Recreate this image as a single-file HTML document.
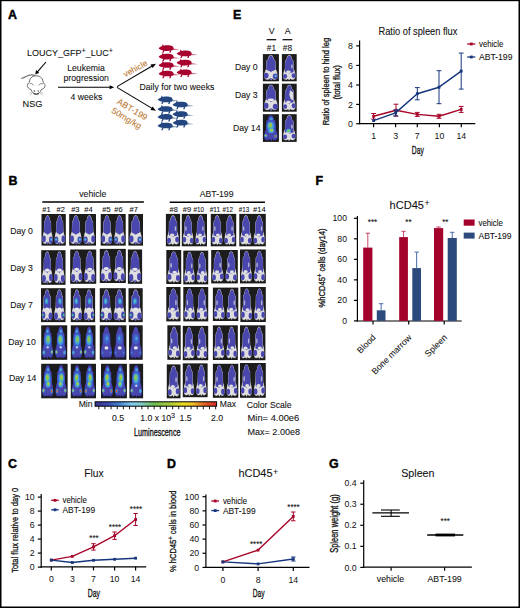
<!DOCTYPE html><html><head><meta charset="utf-8"><style>html,body{margin:0;padding:0;background:#fff;}svg{display:block;font-family:"Liberation Sans",sans-serif;}</style></head><body><svg width="520" height="608" viewBox="0 0 520 608" font-family="Liberation Sans, sans-serif"><rect x="0" y="0" width="520" height="1.2" fill="#000"/><rect x="0" y="0" width="1.5" height="608" fill="#000"/><rect x="518.5" y="0" width="1.5" height="608" fill="#000"/><rect x="0" y="606.5" width="520" height="1.5" fill="#000"/>
<text x="8" y="19.2" font-size="12.4" font-weight="bold" fill="#000" stroke="#000" stroke-width="0.45">A</text>
<text x="8.5" y="185.3" font-size="12.4" font-weight="bold" fill="#000" stroke="#000" stroke-width="0.45">B</text>
<text x="233" y="19.3" font-size="12.4" font-weight="bold" fill="#000" stroke="#000" stroke-width="0.45">E</text>
<text x="315.5" y="185.4" font-size="12.4" font-weight="bold" fill="#000" stroke="#000" stroke-width="0.45">F</text>
<text x="8" y="467.6" font-size="12.4" font-weight="bold" fill="#000" stroke="#000" stroke-width="0.45">C</text>
<text x="167" y="468" font-size="12.4" font-weight="bold" fill="#000" stroke="#000" stroke-width="0.45">D</text>
<text x="329" y="468.3" font-size="12.4" font-weight="bold" fill="#000" stroke="#000" stroke-width="0.45">G</text>
<text x="27.1" y="56.0" font-size="9" fill="#111" stroke="#111" stroke-width="0.08">LOUCY_GFP<tspan font-size="7.2" dy="-3.2">+</tspan><tspan dy="3.2">_LUC</tspan><tspan font-size="7.2" dy="-3.2">+</tspan></text>
<line x1="46" y1="62" x2="37.2" y2="72.2" stroke="#000" stroke-width="1.1" />
<path d="M35.3,74.4 L36.0,69.9 L39.2,72.7 Z" fill="#000"/>
<g fill="none" stroke="#333" stroke-width="0.7"><path d="M21.2,78 C22.5,79 24,77.5 27,76 C30,74.6 33,74.5 35.2,75.5" stroke="#777" stroke-width="1.3"/><path d="M36.2,75.8 C31.5,75.8 29.3,79 29.4,82.5 C27.8,83.2 27,85 27.6,86.8 C28.3,88.6 30,89.2 31,89.4 C32,92.5 34,94 36.2,94 C38.4,94 40.4,92.5 41.4,89.4 C42.5,89.2 44.2,88.6 44.8,86.8 C45.4,85 44.6,83.2 43,82.5 C43.1,79 40.9,75.8 36.2,75.8 Z"/><path d="M29.6,84.2 C30.5,83.1 32.5,83.2 33.6,85.4" stroke="#777" stroke-width="0.9"/><path d="M42.8,84.2 C41.9,83.1 39.9,83.2 38.8,85.4" stroke="#777" stroke-width="0.9"/><path d="M32.2,92.6 L29.2,93.2 M32.4,93.3 L29.8,95.4 M40.2,92.6 L43.2,93.2 M40,93.3 L42.6,95.4" stroke="#999" stroke-width="0.55"/><path d="M33.5,93.6 Q36.2,95.2 39,93.6" stroke="#222" stroke-width="0.9"/></g>
<circle cx="34.3" cy="91" r="0.7" fill="#444"/><circle cx="38.2" cy="91" r="0.7" fill="#444"/>
<text transform="translate(22.6,107.4) scale(1,1.08)" font-size="9.2" text-anchor="start" font-weight="normal" fill="#111"  stroke="#111" stroke-width="0.08">NSG</text>
<text transform="translate(86,71.2) scale(1,1.08)" font-size="8.7" text-anchor="middle" font-weight="normal" fill="#111"  stroke="#111" stroke-width="0.08">Leukemia</text>
<text transform="translate(86.2,81.4) scale(1,1.08)" font-size="8.7" text-anchor="middle" font-weight="normal" fill="#111"  stroke="#111" stroke-width="0.08">progression</text>
<line x1="58" y1="87.3" x2="110.5" y2="87.3" stroke="#000" stroke-width="1.1" />
<path d="M114.2,87.3 L109.6,85.3 L109.6,89.3 Z" fill="#000"/>
<text transform="translate(86.4,99.6) scale(1,1.08)" font-size="8.7" text-anchor="middle" font-weight="normal" fill="#111"  stroke="#111" stroke-width="0.08">4 weeks</text>
<line x1="117" y1="86.6" x2="152.5" y2="65.8" stroke="#000" stroke-width="1.1" />
<line x1="117" y1="87.4" x2="152.5" y2="108.6" stroke="#000" stroke-width="1.1" />
<path d="M156,63.8 L150.5,64.5 L152.6,68.1 Z" fill="#000"/>
<path d="M156,110.8 L150.5,110.1 L152.6,106.5 Z" fill="#000"/>
<text transform="translate(125.2,77.3) rotate(-28.5)" font-size="8.4" fill="#b9772f" stroke="#b9772f" stroke-width="0.08">vehicle</text>
<text transform="translate(116.2,103.2) rotate(31)" font-size="8.7" fill="#b9772f" stroke="#b9772f" stroke-width="0.08">ABT-199</text>
<text transform="translate(110.8,112.2) rotate(31)" font-size="8.7" fill="#b9772f" stroke="#b9772f" stroke-width="0.08">50mg/kg</text>
<text transform="translate(139.5,89.8) scale(1,1.08)" font-size="8.7" text-anchor="start" font-weight="normal" fill="#111"  stroke="#111" stroke-width="0.08">Daily for two weeks</text>
<g transform="translate(167,48.3)" fill="#a8022e"><path d="M-8.4,0.2 C-7.4,-0.9 -6.4,-1.8 -5,-2.2 L-4.3,-4.1 L-3.1,-2.6 C-1,-3.2 3,-3.3 5.2,-2.3 C6.9,-1.4 7.1,0.8 6,1.8 C4,2.8 -1,2.9 -4,2.1 C-5.6,1.7 -7.1,1.1 -8.4,0.2 Z"/><path d="M-3.6,1.8 L-4.8,4.5 L-3.5,4.5 L-2.3,2.2 Z M3,2 L2.2,4.5 L3.5,4.5 L4.5,1.8 Z"/><path d="M5.8,-0.1 L13,1.4 L5.8,1.7 Z" opacity="0.55"/></g>
<g transform="translate(167,56.8)" fill="#a8022e"><path d="M-8.4,0.2 C-7.4,-0.9 -6.4,-1.8 -5,-2.2 L-4.3,-4.1 L-3.1,-2.6 C-1,-3.2 3,-3.3 5.2,-2.3 C6.9,-1.4 7.1,0.8 6,1.8 C4,2.8 -1,2.9 -4,2.1 C-5.6,1.7 -7.1,1.1 -8.4,0.2 Z"/><path d="M-3.6,1.8 L-4.8,4.5 L-3.5,4.5 L-2.3,2.2 Z M3,2 L2.2,4.5 L3.5,4.5 L4.5,1.8 Z"/><path d="M5.8,-0.1 L13,1.4 L5.8,1.7 Z" opacity="0.55"/></g>
<g transform="translate(167,65.2)" fill="#a8022e"><path d="M-8.4,0.2 C-7.4,-0.9 -6.4,-1.8 -5,-2.2 L-4.3,-4.1 L-3.1,-2.6 C-1,-3.2 3,-3.3 5.2,-2.3 C6.9,-1.4 7.1,0.8 6,1.8 C4,2.8 -1,2.9 -4,2.1 C-5.6,1.7 -7.1,1.1 -8.4,0.2 Z"/><path d="M-3.6,1.8 L-4.8,4.5 L-3.5,4.5 L-2.3,2.2 Z M3,2 L2.2,4.5 L3.5,4.5 L4.5,1.8 Z"/><path d="M5.8,-0.1 L13,1.4 L5.8,1.7 Z" opacity="0.55"/></g>
<g transform="translate(167,73.7)" fill="#a8022e"><path d="M-8.4,0.2 C-7.4,-0.9 -6.4,-1.8 -5,-2.2 L-4.3,-4.1 L-3.1,-2.6 C-1,-3.2 3,-3.3 5.2,-2.3 C6.9,-1.4 7.1,0.8 6,1.8 C4,2.8 -1,2.9 -4,2.1 C-5.6,1.7 -7.1,1.1 -8.4,0.2 Z"/><path d="M-3.6,1.8 L-4.8,4.5 L-3.5,4.5 L-2.3,2.2 Z M3,2 L2.2,4.5 L3.5,4.5 L4.5,1.8 Z"/><path d="M5.8,-0.1 L13,1.4 L5.8,1.7 Z" opacity="0.55"/></g>
<g transform="translate(185,53.6)" fill="#a8022e"><path d="M-8.4,0.2 C-7.4,-0.9 -6.4,-1.8 -5,-2.2 L-4.3,-4.1 L-3.1,-2.6 C-1,-3.2 3,-3.3 5.2,-2.3 C6.9,-1.4 7.1,0.8 6,1.8 C4,2.8 -1,2.9 -4,2.1 C-5.6,1.7 -7.1,1.1 -8.4,0.2 Z"/><path d="M-3.6,1.8 L-4.8,4.5 L-3.5,4.5 L-2.3,2.2 Z M3,2 L2.2,4.5 L3.5,4.5 L4.5,1.8 Z"/><path d="M5.8,-0.1 L13,1.4 L5.8,1.7 Z" opacity="0.55"/></g>
<g transform="translate(185,62.8)" fill="#a8022e"><path d="M-8.4,0.2 C-7.4,-0.9 -6.4,-1.8 -5,-2.2 L-4.3,-4.1 L-3.1,-2.6 C-1,-3.2 3,-3.3 5.2,-2.3 C6.9,-1.4 7.1,0.8 6,1.8 C4,2.8 -1,2.9 -4,2.1 C-5.6,1.7 -7.1,1.1 -8.4,0.2 Z"/><path d="M-3.6,1.8 L-4.8,4.5 L-3.5,4.5 L-2.3,2.2 Z M3,2 L2.2,4.5 L3.5,4.5 L4.5,1.8 Z"/><path d="M5.8,-0.1 L13,1.4 L5.8,1.7 Z" opacity="0.55"/></g>
<g transform="translate(185,72.5)" fill="#a8022e"><path d="M-8.4,0.2 C-7.4,-0.9 -6.4,-1.8 -5,-2.2 L-4.3,-4.1 L-3.1,-2.6 C-1,-3.2 3,-3.3 5.2,-2.3 C6.9,-1.4 7.1,0.8 6,1.8 C4,2.8 -1,2.9 -4,2.1 C-5.6,1.7 -7.1,1.1 -8.4,0.2 Z"/><path d="M-3.6,1.8 L-4.8,4.5 L-3.5,4.5 L-2.3,2.2 Z M3,2 L2.2,4.5 L3.5,4.5 L4.5,1.8 Z"/><path d="M5.8,-0.1 L13,1.4 L5.8,1.7 Z" opacity="0.55"/></g>
<g transform="translate(166,99.6)" fill="#234680"><path d="M-8.4,0.2 C-7.4,-0.9 -6.4,-1.8 -5,-2.2 L-4.3,-4.1 L-3.1,-2.6 C-1,-3.2 3,-3.3 5.2,-2.3 C6.9,-1.4 7.1,0.8 6,1.8 C4,2.8 -1,2.9 -4,2.1 C-5.6,1.7 -7.1,1.1 -8.4,0.2 Z"/><path d="M-3.6,1.8 L-4.8,4.5 L-3.5,4.5 L-2.3,2.2 Z M3,2 L2.2,4.5 L3.5,4.5 L4.5,1.8 Z"/><path d="M5.8,-0.1 L13,1.4 L5.8,1.7 Z" opacity="0.55"/></g>
<g transform="translate(166,109.2)" fill="#234680"><path d="M-8.4,0.2 C-7.4,-0.9 -6.4,-1.8 -5,-2.2 L-4.3,-4.1 L-3.1,-2.6 C-1,-3.2 3,-3.3 5.2,-2.3 C6.9,-1.4 7.1,0.8 6,1.8 C4,2.8 -1,2.9 -4,2.1 C-5.6,1.7 -7.1,1.1 -8.4,0.2 Z"/><path d="M-3.6,1.8 L-4.8,4.5 L-3.5,4.5 L-2.3,2.2 Z M3,2 L2.2,4.5 L3.5,4.5 L4.5,1.8 Z"/><path d="M5.8,-0.1 L13,1.4 L5.8,1.7 Z" opacity="0.55"/></g>
<g transform="translate(166,117.0)" fill="#234680"><path d="M-8.4,0.2 C-7.4,-0.9 -6.4,-1.8 -5,-2.2 L-4.3,-4.1 L-3.1,-2.6 C-1,-3.2 3,-3.3 5.2,-2.3 C6.9,-1.4 7.1,0.8 6,1.8 C4,2.8 -1,2.9 -4,2.1 C-5.6,1.7 -7.1,1.1 -8.4,0.2 Z"/><path d="M-3.6,1.8 L-4.8,4.5 L-3.5,4.5 L-2.3,2.2 Z M3,2 L2.2,4.5 L3.5,4.5 L4.5,1.8 Z"/><path d="M5.8,-0.1 L13,1.4 L5.8,1.7 Z" opacity="0.55"/></g>
<g transform="translate(166,125.7)" fill="#234680"><path d="M-8.4,0.2 C-7.4,-0.9 -6.4,-1.8 -5,-2.2 L-4.3,-4.1 L-3.1,-2.6 C-1,-3.2 3,-3.3 5.2,-2.3 C6.9,-1.4 7.1,0.8 6,1.8 C4,2.8 -1,2.9 -4,2.1 C-5.6,1.7 -7.1,1.1 -8.4,0.2 Z"/><path d="M-3.6,1.8 L-4.8,4.5 L-3.5,4.5 L-2.3,2.2 Z M3,2 L2.2,4.5 L3.5,4.5 L4.5,1.8 Z"/><path d="M5.8,-0.1 L13,1.4 L5.8,1.7 Z" opacity="0.55"/></g>
<g transform="translate(181,104.7)" fill="#234680"><path d="M-8.4,0.2 C-7.4,-0.9 -6.4,-1.8 -5,-2.2 L-4.3,-4.1 L-3.1,-2.6 C-1,-3.2 3,-3.3 5.2,-2.3 C6.9,-1.4 7.1,0.8 6,1.8 C4,2.8 -1,2.9 -4,2.1 C-5.6,1.7 -7.1,1.1 -8.4,0.2 Z"/><path d="M-3.6,1.8 L-4.8,4.5 L-3.5,4.5 L-2.3,2.2 Z M3,2 L2.2,4.5 L3.5,4.5 L4.5,1.8 Z"/><path d="M5.8,-0.1 L13,1.4 L5.8,1.7 Z" opacity="0.55"/></g>
<g transform="translate(181,114.3)" fill="#234680"><path d="M-8.4,0.2 C-7.4,-0.9 -6.4,-1.8 -5,-2.2 L-4.3,-4.1 L-3.1,-2.6 C-1,-3.2 3,-3.3 5.2,-2.3 C6.9,-1.4 7.1,0.8 6,1.8 C4,2.8 -1,2.9 -4,2.1 C-5.6,1.7 -7.1,1.1 -8.4,0.2 Z"/><path d="M-3.6,1.8 L-4.8,4.5 L-3.5,4.5 L-2.3,2.2 Z M3,2 L2.2,4.5 L3.5,4.5 L4.5,1.8 Z"/><path d="M5.8,-0.1 L13,1.4 L5.8,1.7 Z" opacity="0.55"/></g>
<g transform="translate(181,122.9)" fill="#234680"><path d="M-8.4,0.2 C-7.4,-0.9 -6.4,-1.8 -5,-2.2 L-4.3,-4.1 L-3.1,-2.6 C-1,-3.2 3,-3.3 5.2,-2.3 C6.9,-1.4 7.1,0.8 6,1.8 C4,2.8 -1,2.9 -4,2.1 C-5.6,1.7 -7.1,1.1 -8.4,0.2 Z"/><path d="M-3.6,1.8 L-4.8,4.5 L-3.5,4.5 L-2.3,2.2 Z M3,2 L2.2,4.5 L3.5,4.5 L4.5,1.8 Z"/><path d="M5.8,-0.1 L13,1.4 L5.8,1.7 Z" opacity="0.55"/></g>
<defs><filter id="bl" x="-5%" y="-5%" width="110%" height="110%"><feGaussianBlur stdDeviation="0.35"/></filter></defs>
<g filter="url(#bl)"><rect x="41.5" y="214" width="24.30" height="31.60" fill="#1a1a1a"/><g transform="translate(41.62,214.50) scale(11.907,30.600)"><path d="M0.5,0.02 C0.62,0.02 0.68,0.1 0.7,0.18 L0.8,0.24 L0.8,0.3 C0.81,0.4 0.81,0.5 0.82,0.56 C0.9,0.64 0.95,0.74 0.93,0.86 C0.91,0.94 0.81,0.97 0.71,0.96 L0.58,0.93 L0.52,0.99 L0.44,0.93 L0.3,0.96 C0.2,0.97 0.09,0.94 0.07,0.86 C0.05,0.74 0.1,0.64 0.18,0.56 C0.19,0.5 0.19,0.4 0.2,0.3 L0.2,0.24 L0.3,0.18 C0.32,0.1 0.38,0.02 0.5,0.02 Z" fill="#8a8a8a"/><path d="M0.5,0.02 C0.62,0.02 0.68,0.1 0.7,0.18 L0.8,0.24 L0.8,0.3 C0.81,0.4 0.81,0.5 0.82,0.56 C0.9,0.64 0.95,0.74 0.93,0.86 C0.91,0.94 0.81,0.97 0.71,0.96 L0.58,0.93 L0.52,0.99 L0.44,0.93 L0.3,0.96 C0.2,0.97 0.09,0.94 0.07,0.86 C0.05,0.74 0.1,0.64 0.18,0.56 C0.19,0.5 0.19,0.4 0.2,0.3 L0.2,0.24 L0.3,0.18 C0.32,0.1 0.38,0.02 0.5,0.02 Z" fill="#dedede" transform="translate(0.04,0.015) scale(0.92,0.97)"/><path d="M0.5,0.04 C0.6,0.04 0.66,0.11 0.68,0.19 L0.78,0.25 L0.78,0.3 C0.79,0.4 0.79,0.5 0.8,0.57 C0.7,0.62 0.6,0.62 0.5,0.66 C0.4,0.62 0.3,0.62 0.2,0.57 C0.21,0.5 0.21,0.4 0.22,0.3 L0.22,0.25 L0.32,0.19 C0.34,0.11 0.4,0.04 0.5,0.04 Z" fill="#4946ae"/><ellipse cx="0.2" cy="0.8" rx="0.15" ry="0.11" fill="#4946ae"/><ellipse cx="0.78" cy="0.83" rx="0.16" ry="0.11" fill="#4946ae"/><ellipse cx="0.5" cy="0.93" rx="0.12" ry="0.04" fill="#4946ae" opacity="0.7"/><ellipse cx="0.8" cy="0.82" rx="0.08" ry="0.04" fill="#4fc0e8"/></g><g transform="translate(65.68,214.50) scale(-11.907,30.600)"><path d="M0.5,0.02 C0.62,0.02 0.68,0.1 0.7,0.18 L0.8,0.24 L0.8,0.3 C0.81,0.4 0.81,0.5 0.82,0.56 C0.9,0.64 0.95,0.74 0.93,0.86 C0.91,0.94 0.81,0.97 0.71,0.96 L0.58,0.93 L0.52,0.99 L0.44,0.93 L0.3,0.96 C0.2,0.97 0.09,0.94 0.07,0.86 C0.05,0.74 0.1,0.64 0.18,0.56 C0.19,0.5 0.19,0.4 0.2,0.3 L0.2,0.24 L0.3,0.18 C0.32,0.1 0.38,0.02 0.5,0.02 Z" fill="#8a8a8a"/><path d="M0.5,0.02 C0.62,0.02 0.68,0.1 0.7,0.18 L0.8,0.24 L0.8,0.3 C0.81,0.4 0.81,0.5 0.82,0.56 C0.9,0.64 0.95,0.74 0.93,0.86 C0.91,0.94 0.81,0.97 0.71,0.96 L0.58,0.93 L0.52,0.99 L0.44,0.93 L0.3,0.96 C0.2,0.97 0.09,0.94 0.07,0.86 C0.05,0.74 0.1,0.64 0.18,0.56 C0.19,0.5 0.19,0.4 0.2,0.3 L0.2,0.24 L0.3,0.18 C0.32,0.1 0.38,0.02 0.5,0.02 Z" fill="#dedede" transform="translate(0.04,0.015) scale(0.92,0.97)"/><path d="M0.5,0.04 C0.6,0.04 0.66,0.11 0.68,0.19 L0.78,0.25 L0.78,0.3 C0.79,0.4 0.79,0.5 0.8,0.57 C0.7,0.62 0.6,0.62 0.5,0.66 C0.4,0.62 0.3,0.62 0.2,0.57 C0.21,0.5 0.21,0.4 0.22,0.3 L0.22,0.25 L0.32,0.19 C0.34,0.11 0.4,0.04 0.5,0.04 Z" fill="#4946ae"/><ellipse cx="0.2" cy="0.8" rx="0.15" ry="0.11" fill="#4946ae"/><ellipse cx="0.78" cy="0.83" rx="0.16" ry="0.11" fill="#4946ae"/><ellipse cx="0.5" cy="0.93" rx="0.12" ry="0.04" fill="#4946ae" opacity="0.7"/><ellipse cx="0.8" cy="0.82" rx="0.08" ry="0.04" fill="#4fc0e8"/></g></g>
<g filter="url(#bl)"><rect x="69.2" y="214" width="26.80" height="31.60" fill="#1a1a1a"/><g transform="translate(69.33,214.50) scale(13.132,30.600)"><path d="M0.5,0.02 C0.62,0.02 0.68,0.1 0.7,0.18 L0.8,0.24 L0.8,0.3 C0.81,0.4 0.81,0.5 0.82,0.56 C0.9,0.64 0.95,0.74 0.93,0.86 C0.91,0.94 0.81,0.97 0.71,0.96 L0.58,0.93 L0.52,0.99 L0.44,0.93 L0.3,0.96 C0.2,0.97 0.09,0.94 0.07,0.86 C0.05,0.74 0.1,0.64 0.18,0.56 C0.19,0.5 0.19,0.4 0.2,0.3 L0.2,0.24 L0.3,0.18 C0.32,0.1 0.38,0.02 0.5,0.02 Z" fill="#8a8a8a"/><path d="M0.5,0.02 C0.62,0.02 0.68,0.1 0.7,0.18 L0.8,0.24 L0.8,0.3 C0.81,0.4 0.81,0.5 0.82,0.56 C0.9,0.64 0.95,0.74 0.93,0.86 C0.91,0.94 0.81,0.97 0.71,0.96 L0.58,0.93 L0.52,0.99 L0.44,0.93 L0.3,0.96 C0.2,0.97 0.09,0.94 0.07,0.86 C0.05,0.74 0.1,0.64 0.18,0.56 C0.19,0.5 0.19,0.4 0.2,0.3 L0.2,0.24 L0.3,0.18 C0.32,0.1 0.38,0.02 0.5,0.02 Z" fill="#dedede" transform="translate(0.04,0.015) scale(0.92,0.97)"/><path d="M0.5,0.04 C0.6,0.04 0.66,0.11 0.68,0.19 L0.78,0.25 L0.78,0.3 C0.79,0.4 0.79,0.5 0.8,0.57 C0.7,0.62 0.6,0.62 0.5,0.66 C0.4,0.62 0.3,0.62 0.2,0.57 C0.21,0.5 0.21,0.4 0.22,0.3 L0.22,0.25 L0.32,0.19 C0.34,0.11 0.4,0.04 0.5,0.04 Z" fill="#4946ae"/><ellipse cx="0.2" cy="0.8" rx="0.15" ry="0.11" fill="#4946ae"/><ellipse cx="0.78" cy="0.83" rx="0.16" ry="0.11" fill="#4946ae"/><ellipse cx="0.5" cy="0.93" rx="0.12" ry="0.04" fill="#4946ae" opacity="0.7"/><ellipse cx="0.8" cy="0.82" rx="0.08" ry="0.04" fill="#4fc0e8"/></g><g transform="translate(95.87,214.50) scale(-13.132,30.600)"><path d="M0.5,0.02 C0.62,0.02 0.68,0.1 0.7,0.18 L0.8,0.24 L0.8,0.3 C0.81,0.4 0.81,0.5 0.82,0.56 C0.9,0.64 0.95,0.74 0.93,0.86 C0.91,0.94 0.81,0.97 0.71,0.96 L0.58,0.93 L0.52,0.99 L0.44,0.93 L0.3,0.96 C0.2,0.97 0.09,0.94 0.07,0.86 C0.05,0.74 0.1,0.64 0.18,0.56 C0.19,0.5 0.19,0.4 0.2,0.3 L0.2,0.24 L0.3,0.18 C0.32,0.1 0.38,0.02 0.5,0.02 Z" fill="#8a8a8a"/><path d="M0.5,0.02 C0.62,0.02 0.68,0.1 0.7,0.18 L0.8,0.24 L0.8,0.3 C0.81,0.4 0.81,0.5 0.82,0.56 C0.9,0.64 0.95,0.74 0.93,0.86 C0.91,0.94 0.81,0.97 0.71,0.96 L0.58,0.93 L0.52,0.99 L0.44,0.93 L0.3,0.96 C0.2,0.97 0.09,0.94 0.07,0.86 C0.05,0.74 0.1,0.64 0.18,0.56 C0.19,0.5 0.19,0.4 0.2,0.3 L0.2,0.24 L0.3,0.18 C0.32,0.1 0.38,0.02 0.5,0.02 Z" fill="#dedede" transform="translate(0.04,0.015) scale(0.92,0.97)"/><path d="M0.5,0.04 C0.6,0.04 0.66,0.11 0.68,0.19 L0.78,0.25 L0.78,0.3 C0.79,0.4 0.79,0.5 0.8,0.57 C0.7,0.62 0.6,0.62 0.5,0.66 C0.4,0.62 0.3,0.62 0.2,0.57 C0.21,0.5 0.21,0.4 0.22,0.3 L0.22,0.25 L0.32,0.19 C0.34,0.11 0.4,0.04 0.5,0.04 Z" fill="#4946ae"/><ellipse cx="0.2" cy="0.8" rx="0.15" ry="0.11" fill="#4946ae"/><ellipse cx="0.78" cy="0.83" rx="0.16" ry="0.11" fill="#4946ae"/><ellipse cx="0.5" cy="0.93" rx="0.12" ry="0.04" fill="#4946ae" opacity="0.7"/><ellipse cx="0.8" cy="0.82" rx="0.08" ry="0.04" fill="#4fc0e8"/></g></g>
<g filter="url(#bl)"><rect x="100.7" y="214" width="25.00" height="31.60" fill="#1a1a1a"/><g transform="translate(100.83,214.50) scale(12.250,30.600)"><path d="M0.5,0.02 C0.62,0.02 0.68,0.1 0.7,0.18 L0.8,0.24 L0.8,0.3 C0.81,0.4 0.81,0.5 0.82,0.56 C0.9,0.64 0.95,0.74 0.93,0.86 C0.91,0.94 0.81,0.97 0.71,0.96 L0.58,0.93 L0.52,0.99 L0.44,0.93 L0.3,0.96 C0.2,0.97 0.09,0.94 0.07,0.86 C0.05,0.74 0.1,0.64 0.18,0.56 C0.19,0.5 0.19,0.4 0.2,0.3 L0.2,0.24 L0.3,0.18 C0.32,0.1 0.38,0.02 0.5,0.02 Z" fill="#8a8a8a"/><path d="M0.5,0.02 C0.62,0.02 0.68,0.1 0.7,0.18 L0.8,0.24 L0.8,0.3 C0.81,0.4 0.81,0.5 0.82,0.56 C0.9,0.64 0.95,0.74 0.93,0.86 C0.91,0.94 0.81,0.97 0.71,0.96 L0.58,0.93 L0.52,0.99 L0.44,0.93 L0.3,0.96 C0.2,0.97 0.09,0.94 0.07,0.86 C0.05,0.74 0.1,0.64 0.18,0.56 C0.19,0.5 0.19,0.4 0.2,0.3 L0.2,0.24 L0.3,0.18 C0.32,0.1 0.38,0.02 0.5,0.02 Z" fill="#dedede" transform="translate(0.04,0.015) scale(0.92,0.97)"/><path d="M0.5,0.04 C0.6,0.04 0.66,0.11 0.68,0.19 L0.78,0.25 L0.78,0.3 C0.79,0.4 0.79,0.5 0.8,0.57 C0.7,0.62 0.6,0.62 0.5,0.66 C0.4,0.62 0.3,0.62 0.2,0.57 C0.21,0.5 0.21,0.4 0.22,0.3 L0.22,0.25 L0.32,0.19 C0.34,0.11 0.4,0.04 0.5,0.04 Z" fill="#4946ae"/><ellipse cx="0.2" cy="0.8" rx="0.15" ry="0.11" fill="#4946ae"/><ellipse cx="0.78" cy="0.83" rx="0.16" ry="0.11" fill="#4946ae"/><ellipse cx="0.5" cy="0.93" rx="0.12" ry="0.04" fill="#4946ae" opacity="0.7"/><ellipse cx="0.8" cy="0.82" rx="0.08" ry="0.04" fill="#4fc0e8"/></g><g transform="translate(125.58,214.50) scale(-12.250,30.600)"><path d="M0.5,0.02 C0.62,0.02 0.68,0.1 0.7,0.18 L0.8,0.24 L0.8,0.3 C0.81,0.4 0.81,0.5 0.82,0.56 C0.9,0.64 0.95,0.74 0.93,0.86 C0.91,0.94 0.81,0.97 0.71,0.96 L0.58,0.93 L0.52,0.99 L0.44,0.93 L0.3,0.96 C0.2,0.97 0.09,0.94 0.07,0.86 C0.05,0.74 0.1,0.64 0.18,0.56 C0.19,0.5 0.19,0.4 0.2,0.3 L0.2,0.24 L0.3,0.18 C0.32,0.1 0.38,0.02 0.5,0.02 Z" fill="#8a8a8a"/><path d="M0.5,0.02 C0.62,0.02 0.68,0.1 0.7,0.18 L0.8,0.24 L0.8,0.3 C0.81,0.4 0.81,0.5 0.82,0.56 C0.9,0.64 0.95,0.74 0.93,0.86 C0.91,0.94 0.81,0.97 0.71,0.96 L0.58,0.93 L0.52,0.99 L0.44,0.93 L0.3,0.96 C0.2,0.97 0.09,0.94 0.07,0.86 C0.05,0.74 0.1,0.64 0.18,0.56 C0.19,0.5 0.19,0.4 0.2,0.3 L0.2,0.24 L0.3,0.18 C0.32,0.1 0.38,0.02 0.5,0.02 Z" fill="#dedede" transform="translate(0.04,0.015) scale(0.92,0.97)"/><path d="M0.5,0.04 C0.6,0.04 0.66,0.11 0.68,0.19 L0.78,0.25 L0.78,0.3 C0.79,0.4 0.79,0.5 0.8,0.57 C0.7,0.62 0.6,0.62 0.5,0.66 C0.4,0.62 0.3,0.62 0.2,0.57 C0.21,0.5 0.21,0.4 0.22,0.3 L0.22,0.25 L0.32,0.19 C0.34,0.11 0.4,0.04 0.5,0.04 Z" fill="#4946ae"/><ellipse cx="0.2" cy="0.8" rx="0.15" ry="0.11" fill="#4946ae"/><ellipse cx="0.78" cy="0.83" rx="0.16" ry="0.11" fill="#4946ae"/><ellipse cx="0.5" cy="0.93" rx="0.12" ry="0.04" fill="#4946ae" opacity="0.7"/><ellipse cx="0.8" cy="0.82" rx="0.08" ry="0.04" fill="#4fc0e8"/></g></g>
<g filter="url(#bl)"><rect x="128.4" y="214" width="14.60" height="31.60" fill="#1a1a1a"/><g transform="translate(128.55,214.50) scale(14.308,30.600)"><path d="M0.5,0.02 C0.62,0.02 0.68,0.1 0.7,0.18 L0.8,0.24 L0.8,0.3 C0.81,0.4 0.81,0.5 0.82,0.56 C0.9,0.64 0.95,0.74 0.93,0.86 C0.91,0.94 0.81,0.97 0.71,0.96 L0.58,0.93 L0.52,0.99 L0.44,0.93 L0.3,0.96 C0.2,0.97 0.09,0.94 0.07,0.86 C0.05,0.74 0.1,0.64 0.18,0.56 C0.19,0.5 0.19,0.4 0.2,0.3 L0.2,0.24 L0.3,0.18 C0.32,0.1 0.38,0.02 0.5,0.02 Z" fill="#8a8a8a"/><path d="M0.5,0.02 C0.62,0.02 0.68,0.1 0.7,0.18 L0.8,0.24 L0.8,0.3 C0.81,0.4 0.81,0.5 0.82,0.56 C0.9,0.64 0.95,0.74 0.93,0.86 C0.91,0.94 0.81,0.97 0.71,0.96 L0.58,0.93 L0.52,0.99 L0.44,0.93 L0.3,0.96 C0.2,0.97 0.09,0.94 0.07,0.86 C0.05,0.74 0.1,0.64 0.18,0.56 C0.19,0.5 0.19,0.4 0.2,0.3 L0.2,0.24 L0.3,0.18 C0.32,0.1 0.38,0.02 0.5,0.02 Z" fill="#dedede" transform="translate(0.04,0.015) scale(0.92,0.97)"/><path d="M0.5,0.04 C0.6,0.04 0.66,0.11 0.68,0.19 L0.78,0.25 L0.78,0.3 C0.79,0.4 0.79,0.5 0.8,0.57 C0.7,0.62 0.6,0.62 0.5,0.66 C0.4,0.62 0.3,0.62 0.2,0.57 C0.21,0.5 0.21,0.4 0.22,0.3 L0.22,0.25 L0.32,0.19 C0.34,0.11 0.4,0.04 0.5,0.04 Z" fill="#4946ae"/><ellipse cx="0.2" cy="0.8" rx="0.15" ry="0.11" fill="#4946ae"/><ellipse cx="0.78" cy="0.83" rx="0.16" ry="0.11" fill="#4946ae"/><ellipse cx="0.5" cy="0.93" rx="0.12" ry="0.04" fill="#4946ae" opacity="0.7"/><ellipse cx="0.8" cy="0.82" rx="0.08" ry="0.04" fill="#4fc0e8"/></g></g>
<g filter="url(#bl)"><rect x="41.2" y="250.2" width="24.30" height="34.60" fill="#1a1a1a"/><g transform="translate(53.23,250.70) scale(-11.907,33.600)"><path d="M0.5,0.02 C0.62,0.02 0.68,0.1 0.7,0.18 L0.8,0.24 L0.8,0.3 C0.81,0.4 0.81,0.5 0.82,0.56 C0.9,0.64 0.95,0.74 0.93,0.86 C0.91,0.94 0.81,0.97 0.71,0.96 L0.58,0.93 L0.52,0.99 L0.44,0.93 L0.3,0.96 C0.2,0.97 0.09,0.94 0.07,0.86 C0.05,0.74 0.1,0.64 0.18,0.56 C0.19,0.5 0.19,0.4 0.2,0.3 L0.2,0.24 L0.3,0.18 C0.32,0.1 0.38,0.02 0.5,0.02 Z" fill="#8a8a8a"/><path d="M0.5,0.02 C0.62,0.02 0.68,0.1 0.7,0.18 L0.8,0.24 L0.8,0.3 C0.81,0.4 0.81,0.5 0.82,0.56 C0.9,0.64 0.95,0.74 0.93,0.86 C0.91,0.94 0.81,0.97 0.71,0.96 L0.58,0.93 L0.52,0.99 L0.44,0.93 L0.3,0.96 C0.2,0.97 0.09,0.94 0.07,0.86 C0.05,0.74 0.1,0.64 0.18,0.56 C0.19,0.5 0.19,0.4 0.2,0.3 L0.2,0.24 L0.3,0.18 C0.32,0.1 0.38,0.02 0.5,0.02 Z" fill="#dedede" transform="translate(0.04,0.015) scale(0.92,0.97)"/><path d="M0.5,0.04 C0.6,0.04 0.66,0.11 0.68,0.19 L0.78,0.25 L0.78,0.3 C0.79,0.4 0.79,0.5 0.8,0.57 C0.7,0.62 0.6,0.62 0.5,0.66 C0.4,0.62 0.3,0.62 0.2,0.57 C0.21,0.5 0.21,0.4 0.22,0.3 L0.22,0.25 L0.32,0.19 C0.34,0.11 0.4,0.04 0.5,0.04 Z" fill="#4946ae"/><ellipse cx="0.2" cy="0.8" rx="0.15" ry="0.11" fill="#4946ae"/><ellipse cx="0.78" cy="0.83" rx="0.16" ry="0.11" fill="#4946ae"/><ellipse cx="0.5" cy="0.93" rx="0.12" ry="0.04" fill="#4946ae" opacity="0.7"/><ellipse cx="0.5" cy="0.58" rx="0.2" ry="0.05" fill="#e8e8e8"/></g><g transform="translate(53.47,250.70) scale(11.907,33.600)"><path d="M0.5,0.02 C0.62,0.02 0.68,0.1 0.7,0.18 L0.8,0.24 L0.8,0.3 C0.81,0.4 0.81,0.5 0.82,0.56 C0.9,0.64 0.95,0.74 0.93,0.86 C0.91,0.94 0.81,0.97 0.71,0.96 L0.58,0.93 L0.52,0.99 L0.44,0.93 L0.3,0.96 C0.2,0.97 0.09,0.94 0.07,0.86 C0.05,0.74 0.1,0.64 0.18,0.56 C0.19,0.5 0.19,0.4 0.2,0.3 L0.2,0.24 L0.3,0.18 C0.32,0.1 0.38,0.02 0.5,0.02 Z" fill="#8a8a8a"/><path d="M0.5,0.02 C0.62,0.02 0.68,0.1 0.7,0.18 L0.8,0.24 L0.8,0.3 C0.81,0.4 0.81,0.5 0.82,0.56 C0.9,0.64 0.95,0.74 0.93,0.86 C0.91,0.94 0.81,0.97 0.71,0.96 L0.58,0.93 L0.52,0.99 L0.44,0.93 L0.3,0.96 C0.2,0.97 0.09,0.94 0.07,0.86 C0.05,0.74 0.1,0.64 0.18,0.56 C0.19,0.5 0.19,0.4 0.2,0.3 L0.2,0.24 L0.3,0.18 C0.32,0.1 0.38,0.02 0.5,0.02 Z" fill="#dedede" transform="translate(0.04,0.015) scale(0.92,0.97)"/><path d="M0.5,0.04 C0.6,0.04 0.66,0.11 0.68,0.19 L0.78,0.25 L0.78,0.3 C0.79,0.4 0.79,0.5 0.8,0.57 C0.7,0.62 0.6,0.62 0.5,0.66 C0.4,0.62 0.3,0.62 0.2,0.57 C0.21,0.5 0.21,0.4 0.22,0.3 L0.22,0.25 L0.32,0.19 C0.34,0.11 0.4,0.04 0.5,0.04 Z" fill="#4946ae"/><ellipse cx="0.2" cy="0.8" rx="0.15" ry="0.11" fill="#4946ae"/><ellipse cx="0.78" cy="0.83" rx="0.16" ry="0.11" fill="#4946ae"/><ellipse cx="0.5" cy="0.93" rx="0.12" ry="0.04" fill="#4946ae" opacity="0.7"/><ellipse cx="0.5" cy="0.58" rx="0.2" ry="0.05" fill="#e8e8e8"/></g></g>
<g filter="url(#bl)"><rect x="70.2" y="249.5" width="26.00" height="34.30" fill="#1a1a1a"/><g transform="translate(83.07,250.00) scale(-12.740,33.300)"><path d="M0.5,0.02 C0.62,0.02 0.68,0.1 0.7,0.18 L0.8,0.24 L0.8,0.3 C0.81,0.4 0.81,0.5 0.82,0.56 C0.9,0.64 0.95,0.74 0.93,0.86 C0.91,0.94 0.81,0.97 0.71,0.96 L0.58,0.93 L0.52,0.99 L0.44,0.93 L0.3,0.96 C0.2,0.97 0.09,0.94 0.07,0.86 C0.05,0.74 0.1,0.64 0.18,0.56 C0.19,0.5 0.19,0.4 0.2,0.3 L0.2,0.24 L0.3,0.18 C0.32,0.1 0.38,0.02 0.5,0.02 Z" fill="#8a8a8a"/><path d="M0.5,0.02 C0.62,0.02 0.68,0.1 0.7,0.18 L0.8,0.24 L0.8,0.3 C0.81,0.4 0.81,0.5 0.82,0.56 C0.9,0.64 0.95,0.74 0.93,0.86 C0.91,0.94 0.81,0.97 0.71,0.96 L0.58,0.93 L0.52,0.99 L0.44,0.93 L0.3,0.96 C0.2,0.97 0.09,0.94 0.07,0.86 C0.05,0.74 0.1,0.64 0.18,0.56 C0.19,0.5 0.19,0.4 0.2,0.3 L0.2,0.24 L0.3,0.18 C0.32,0.1 0.38,0.02 0.5,0.02 Z" fill="#dedede" transform="translate(0.04,0.015) scale(0.92,0.97)"/><path d="M0.5,0.04 C0.6,0.04 0.66,0.11 0.68,0.19 L0.78,0.25 L0.78,0.3 C0.79,0.4 0.79,0.5 0.8,0.57 C0.7,0.62 0.6,0.62 0.5,0.66 C0.4,0.62 0.3,0.62 0.2,0.57 C0.21,0.5 0.21,0.4 0.22,0.3 L0.22,0.25 L0.32,0.19 C0.34,0.11 0.4,0.04 0.5,0.04 Z" fill="#4946ae"/><ellipse cx="0.2" cy="0.8" rx="0.15" ry="0.11" fill="#4946ae"/><ellipse cx="0.78" cy="0.83" rx="0.16" ry="0.11" fill="#4946ae"/><ellipse cx="0.5" cy="0.93" rx="0.12" ry="0.04" fill="#4946ae" opacity="0.7"/><ellipse cx="0.5" cy="0.58" rx="0.2" ry="0.05" fill="#e8e8e8"/></g><g transform="translate(83.33,250.00) scale(12.740,33.300)"><path d="M0.5,0.02 C0.62,0.02 0.68,0.1 0.7,0.18 L0.8,0.24 L0.8,0.3 C0.81,0.4 0.81,0.5 0.82,0.56 C0.9,0.64 0.95,0.74 0.93,0.86 C0.91,0.94 0.81,0.97 0.71,0.96 L0.58,0.93 L0.52,0.99 L0.44,0.93 L0.3,0.96 C0.2,0.97 0.09,0.94 0.07,0.86 C0.05,0.74 0.1,0.64 0.18,0.56 C0.19,0.5 0.19,0.4 0.2,0.3 L0.2,0.24 L0.3,0.18 C0.32,0.1 0.38,0.02 0.5,0.02 Z" fill="#8a8a8a"/><path d="M0.5,0.02 C0.62,0.02 0.68,0.1 0.7,0.18 L0.8,0.24 L0.8,0.3 C0.81,0.4 0.81,0.5 0.82,0.56 C0.9,0.64 0.95,0.74 0.93,0.86 C0.91,0.94 0.81,0.97 0.71,0.96 L0.58,0.93 L0.52,0.99 L0.44,0.93 L0.3,0.96 C0.2,0.97 0.09,0.94 0.07,0.86 C0.05,0.74 0.1,0.64 0.18,0.56 C0.19,0.5 0.19,0.4 0.2,0.3 L0.2,0.24 L0.3,0.18 C0.32,0.1 0.38,0.02 0.5,0.02 Z" fill="#dedede" transform="translate(0.04,0.015) scale(0.92,0.97)"/><path d="M0.5,0.04 C0.6,0.04 0.66,0.11 0.68,0.19 L0.78,0.25 L0.78,0.3 C0.79,0.4 0.79,0.5 0.8,0.57 C0.7,0.62 0.6,0.62 0.5,0.66 C0.4,0.62 0.3,0.62 0.2,0.57 C0.21,0.5 0.21,0.4 0.22,0.3 L0.22,0.25 L0.32,0.19 C0.34,0.11 0.4,0.04 0.5,0.04 Z" fill="#4946ae"/><ellipse cx="0.2" cy="0.8" rx="0.15" ry="0.11" fill="#4946ae"/><ellipse cx="0.78" cy="0.83" rx="0.16" ry="0.11" fill="#4946ae"/><ellipse cx="0.5" cy="0.93" rx="0.12" ry="0.04" fill="#4946ae" opacity="0.7"/><ellipse cx="0.5" cy="0.58" rx="0.2" ry="0.05" fill="#e8e8e8"/></g></g>
<g filter="url(#bl)"><rect x="99.8" y="248.9" width="26.00" height="34.10" fill="#1a1a1a"/><g transform="translate(112.67,249.40) scale(-12.740,33.100)"><path d="M0.5,0.02 C0.62,0.02 0.68,0.1 0.7,0.18 L0.8,0.24 L0.8,0.3 C0.81,0.4 0.81,0.5 0.82,0.56 C0.9,0.64 0.95,0.74 0.93,0.86 C0.91,0.94 0.81,0.97 0.71,0.96 L0.58,0.93 L0.52,0.99 L0.44,0.93 L0.3,0.96 C0.2,0.97 0.09,0.94 0.07,0.86 C0.05,0.74 0.1,0.64 0.18,0.56 C0.19,0.5 0.19,0.4 0.2,0.3 L0.2,0.24 L0.3,0.18 C0.32,0.1 0.38,0.02 0.5,0.02 Z" fill="#8a8a8a"/><path d="M0.5,0.02 C0.62,0.02 0.68,0.1 0.7,0.18 L0.8,0.24 L0.8,0.3 C0.81,0.4 0.81,0.5 0.82,0.56 C0.9,0.64 0.95,0.74 0.93,0.86 C0.91,0.94 0.81,0.97 0.71,0.96 L0.58,0.93 L0.52,0.99 L0.44,0.93 L0.3,0.96 C0.2,0.97 0.09,0.94 0.07,0.86 C0.05,0.74 0.1,0.64 0.18,0.56 C0.19,0.5 0.19,0.4 0.2,0.3 L0.2,0.24 L0.3,0.18 C0.32,0.1 0.38,0.02 0.5,0.02 Z" fill="#dedede" transform="translate(0.04,0.015) scale(0.92,0.97)"/><path d="M0.5,0.04 C0.6,0.04 0.66,0.11 0.68,0.19 L0.78,0.25 L0.78,0.3 C0.79,0.4 0.79,0.5 0.8,0.57 C0.7,0.62 0.6,0.62 0.5,0.66 C0.4,0.62 0.3,0.62 0.2,0.57 C0.21,0.5 0.21,0.4 0.22,0.3 L0.22,0.25 L0.32,0.19 C0.34,0.11 0.4,0.04 0.5,0.04 Z" fill="#4946ae"/><ellipse cx="0.2" cy="0.8" rx="0.15" ry="0.11" fill="#4946ae"/><ellipse cx="0.78" cy="0.83" rx="0.16" ry="0.11" fill="#4946ae"/><ellipse cx="0.5" cy="0.93" rx="0.12" ry="0.04" fill="#4946ae" opacity="0.7"/><ellipse cx="0.5" cy="0.58" rx="0.2" ry="0.05" fill="#e8e8e8"/></g><g transform="translate(112.93,249.40) scale(12.740,33.100)"><path d="M0.5,0.02 C0.62,0.02 0.68,0.1 0.7,0.18 L0.8,0.24 L0.8,0.3 C0.81,0.4 0.81,0.5 0.82,0.56 C0.9,0.64 0.95,0.74 0.93,0.86 C0.91,0.94 0.81,0.97 0.71,0.96 L0.58,0.93 L0.52,0.99 L0.44,0.93 L0.3,0.96 C0.2,0.97 0.09,0.94 0.07,0.86 C0.05,0.74 0.1,0.64 0.18,0.56 C0.19,0.5 0.19,0.4 0.2,0.3 L0.2,0.24 L0.3,0.18 C0.32,0.1 0.38,0.02 0.5,0.02 Z" fill="#8a8a8a"/><path d="M0.5,0.02 C0.62,0.02 0.68,0.1 0.7,0.18 L0.8,0.24 L0.8,0.3 C0.81,0.4 0.81,0.5 0.82,0.56 C0.9,0.64 0.95,0.74 0.93,0.86 C0.91,0.94 0.81,0.97 0.71,0.96 L0.58,0.93 L0.52,0.99 L0.44,0.93 L0.3,0.96 C0.2,0.97 0.09,0.94 0.07,0.86 C0.05,0.74 0.1,0.64 0.18,0.56 C0.19,0.5 0.19,0.4 0.2,0.3 L0.2,0.24 L0.3,0.18 C0.32,0.1 0.38,0.02 0.5,0.02 Z" fill="#dedede" transform="translate(0.04,0.015) scale(0.92,0.97)"/><path d="M0.5,0.04 C0.6,0.04 0.66,0.11 0.68,0.19 L0.78,0.25 L0.78,0.3 C0.79,0.4 0.79,0.5 0.8,0.57 C0.7,0.62 0.6,0.62 0.5,0.66 C0.4,0.62 0.3,0.62 0.2,0.57 C0.21,0.5 0.21,0.4 0.22,0.3 L0.22,0.25 L0.32,0.19 C0.34,0.11 0.4,0.04 0.5,0.04 Z" fill="#4946ae"/><ellipse cx="0.2" cy="0.8" rx="0.15" ry="0.11" fill="#4946ae"/><ellipse cx="0.78" cy="0.83" rx="0.16" ry="0.11" fill="#4946ae"/><ellipse cx="0.5" cy="0.93" rx="0.12" ry="0.04" fill="#4946ae" opacity="0.7"/><ellipse cx="0.5" cy="0.58" rx="0.2" ry="0.05" fill="#e8e8e8"/></g></g>
<g filter="url(#bl)"><rect x="127.9" y="249.5" width="14.20" height="34.30" fill="#1a1a1a"/><g transform="translate(141.96,250.00) scale(-13.916,33.300)"><path d="M0.5,0.02 C0.62,0.02 0.68,0.1 0.7,0.18 L0.8,0.24 L0.8,0.3 C0.81,0.4 0.81,0.5 0.82,0.56 C0.9,0.64 0.95,0.74 0.93,0.86 C0.91,0.94 0.81,0.97 0.71,0.96 L0.58,0.93 L0.52,0.99 L0.44,0.93 L0.3,0.96 C0.2,0.97 0.09,0.94 0.07,0.86 C0.05,0.74 0.1,0.64 0.18,0.56 C0.19,0.5 0.19,0.4 0.2,0.3 L0.2,0.24 L0.3,0.18 C0.32,0.1 0.38,0.02 0.5,0.02 Z" fill="#8a8a8a"/><path d="M0.5,0.02 C0.62,0.02 0.68,0.1 0.7,0.18 L0.8,0.24 L0.8,0.3 C0.81,0.4 0.81,0.5 0.82,0.56 C0.9,0.64 0.95,0.74 0.93,0.86 C0.91,0.94 0.81,0.97 0.71,0.96 L0.58,0.93 L0.52,0.99 L0.44,0.93 L0.3,0.96 C0.2,0.97 0.09,0.94 0.07,0.86 C0.05,0.74 0.1,0.64 0.18,0.56 C0.19,0.5 0.19,0.4 0.2,0.3 L0.2,0.24 L0.3,0.18 C0.32,0.1 0.38,0.02 0.5,0.02 Z" fill="#dedede" transform="translate(0.04,0.015) scale(0.92,0.97)"/><path d="M0.5,0.04 C0.6,0.04 0.66,0.11 0.68,0.19 L0.78,0.25 L0.78,0.3 C0.79,0.4 0.79,0.5 0.8,0.57 C0.7,0.62 0.6,0.62 0.5,0.66 C0.4,0.62 0.3,0.62 0.2,0.57 C0.21,0.5 0.21,0.4 0.22,0.3 L0.22,0.25 L0.32,0.19 C0.34,0.11 0.4,0.04 0.5,0.04 Z" fill="#4946ae"/><ellipse cx="0.2" cy="0.8" rx="0.15" ry="0.11" fill="#4946ae"/><ellipse cx="0.78" cy="0.83" rx="0.16" ry="0.11" fill="#4946ae"/><ellipse cx="0.5" cy="0.93" rx="0.12" ry="0.04" fill="#4946ae" opacity="0.7"/><ellipse cx="0.5" cy="0.58" rx="0.2" ry="0.05" fill="#e8e8e8"/></g></g>
<g filter="url(#bl)"><rect x="41" y="288.2" width="24.50" height="33.90" fill="#1a1a1a"/><g transform="translate(41.12,288.70) scale(12.005,32.900)"><path d="M0.5,0.02 C0.62,0.02 0.68,0.1 0.7,0.18 L0.8,0.24 L0.8,0.3 C0.81,0.4 0.81,0.5 0.82,0.56 C0.9,0.64 0.95,0.74 0.93,0.86 C0.91,0.94 0.81,0.97 0.71,0.96 L0.58,0.93 L0.52,0.99 L0.44,0.93 L0.3,0.96 C0.2,0.97 0.09,0.94 0.07,0.86 C0.05,0.74 0.1,0.64 0.18,0.56 C0.19,0.5 0.19,0.4 0.2,0.3 L0.2,0.24 L0.3,0.18 C0.32,0.1 0.38,0.02 0.5,0.02 Z" fill="#8a8a8a"/><path d="M0.5,0.02 C0.62,0.02 0.68,0.1 0.7,0.18 L0.8,0.24 L0.8,0.3 C0.81,0.4 0.81,0.5 0.82,0.56 C0.9,0.64 0.95,0.74 0.93,0.86 C0.91,0.94 0.81,0.97 0.71,0.96 L0.58,0.93 L0.52,0.99 L0.44,0.93 L0.3,0.96 C0.2,0.97 0.09,0.94 0.07,0.86 C0.05,0.74 0.1,0.64 0.18,0.56 C0.19,0.5 0.19,0.4 0.2,0.3 L0.2,0.24 L0.3,0.18 C0.32,0.1 0.38,0.02 0.5,0.02 Z" fill="#dedede" transform="translate(0.04,0.015) scale(0.92,0.97)"/><path d="M0.5,0.04 C0.6,0.04 0.66,0.11 0.68,0.19 L0.78,0.25 L0.78,0.3 C0.79,0.4 0.79,0.5 0.8,0.57 C0.7,0.62 0.6,0.62 0.5,0.66 C0.4,0.62 0.3,0.62 0.2,0.57 C0.21,0.5 0.21,0.4 0.22,0.3 L0.22,0.25 L0.32,0.19 C0.34,0.11 0.4,0.04 0.5,0.04 Z" fill="#4946ae"/><ellipse cx="0.2" cy="0.8" rx="0.15" ry="0.11" fill="#4946ae"/><ellipse cx="0.78" cy="0.83" rx="0.16" ry="0.11" fill="#4946ae"/><ellipse cx="0.5" cy="0.93" rx="0.12" ry="0.04" fill="#4946ae" opacity="0.7"/><ellipse cx="0.45" cy="0.38" rx="0.15" ry="0.1" fill="#3a8ad8"/><ellipse cx="0.45" cy="0.38" rx="0.07" ry="0.05" fill="#50c8c0"/><ellipse cx="0.5" cy="0.62" rx="0.18" ry="0.05" fill="#e8e8e8"/><ellipse cx="0.15" cy="0.8" rx="0.07" ry="0.04" fill="#40c8a0"/></g><g transform="translate(65.38,288.70) scale(-12.005,32.900)"><path d="M0.5,0.02 C0.62,0.02 0.68,0.1 0.7,0.18 L0.8,0.24 L0.8,0.3 C0.81,0.4 0.81,0.5 0.82,0.56 C0.9,0.64 0.95,0.74 0.93,0.86 C0.91,0.94 0.81,0.97 0.71,0.96 L0.58,0.93 L0.52,0.99 L0.44,0.93 L0.3,0.96 C0.2,0.97 0.09,0.94 0.07,0.86 C0.05,0.74 0.1,0.64 0.18,0.56 C0.19,0.5 0.19,0.4 0.2,0.3 L0.2,0.24 L0.3,0.18 C0.32,0.1 0.38,0.02 0.5,0.02 Z" fill="#8a8a8a"/><path d="M0.5,0.02 C0.62,0.02 0.68,0.1 0.7,0.18 L0.8,0.24 L0.8,0.3 C0.81,0.4 0.81,0.5 0.82,0.56 C0.9,0.64 0.95,0.74 0.93,0.86 C0.91,0.94 0.81,0.97 0.71,0.96 L0.58,0.93 L0.52,0.99 L0.44,0.93 L0.3,0.96 C0.2,0.97 0.09,0.94 0.07,0.86 C0.05,0.74 0.1,0.64 0.18,0.56 C0.19,0.5 0.19,0.4 0.2,0.3 L0.2,0.24 L0.3,0.18 C0.32,0.1 0.38,0.02 0.5,0.02 Z" fill="#dedede" transform="translate(0.04,0.015) scale(0.92,0.97)"/><path d="M0.5,0.04 C0.6,0.04 0.66,0.11 0.68,0.19 L0.78,0.25 L0.78,0.3 C0.79,0.4 0.79,0.5 0.8,0.57 C0.7,0.62 0.6,0.62 0.5,0.66 C0.4,0.62 0.3,0.62 0.2,0.57 C0.21,0.5 0.21,0.4 0.22,0.3 L0.22,0.25 L0.32,0.19 C0.34,0.11 0.4,0.04 0.5,0.04 Z" fill="#4946ae"/><ellipse cx="0.2" cy="0.8" rx="0.15" ry="0.11" fill="#4946ae"/><ellipse cx="0.78" cy="0.83" rx="0.16" ry="0.11" fill="#4946ae"/><ellipse cx="0.5" cy="0.93" rx="0.12" ry="0.04" fill="#4946ae" opacity="0.7"/><ellipse cx="0.45" cy="0.38" rx="0.15" ry="0.1" fill="#3a8ad8"/><ellipse cx="0.45" cy="0.38" rx="0.07" ry="0.05" fill="#50c8c0"/><ellipse cx="0.5" cy="0.62" rx="0.18" ry="0.05" fill="#e8e8e8"/><ellipse cx="0.15" cy="0.8" rx="0.07" ry="0.04" fill="#40c8a0"/></g></g>
<g filter="url(#bl)"><rect x="70.8" y="288.2" width="24.30" height="33.90" fill="#1a1a1a"/><g transform="translate(70.92,288.70) scale(11.907,32.900)"><path d="M0.5,0.02 C0.62,0.02 0.68,0.1 0.7,0.18 L0.8,0.24 L0.8,0.3 C0.81,0.4 0.81,0.5 0.82,0.56 C0.9,0.64 0.95,0.74 0.93,0.86 C0.91,0.94 0.81,0.97 0.71,0.96 L0.58,0.93 L0.52,0.99 L0.44,0.93 L0.3,0.96 C0.2,0.97 0.09,0.94 0.07,0.86 C0.05,0.74 0.1,0.64 0.18,0.56 C0.19,0.5 0.19,0.4 0.2,0.3 L0.2,0.24 L0.3,0.18 C0.32,0.1 0.38,0.02 0.5,0.02 Z" fill="#8a8a8a"/><path d="M0.5,0.02 C0.62,0.02 0.68,0.1 0.7,0.18 L0.8,0.24 L0.8,0.3 C0.81,0.4 0.81,0.5 0.82,0.56 C0.9,0.64 0.95,0.74 0.93,0.86 C0.91,0.94 0.81,0.97 0.71,0.96 L0.58,0.93 L0.52,0.99 L0.44,0.93 L0.3,0.96 C0.2,0.97 0.09,0.94 0.07,0.86 C0.05,0.74 0.1,0.64 0.18,0.56 C0.19,0.5 0.19,0.4 0.2,0.3 L0.2,0.24 L0.3,0.18 C0.32,0.1 0.38,0.02 0.5,0.02 Z" fill="#dedede" transform="translate(0.04,0.015) scale(0.92,0.97)"/><path d="M0.5,0.04 C0.6,0.04 0.66,0.11 0.68,0.19 L0.78,0.25 L0.78,0.3 C0.79,0.4 0.79,0.5 0.8,0.57 C0.7,0.62 0.6,0.62 0.5,0.66 C0.4,0.62 0.3,0.62 0.2,0.57 C0.21,0.5 0.21,0.4 0.22,0.3 L0.22,0.25 L0.32,0.19 C0.34,0.11 0.4,0.04 0.5,0.04 Z" fill="#4946ae"/><ellipse cx="0.2" cy="0.8" rx="0.15" ry="0.11" fill="#4946ae"/><ellipse cx="0.78" cy="0.83" rx="0.16" ry="0.11" fill="#4946ae"/><ellipse cx="0.5" cy="0.93" rx="0.12" ry="0.04" fill="#4946ae" opacity="0.7"/><ellipse cx="0.45" cy="0.38" rx="0.15" ry="0.1" fill="#3a8ad8"/><ellipse cx="0.45" cy="0.38" rx="0.07" ry="0.05" fill="#50c8c0"/><ellipse cx="0.5" cy="0.62" rx="0.18" ry="0.05" fill="#e8e8e8"/><ellipse cx="0.15" cy="0.8" rx="0.07" ry="0.04" fill="#40c8a0"/></g><g transform="translate(94.98,288.70) scale(-11.907,32.900)"><path d="M0.5,0.02 C0.62,0.02 0.68,0.1 0.7,0.18 L0.8,0.24 L0.8,0.3 C0.81,0.4 0.81,0.5 0.82,0.56 C0.9,0.64 0.95,0.74 0.93,0.86 C0.91,0.94 0.81,0.97 0.71,0.96 L0.58,0.93 L0.52,0.99 L0.44,0.93 L0.3,0.96 C0.2,0.97 0.09,0.94 0.07,0.86 C0.05,0.74 0.1,0.64 0.18,0.56 C0.19,0.5 0.19,0.4 0.2,0.3 L0.2,0.24 L0.3,0.18 C0.32,0.1 0.38,0.02 0.5,0.02 Z" fill="#8a8a8a"/><path d="M0.5,0.02 C0.62,0.02 0.68,0.1 0.7,0.18 L0.8,0.24 L0.8,0.3 C0.81,0.4 0.81,0.5 0.82,0.56 C0.9,0.64 0.95,0.74 0.93,0.86 C0.91,0.94 0.81,0.97 0.71,0.96 L0.58,0.93 L0.52,0.99 L0.44,0.93 L0.3,0.96 C0.2,0.97 0.09,0.94 0.07,0.86 C0.05,0.74 0.1,0.64 0.18,0.56 C0.19,0.5 0.19,0.4 0.2,0.3 L0.2,0.24 L0.3,0.18 C0.32,0.1 0.38,0.02 0.5,0.02 Z" fill="#dedede" transform="translate(0.04,0.015) scale(0.92,0.97)"/><path d="M0.5,0.04 C0.6,0.04 0.66,0.11 0.68,0.19 L0.78,0.25 L0.78,0.3 C0.79,0.4 0.79,0.5 0.8,0.57 C0.7,0.62 0.6,0.62 0.5,0.66 C0.4,0.62 0.3,0.62 0.2,0.57 C0.21,0.5 0.21,0.4 0.22,0.3 L0.22,0.25 L0.32,0.19 C0.34,0.11 0.4,0.04 0.5,0.04 Z" fill="#4946ae"/><ellipse cx="0.2" cy="0.8" rx="0.15" ry="0.11" fill="#4946ae"/><ellipse cx="0.78" cy="0.83" rx="0.16" ry="0.11" fill="#4946ae"/><ellipse cx="0.5" cy="0.93" rx="0.12" ry="0.04" fill="#4946ae" opacity="0.7"/><ellipse cx="0.45" cy="0.38" rx="0.15" ry="0.1" fill="#3a8ad8"/><ellipse cx="0.45" cy="0.38" rx="0.07" ry="0.05" fill="#50c8c0"/><ellipse cx="0.5" cy="0.62" rx="0.18" ry="0.05" fill="#e8e8e8"/><ellipse cx="0.15" cy="0.8" rx="0.07" ry="0.04" fill="#40c8a0"/></g></g>
<g filter="url(#bl)"><rect x="99.8" y="288.2" width="26.00" height="33.90" fill="#1a1a1a"/><g transform="translate(99.93,288.70) scale(12.740,32.900)"><path d="M0.5,0.02 C0.62,0.02 0.68,0.1 0.7,0.18 L0.8,0.24 L0.8,0.3 C0.81,0.4 0.81,0.5 0.82,0.56 C0.9,0.64 0.95,0.74 0.93,0.86 C0.91,0.94 0.81,0.97 0.71,0.96 L0.58,0.93 L0.52,0.99 L0.44,0.93 L0.3,0.96 C0.2,0.97 0.09,0.94 0.07,0.86 C0.05,0.74 0.1,0.64 0.18,0.56 C0.19,0.5 0.19,0.4 0.2,0.3 L0.2,0.24 L0.3,0.18 C0.32,0.1 0.38,0.02 0.5,0.02 Z" fill="#8a8a8a"/><path d="M0.5,0.02 C0.62,0.02 0.68,0.1 0.7,0.18 L0.8,0.24 L0.8,0.3 C0.81,0.4 0.81,0.5 0.82,0.56 C0.9,0.64 0.95,0.74 0.93,0.86 C0.91,0.94 0.81,0.97 0.71,0.96 L0.58,0.93 L0.52,0.99 L0.44,0.93 L0.3,0.96 C0.2,0.97 0.09,0.94 0.07,0.86 C0.05,0.74 0.1,0.64 0.18,0.56 C0.19,0.5 0.19,0.4 0.2,0.3 L0.2,0.24 L0.3,0.18 C0.32,0.1 0.38,0.02 0.5,0.02 Z" fill="#dedede" transform="translate(0.04,0.015) scale(0.92,0.97)"/><path d="M0.5,0.04 C0.6,0.04 0.66,0.11 0.68,0.19 L0.78,0.25 L0.78,0.3 C0.79,0.4 0.79,0.5 0.8,0.57 C0.7,0.62 0.6,0.62 0.5,0.66 C0.4,0.62 0.3,0.62 0.2,0.57 C0.21,0.5 0.21,0.4 0.22,0.3 L0.22,0.25 L0.32,0.19 C0.34,0.11 0.4,0.04 0.5,0.04 Z" fill="#4946ae"/><ellipse cx="0.2" cy="0.8" rx="0.15" ry="0.11" fill="#4946ae"/><ellipse cx="0.78" cy="0.83" rx="0.16" ry="0.11" fill="#4946ae"/><ellipse cx="0.5" cy="0.93" rx="0.12" ry="0.04" fill="#4946ae" opacity="0.7"/><ellipse cx="0.45" cy="0.38" rx="0.15" ry="0.1" fill="#3a8ad8"/><ellipse cx="0.45" cy="0.38" rx="0.07" ry="0.05" fill="#50c8c0"/><ellipse cx="0.5" cy="0.62" rx="0.18" ry="0.05" fill="#e8e8e8"/><ellipse cx="0.15" cy="0.8" rx="0.07" ry="0.04" fill="#40c8a0"/></g><g transform="translate(125.67,288.70) scale(-12.740,32.900)"><path d="M0.5,0.02 C0.62,0.02 0.68,0.1 0.7,0.18 L0.8,0.24 L0.8,0.3 C0.81,0.4 0.81,0.5 0.82,0.56 C0.9,0.64 0.95,0.74 0.93,0.86 C0.91,0.94 0.81,0.97 0.71,0.96 L0.58,0.93 L0.52,0.99 L0.44,0.93 L0.3,0.96 C0.2,0.97 0.09,0.94 0.07,0.86 C0.05,0.74 0.1,0.64 0.18,0.56 C0.19,0.5 0.19,0.4 0.2,0.3 L0.2,0.24 L0.3,0.18 C0.32,0.1 0.38,0.02 0.5,0.02 Z" fill="#8a8a8a"/><path d="M0.5,0.02 C0.62,0.02 0.68,0.1 0.7,0.18 L0.8,0.24 L0.8,0.3 C0.81,0.4 0.81,0.5 0.82,0.56 C0.9,0.64 0.95,0.74 0.93,0.86 C0.91,0.94 0.81,0.97 0.71,0.96 L0.58,0.93 L0.52,0.99 L0.44,0.93 L0.3,0.96 C0.2,0.97 0.09,0.94 0.07,0.86 C0.05,0.74 0.1,0.64 0.18,0.56 C0.19,0.5 0.19,0.4 0.2,0.3 L0.2,0.24 L0.3,0.18 C0.32,0.1 0.38,0.02 0.5,0.02 Z" fill="#dedede" transform="translate(0.04,0.015) scale(0.92,0.97)"/><path d="M0.5,0.04 C0.6,0.04 0.66,0.11 0.68,0.19 L0.78,0.25 L0.78,0.3 C0.79,0.4 0.79,0.5 0.8,0.57 C0.7,0.62 0.6,0.62 0.5,0.66 C0.4,0.62 0.3,0.62 0.2,0.57 C0.21,0.5 0.21,0.4 0.22,0.3 L0.22,0.25 L0.32,0.19 C0.34,0.11 0.4,0.04 0.5,0.04 Z" fill="#4946ae"/><ellipse cx="0.2" cy="0.8" rx="0.15" ry="0.11" fill="#4946ae"/><ellipse cx="0.78" cy="0.83" rx="0.16" ry="0.11" fill="#4946ae"/><ellipse cx="0.5" cy="0.93" rx="0.12" ry="0.04" fill="#4946ae" opacity="0.7"/><ellipse cx="0.45" cy="0.38" rx="0.15" ry="0.1" fill="#3a8ad8"/><ellipse cx="0.45" cy="0.38" rx="0.07" ry="0.05" fill="#50c8c0"/><ellipse cx="0.5" cy="0.62" rx="0.18" ry="0.05" fill="#e8e8e8"/><ellipse cx="0.15" cy="0.8" rx="0.07" ry="0.04" fill="#40c8a0"/></g></g>
<g filter="url(#bl)"><rect x="128.5" y="288.2" width="14.20" height="33.90" fill="#1a1a1a"/><g transform="translate(128.64,288.70) scale(13.916,32.900)"><path d="M0.5,0.02 C0.62,0.02 0.68,0.1 0.7,0.18 L0.8,0.24 L0.8,0.3 C0.81,0.4 0.81,0.5 0.82,0.56 C0.9,0.64 0.95,0.74 0.93,0.86 C0.91,0.94 0.81,0.97 0.71,0.96 L0.58,0.93 L0.52,0.99 L0.44,0.93 L0.3,0.96 C0.2,0.97 0.09,0.94 0.07,0.86 C0.05,0.74 0.1,0.64 0.18,0.56 C0.19,0.5 0.19,0.4 0.2,0.3 L0.2,0.24 L0.3,0.18 C0.32,0.1 0.38,0.02 0.5,0.02 Z" fill="#8a8a8a"/><path d="M0.5,0.02 C0.62,0.02 0.68,0.1 0.7,0.18 L0.8,0.24 L0.8,0.3 C0.81,0.4 0.81,0.5 0.82,0.56 C0.9,0.64 0.95,0.74 0.93,0.86 C0.91,0.94 0.81,0.97 0.71,0.96 L0.58,0.93 L0.52,0.99 L0.44,0.93 L0.3,0.96 C0.2,0.97 0.09,0.94 0.07,0.86 C0.05,0.74 0.1,0.64 0.18,0.56 C0.19,0.5 0.19,0.4 0.2,0.3 L0.2,0.24 L0.3,0.18 C0.32,0.1 0.38,0.02 0.5,0.02 Z" fill="#dedede" transform="translate(0.04,0.015) scale(0.92,0.97)"/><path d="M0.5,0.04 C0.6,0.04 0.66,0.11 0.68,0.19 L0.78,0.25 L0.78,0.3 C0.79,0.4 0.79,0.5 0.8,0.57 C0.7,0.62 0.6,0.62 0.5,0.66 C0.4,0.62 0.3,0.62 0.2,0.57 C0.21,0.5 0.21,0.4 0.22,0.3 L0.22,0.25 L0.32,0.19 C0.34,0.11 0.4,0.04 0.5,0.04 Z" fill="#4946ae"/><ellipse cx="0.2" cy="0.8" rx="0.15" ry="0.11" fill="#4946ae"/><ellipse cx="0.78" cy="0.83" rx="0.16" ry="0.11" fill="#4946ae"/><ellipse cx="0.5" cy="0.93" rx="0.12" ry="0.04" fill="#4946ae" opacity="0.7"/><ellipse cx="0.45" cy="0.38" rx="0.15" ry="0.1" fill="#3a8ad8"/><ellipse cx="0.45" cy="0.38" rx="0.07" ry="0.05" fill="#50c8c0"/><ellipse cx="0.5" cy="0.62" rx="0.18" ry="0.05" fill="#e8e8e8"/><ellipse cx="0.15" cy="0.8" rx="0.07" ry="0.04" fill="#40c8a0"/></g></g>
<g filter="url(#bl)"><rect x="41.2" y="325.3" width="26.00" height="34.50" fill="#1a1a1a"/><g transform="translate(54.07,325.80) scale(-12.740,33.500)"><path d="M0.5,0.02 C0.62,0.02 0.68,0.1 0.7,0.18 L0.8,0.24 L0.8,0.3 C0.81,0.4 0.81,0.5 0.82,0.56 C0.9,0.64 0.95,0.74 0.93,0.86 C0.91,0.94 0.81,0.97 0.71,0.96 L0.58,0.93 L0.52,0.99 L0.44,0.93 L0.3,0.96 C0.2,0.97 0.09,0.94 0.07,0.86 C0.05,0.74 0.1,0.64 0.18,0.56 C0.19,0.5 0.19,0.4 0.2,0.3 L0.2,0.24 L0.3,0.18 C0.32,0.1 0.38,0.02 0.5,0.02 Z" fill="#3436a0"/><path d="M0.5,0.02 C0.62,0.02 0.68,0.1 0.7,0.18 L0.8,0.24 L0.8,0.3 C0.81,0.4 0.81,0.5 0.82,0.56 C0.9,0.64 0.95,0.74 0.93,0.86 C0.91,0.94 0.81,0.97 0.71,0.96 L0.58,0.93 L0.52,0.99 L0.44,0.93 L0.3,0.96 C0.2,0.97 0.09,0.94 0.07,0.86 C0.05,0.74 0.1,0.64 0.18,0.56 C0.19,0.5 0.19,0.4 0.2,0.3 L0.2,0.24 L0.3,0.18 C0.32,0.1 0.38,0.02 0.5,0.02 Z" fill="#4946ae" transform="translate(0.05,0.02) scale(0.9,0.95)"/><ellipse cx="0.5" cy="0.45" rx="0.3" ry="0.24" fill="#3e5ccc"/><ellipse cx="0.48" cy="0.42" rx="0.2" ry="0.15" fill="#44a6dc"/><ellipse cx="0.46" cy="0.4" rx="0.12" ry="0.09" fill="#86c858"/><ellipse cx="0.52" cy="0.16" rx="0.12" ry="0.06" fill="#3f7ed6"/><ellipse cx="0.52" cy="0.16" rx="0.06" ry="0.03" fill="#4cb8d8"/><ellipse cx="0.5" cy="0.64" rx="0.09" ry="0.035" fill="#d8d8f0" opacity="0.85"/><ellipse cx="0.17" cy="0.78" rx="0.1" ry="0.06" fill="#44a6d0"/><ellipse cx="0.17" cy="0.78" rx="0.05" ry="0.03" fill="#d8b040"/><ellipse cx="0.8" cy="0.8" rx="0.1" ry="0.06" fill="#44a6d0"/></g><g transform="translate(54.33,325.80) scale(12.740,33.500)"><path d="M0.5,0.02 C0.62,0.02 0.68,0.1 0.7,0.18 L0.8,0.24 L0.8,0.3 C0.81,0.4 0.81,0.5 0.82,0.56 C0.9,0.64 0.95,0.74 0.93,0.86 C0.91,0.94 0.81,0.97 0.71,0.96 L0.58,0.93 L0.52,0.99 L0.44,0.93 L0.3,0.96 C0.2,0.97 0.09,0.94 0.07,0.86 C0.05,0.74 0.1,0.64 0.18,0.56 C0.19,0.5 0.19,0.4 0.2,0.3 L0.2,0.24 L0.3,0.18 C0.32,0.1 0.38,0.02 0.5,0.02 Z" fill="#3436a0"/><path d="M0.5,0.02 C0.62,0.02 0.68,0.1 0.7,0.18 L0.8,0.24 L0.8,0.3 C0.81,0.4 0.81,0.5 0.82,0.56 C0.9,0.64 0.95,0.74 0.93,0.86 C0.91,0.94 0.81,0.97 0.71,0.96 L0.58,0.93 L0.52,0.99 L0.44,0.93 L0.3,0.96 C0.2,0.97 0.09,0.94 0.07,0.86 C0.05,0.74 0.1,0.64 0.18,0.56 C0.19,0.5 0.19,0.4 0.2,0.3 L0.2,0.24 L0.3,0.18 C0.32,0.1 0.38,0.02 0.5,0.02 Z" fill="#4946ae" transform="translate(0.05,0.02) scale(0.9,0.95)"/><ellipse cx="0.5" cy="0.45" rx="0.3" ry="0.24" fill="#3e5ccc"/><ellipse cx="0.48" cy="0.42" rx="0.2" ry="0.15" fill="#44a6dc"/><ellipse cx="0.46" cy="0.4" rx="0.12" ry="0.09" fill="#86c858"/><ellipse cx="0.52" cy="0.16" rx="0.12" ry="0.06" fill="#3f7ed6"/><ellipse cx="0.52" cy="0.16" rx="0.06" ry="0.03" fill="#4cb8d8"/><ellipse cx="0.5" cy="0.64" rx="0.09" ry="0.035" fill="#d8d8f0" opacity="0.85"/><ellipse cx="0.17" cy="0.78" rx="0.1" ry="0.06" fill="#44a6d0"/><ellipse cx="0.17" cy="0.78" rx="0.05" ry="0.03" fill="#d8b040"/><ellipse cx="0.8" cy="0.8" rx="0.1" ry="0.06" fill="#44a6d0"/></g></g>
<g filter="url(#bl)"><rect x="70.8" y="325.3" width="24.70" height="34.50" fill="#1a1a1a"/><g transform="translate(83.03,325.80) scale(-12.103,33.500)"><path d="M0.5,0.02 C0.62,0.02 0.68,0.1 0.7,0.18 L0.8,0.24 L0.8,0.3 C0.81,0.4 0.81,0.5 0.82,0.56 C0.9,0.64 0.95,0.74 0.93,0.86 C0.91,0.94 0.81,0.97 0.71,0.96 L0.58,0.93 L0.52,0.99 L0.44,0.93 L0.3,0.96 C0.2,0.97 0.09,0.94 0.07,0.86 C0.05,0.74 0.1,0.64 0.18,0.56 C0.19,0.5 0.19,0.4 0.2,0.3 L0.2,0.24 L0.3,0.18 C0.32,0.1 0.38,0.02 0.5,0.02 Z" fill="#3436a0"/><path d="M0.5,0.02 C0.62,0.02 0.68,0.1 0.7,0.18 L0.8,0.24 L0.8,0.3 C0.81,0.4 0.81,0.5 0.82,0.56 C0.9,0.64 0.95,0.74 0.93,0.86 C0.91,0.94 0.81,0.97 0.71,0.96 L0.58,0.93 L0.52,0.99 L0.44,0.93 L0.3,0.96 C0.2,0.97 0.09,0.94 0.07,0.86 C0.05,0.74 0.1,0.64 0.18,0.56 C0.19,0.5 0.19,0.4 0.2,0.3 L0.2,0.24 L0.3,0.18 C0.32,0.1 0.38,0.02 0.5,0.02 Z" fill="#4946ae" transform="translate(0.05,0.02) scale(0.9,0.95)"/><ellipse cx="0.5" cy="0.45" rx="0.3" ry="0.24" fill="#3e5ccc"/><ellipse cx="0.48" cy="0.42" rx="0.2" ry="0.15" fill="#44a6dc"/><ellipse cx="0.46" cy="0.4" rx="0.12" ry="0.09" fill="#86c858"/><ellipse cx="0.52" cy="0.16" rx="0.12" ry="0.06" fill="#3f7ed6"/><ellipse cx="0.52" cy="0.16" rx="0.06" ry="0.03" fill="#4cb8d8"/><ellipse cx="0.5" cy="0.64" rx="0.09" ry="0.035" fill="#d8d8f0" opacity="0.85"/><ellipse cx="0.17" cy="0.78" rx="0.1" ry="0.06" fill="#44a6d0"/><ellipse cx="0.17" cy="0.78" rx="0.05" ry="0.03" fill="#d8b040"/><ellipse cx="0.8" cy="0.8" rx="0.1" ry="0.06" fill="#44a6d0"/></g><g transform="translate(83.27,325.80) scale(12.103,33.500)"><path d="M0.5,0.02 C0.62,0.02 0.68,0.1 0.7,0.18 L0.8,0.24 L0.8,0.3 C0.81,0.4 0.81,0.5 0.82,0.56 C0.9,0.64 0.95,0.74 0.93,0.86 C0.91,0.94 0.81,0.97 0.71,0.96 L0.58,0.93 L0.52,0.99 L0.44,0.93 L0.3,0.96 C0.2,0.97 0.09,0.94 0.07,0.86 C0.05,0.74 0.1,0.64 0.18,0.56 C0.19,0.5 0.19,0.4 0.2,0.3 L0.2,0.24 L0.3,0.18 C0.32,0.1 0.38,0.02 0.5,0.02 Z" fill="#3436a0"/><path d="M0.5,0.02 C0.62,0.02 0.68,0.1 0.7,0.18 L0.8,0.24 L0.8,0.3 C0.81,0.4 0.81,0.5 0.82,0.56 C0.9,0.64 0.95,0.74 0.93,0.86 C0.91,0.94 0.81,0.97 0.71,0.96 L0.58,0.93 L0.52,0.99 L0.44,0.93 L0.3,0.96 C0.2,0.97 0.09,0.94 0.07,0.86 C0.05,0.74 0.1,0.64 0.18,0.56 C0.19,0.5 0.19,0.4 0.2,0.3 L0.2,0.24 L0.3,0.18 C0.32,0.1 0.38,0.02 0.5,0.02 Z" fill="#4946ae" transform="translate(0.05,0.02) scale(0.9,0.95)"/><ellipse cx="0.5" cy="0.45" rx="0.3" ry="0.24" fill="#3e5ccc"/><ellipse cx="0.48" cy="0.42" rx="0.2" ry="0.15" fill="#44a6dc"/><ellipse cx="0.46" cy="0.4" rx="0.12" ry="0.09" fill="#86c858"/><ellipse cx="0.52" cy="0.16" rx="0.12" ry="0.06" fill="#3f7ed6"/><ellipse cx="0.52" cy="0.16" rx="0.06" ry="0.03" fill="#4cb8d8"/><ellipse cx="0.5" cy="0.64" rx="0.09" ry="0.035" fill="#d8d8f0" opacity="0.85"/><ellipse cx="0.17" cy="0.78" rx="0.1" ry="0.06" fill="#44a6d0"/><ellipse cx="0.17" cy="0.78" rx="0.05" ry="0.03" fill="#d8b040"/><ellipse cx="0.8" cy="0.8" rx="0.1" ry="0.06" fill="#44a6d0"/></g></g>
<g filter="url(#bl)"><rect x="99.8" y="325.3" width="26.60" height="34.50" fill="#1a1a1a"/><g transform="translate(112.97,325.80) scale(-13.034,33.500)"><path d="M0.5,0.02 C0.62,0.02 0.68,0.1 0.7,0.18 L0.8,0.24 L0.8,0.3 C0.81,0.4 0.81,0.5 0.82,0.56 C0.9,0.64 0.95,0.74 0.93,0.86 C0.91,0.94 0.81,0.97 0.71,0.96 L0.58,0.93 L0.52,0.99 L0.44,0.93 L0.3,0.96 C0.2,0.97 0.09,0.94 0.07,0.86 C0.05,0.74 0.1,0.64 0.18,0.56 C0.19,0.5 0.19,0.4 0.2,0.3 L0.2,0.24 L0.3,0.18 C0.32,0.1 0.38,0.02 0.5,0.02 Z" fill="#3436a0"/><path d="M0.5,0.02 C0.62,0.02 0.68,0.1 0.7,0.18 L0.8,0.24 L0.8,0.3 C0.81,0.4 0.81,0.5 0.82,0.56 C0.9,0.64 0.95,0.74 0.93,0.86 C0.91,0.94 0.81,0.97 0.71,0.96 L0.58,0.93 L0.52,0.99 L0.44,0.93 L0.3,0.96 C0.2,0.97 0.09,0.94 0.07,0.86 C0.05,0.74 0.1,0.64 0.18,0.56 C0.19,0.5 0.19,0.4 0.2,0.3 L0.2,0.24 L0.3,0.18 C0.32,0.1 0.38,0.02 0.5,0.02 Z" fill="#4946ae" transform="translate(0.05,0.02) scale(0.9,0.95)"/><ellipse cx="0.5" cy="0.4" rx="0.22" ry="0.16" fill="#4262cc"/><ellipse cx="0.46" cy="0.38" rx="0.08" ry="0.06" fill="#44a6dc"/><ellipse cx="0.5" cy="0.66" rx="0.15" ry="0.05" fill="#e8e8f0"/><ellipse cx="0.18" cy="0.8" rx="0.08" ry="0.05" fill="#4270d0"/><ellipse cx="0.8" cy="0.8" rx="0.08" ry="0.05" fill="#4270d0"/></g><g transform="translate(113.23,325.80) scale(13.034,33.500)"><path d="M0.5,0.02 C0.62,0.02 0.68,0.1 0.7,0.18 L0.8,0.24 L0.8,0.3 C0.81,0.4 0.81,0.5 0.82,0.56 C0.9,0.64 0.95,0.74 0.93,0.86 C0.91,0.94 0.81,0.97 0.71,0.96 L0.58,0.93 L0.52,0.99 L0.44,0.93 L0.3,0.96 C0.2,0.97 0.09,0.94 0.07,0.86 C0.05,0.74 0.1,0.64 0.18,0.56 C0.19,0.5 0.19,0.4 0.2,0.3 L0.2,0.24 L0.3,0.18 C0.32,0.1 0.38,0.02 0.5,0.02 Z" fill="#3436a0"/><path d="M0.5,0.02 C0.62,0.02 0.68,0.1 0.7,0.18 L0.8,0.24 L0.8,0.3 C0.81,0.4 0.81,0.5 0.82,0.56 C0.9,0.64 0.95,0.74 0.93,0.86 C0.91,0.94 0.81,0.97 0.71,0.96 L0.58,0.93 L0.52,0.99 L0.44,0.93 L0.3,0.96 C0.2,0.97 0.09,0.94 0.07,0.86 C0.05,0.74 0.1,0.64 0.18,0.56 C0.19,0.5 0.19,0.4 0.2,0.3 L0.2,0.24 L0.3,0.18 C0.32,0.1 0.38,0.02 0.5,0.02 Z" fill="#4946ae" transform="translate(0.05,0.02) scale(0.9,0.95)"/><ellipse cx="0.5" cy="0.4" rx="0.22" ry="0.16" fill="#4262cc"/><ellipse cx="0.46" cy="0.38" rx="0.08" ry="0.06" fill="#44a6dc"/><ellipse cx="0.5" cy="0.66" rx="0.15" ry="0.05" fill="#e8e8f0"/><ellipse cx="0.18" cy="0.8" rx="0.08" ry="0.05" fill="#4270d0"/><ellipse cx="0.8" cy="0.8" rx="0.08" ry="0.05" fill="#4270d0"/></g></g>
<g filter="url(#bl)"><rect x="129" y="325.3" width="13.70" height="34.50" fill="#1a1a1a"/><g transform="translate(142.56,325.80) scale(-13.426,33.500)"><path d="M0.5,0.02 C0.62,0.02 0.68,0.1 0.7,0.18 L0.8,0.24 L0.8,0.3 C0.81,0.4 0.81,0.5 0.82,0.56 C0.9,0.64 0.95,0.74 0.93,0.86 C0.91,0.94 0.81,0.97 0.71,0.96 L0.58,0.93 L0.52,0.99 L0.44,0.93 L0.3,0.96 C0.2,0.97 0.09,0.94 0.07,0.86 C0.05,0.74 0.1,0.64 0.18,0.56 C0.19,0.5 0.19,0.4 0.2,0.3 L0.2,0.24 L0.3,0.18 C0.32,0.1 0.38,0.02 0.5,0.02 Z" fill="#3436a0"/><path d="M0.5,0.02 C0.62,0.02 0.68,0.1 0.7,0.18 L0.8,0.24 L0.8,0.3 C0.81,0.4 0.81,0.5 0.82,0.56 C0.9,0.64 0.95,0.74 0.93,0.86 C0.91,0.94 0.81,0.97 0.71,0.96 L0.58,0.93 L0.52,0.99 L0.44,0.93 L0.3,0.96 C0.2,0.97 0.09,0.94 0.07,0.86 C0.05,0.74 0.1,0.64 0.18,0.56 C0.19,0.5 0.19,0.4 0.2,0.3 L0.2,0.24 L0.3,0.18 C0.32,0.1 0.38,0.02 0.5,0.02 Z" fill="#4946ae" transform="translate(0.05,0.02) scale(0.9,0.95)"/><ellipse cx="0.5" cy="0.4" rx="0.22" ry="0.16" fill="#4262cc"/><ellipse cx="0.46" cy="0.38" rx="0.08" ry="0.06" fill="#44a6dc"/><ellipse cx="0.5" cy="0.66" rx="0.15" ry="0.05" fill="#e8e8f0"/><ellipse cx="0.18" cy="0.8" rx="0.08" ry="0.05" fill="#4270d0"/><ellipse cx="0.8" cy="0.8" rx="0.08" ry="0.05" fill="#4270d0"/></g></g>
<g filter="url(#bl)"><rect x="41.2" y="363.8" width="26.40" height="34.50" fill="#1a1a1a"/><g transform="translate(41.33,364.30) scale(12.936,33.500)"><path d="M0.5,0.02 C0.62,0.02 0.68,0.1 0.7,0.18 L0.8,0.24 L0.8,0.3 C0.81,0.4 0.81,0.5 0.82,0.56 C0.9,0.64 0.95,0.74 0.93,0.86 C0.91,0.94 0.81,0.97 0.71,0.96 L0.58,0.93 L0.52,0.99 L0.44,0.93 L0.3,0.96 C0.2,0.97 0.09,0.94 0.07,0.86 C0.05,0.74 0.1,0.64 0.18,0.56 C0.19,0.5 0.19,0.4 0.2,0.3 L0.2,0.24 L0.3,0.18 C0.32,0.1 0.38,0.02 0.5,0.02 Z" fill="#3436a0"/><path d="M0.5,0.02 C0.62,0.02 0.68,0.1 0.7,0.18 L0.8,0.24 L0.8,0.3 C0.81,0.4 0.81,0.5 0.82,0.56 C0.9,0.64 0.95,0.74 0.93,0.86 C0.91,0.94 0.81,0.97 0.71,0.96 L0.58,0.93 L0.52,0.99 L0.44,0.93 L0.3,0.96 C0.2,0.97 0.09,0.94 0.07,0.86 C0.05,0.74 0.1,0.64 0.18,0.56 C0.19,0.5 0.19,0.4 0.2,0.3 L0.2,0.24 L0.3,0.18 C0.32,0.1 0.38,0.02 0.5,0.02 Z" fill="#4946ae" transform="translate(0.05,0.02) scale(0.9,0.95)"/><ellipse cx="0.5" cy="0.45" rx="0.3" ry="0.24" fill="#3e5ccc"/><ellipse cx="0.48" cy="0.42" rx="0.2" ry="0.15" fill="#44a6dc"/><ellipse cx="0.46" cy="0.4" rx="0.12" ry="0.09" fill="#86c858"/><ellipse cx="0.52" cy="0.16" rx="0.12" ry="0.06" fill="#3f7ed6"/><ellipse cx="0.52" cy="0.16" rx="0.06" ry="0.03" fill="#4cb8d8"/><ellipse cx="0.5" cy="0.64" rx="0.09" ry="0.035" fill="#d8d8f0" opacity="0.85"/><ellipse cx="0.17" cy="0.78" rx="0.1" ry="0.06" fill="#44a6d0"/><ellipse cx="0.17" cy="0.78" rx="0.05" ry="0.03" fill="#d8b040"/><ellipse cx="0.8" cy="0.8" rx="0.1" ry="0.06" fill="#44a6d0"/><ellipse cx="0.52" cy="0.6" rx="0.18" ry="0.09" fill="#44a6dc"/><ellipse cx="0.54" cy="0.58" rx="0.1" ry="0.05" fill="#a8d040"/><ellipse cx="0.8" cy="0.8" rx="0.055" ry="0.033" fill="#e04020"/><ellipse cx="0.5" cy="0.36" rx="0.05" ry="0.03" fill="#e8b030"/></g><g transform="translate(67.47,364.30) scale(-12.936,33.500)"><path d="M0.5,0.02 C0.62,0.02 0.68,0.1 0.7,0.18 L0.8,0.24 L0.8,0.3 C0.81,0.4 0.81,0.5 0.82,0.56 C0.9,0.64 0.95,0.74 0.93,0.86 C0.91,0.94 0.81,0.97 0.71,0.96 L0.58,0.93 L0.52,0.99 L0.44,0.93 L0.3,0.96 C0.2,0.97 0.09,0.94 0.07,0.86 C0.05,0.74 0.1,0.64 0.18,0.56 C0.19,0.5 0.19,0.4 0.2,0.3 L0.2,0.24 L0.3,0.18 C0.32,0.1 0.38,0.02 0.5,0.02 Z" fill="#3436a0"/><path d="M0.5,0.02 C0.62,0.02 0.68,0.1 0.7,0.18 L0.8,0.24 L0.8,0.3 C0.81,0.4 0.81,0.5 0.82,0.56 C0.9,0.64 0.95,0.74 0.93,0.86 C0.91,0.94 0.81,0.97 0.71,0.96 L0.58,0.93 L0.52,0.99 L0.44,0.93 L0.3,0.96 C0.2,0.97 0.09,0.94 0.07,0.86 C0.05,0.74 0.1,0.64 0.18,0.56 C0.19,0.5 0.19,0.4 0.2,0.3 L0.2,0.24 L0.3,0.18 C0.32,0.1 0.38,0.02 0.5,0.02 Z" fill="#4946ae" transform="translate(0.05,0.02) scale(0.9,0.95)"/><ellipse cx="0.5" cy="0.45" rx="0.3" ry="0.24" fill="#3e5ccc"/><ellipse cx="0.48" cy="0.42" rx="0.2" ry="0.15" fill="#44a6dc"/><ellipse cx="0.46" cy="0.4" rx="0.12" ry="0.09" fill="#86c858"/><ellipse cx="0.52" cy="0.16" rx="0.12" ry="0.06" fill="#3f7ed6"/><ellipse cx="0.52" cy="0.16" rx="0.06" ry="0.03" fill="#4cb8d8"/><ellipse cx="0.5" cy="0.64" rx="0.09" ry="0.035" fill="#d8d8f0" opacity="0.85"/><ellipse cx="0.17" cy="0.78" rx="0.1" ry="0.06" fill="#44a6d0"/><ellipse cx="0.17" cy="0.78" rx="0.05" ry="0.03" fill="#d8b040"/><ellipse cx="0.8" cy="0.8" rx="0.1" ry="0.06" fill="#44a6d0"/><ellipse cx="0.52" cy="0.6" rx="0.18" ry="0.09" fill="#44a6dc"/><ellipse cx="0.54" cy="0.58" rx="0.1" ry="0.05" fill="#a8d040"/><ellipse cx="0.8" cy="0.8" rx="0.055" ry="0.033" fill="#e04020"/><ellipse cx="0.5" cy="0.36" rx="0.05" ry="0.03" fill="#e8b030"/></g></g>
<g filter="url(#bl)"><rect x="70.8" y="363.8" width="25.20" height="34.50" fill="#1a1a1a"/><g transform="translate(70.93,364.30) scale(12.348,33.500)"><path d="M0.5,0.02 C0.62,0.02 0.68,0.1 0.7,0.18 L0.8,0.24 L0.8,0.3 C0.81,0.4 0.81,0.5 0.82,0.56 C0.9,0.64 0.95,0.74 0.93,0.86 C0.91,0.94 0.81,0.97 0.71,0.96 L0.58,0.93 L0.52,0.99 L0.44,0.93 L0.3,0.96 C0.2,0.97 0.09,0.94 0.07,0.86 C0.05,0.74 0.1,0.64 0.18,0.56 C0.19,0.5 0.19,0.4 0.2,0.3 L0.2,0.24 L0.3,0.18 C0.32,0.1 0.38,0.02 0.5,0.02 Z" fill="#3436a0"/><path d="M0.5,0.02 C0.62,0.02 0.68,0.1 0.7,0.18 L0.8,0.24 L0.8,0.3 C0.81,0.4 0.81,0.5 0.82,0.56 C0.9,0.64 0.95,0.74 0.93,0.86 C0.91,0.94 0.81,0.97 0.71,0.96 L0.58,0.93 L0.52,0.99 L0.44,0.93 L0.3,0.96 C0.2,0.97 0.09,0.94 0.07,0.86 C0.05,0.74 0.1,0.64 0.18,0.56 C0.19,0.5 0.19,0.4 0.2,0.3 L0.2,0.24 L0.3,0.18 C0.32,0.1 0.38,0.02 0.5,0.02 Z" fill="#4946ae" transform="translate(0.05,0.02) scale(0.9,0.95)"/><ellipse cx="0.5" cy="0.45" rx="0.3" ry="0.24" fill="#3e5ccc"/><ellipse cx="0.48" cy="0.42" rx="0.2" ry="0.15" fill="#44a6dc"/><ellipse cx="0.46" cy="0.4" rx="0.12" ry="0.09" fill="#86c858"/><ellipse cx="0.52" cy="0.16" rx="0.12" ry="0.06" fill="#3f7ed6"/><ellipse cx="0.52" cy="0.16" rx="0.06" ry="0.03" fill="#4cb8d8"/><ellipse cx="0.5" cy="0.64" rx="0.09" ry="0.035" fill="#d8d8f0" opacity="0.85"/><ellipse cx="0.17" cy="0.78" rx="0.1" ry="0.06" fill="#44a6d0"/><ellipse cx="0.17" cy="0.78" rx="0.05" ry="0.03" fill="#d8b040"/><ellipse cx="0.8" cy="0.8" rx="0.1" ry="0.06" fill="#44a6d0"/><ellipse cx="0.52" cy="0.6" rx="0.18" ry="0.09" fill="#44a6dc"/><ellipse cx="0.54" cy="0.58" rx="0.1" ry="0.05" fill="#a8d040"/><ellipse cx="0.8" cy="0.8" rx="0.055" ry="0.033" fill="#e04020"/><ellipse cx="0.5" cy="0.36" rx="0.05" ry="0.03" fill="#e8b030"/></g><g transform="translate(95.87,364.30) scale(-12.348,33.500)"><path d="M0.5,0.02 C0.62,0.02 0.68,0.1 0.7,0.18 L0.8,0.24 L0.8,0.3 C0.81,0.4 0.81,0.5 0.82,0.56 C0.9,0.64 0.95,0.74 0.93,0.86 C0.91,0.94 0.81,0.97 0.71,0.96 L0.58,0.93 L0.52,0.99 L0.44,0.93 L0.3,0.96 C0.2,0.97 0.09,0.94 0.07,0.86 C0.05,0.74 0.1,0.64 0.18,0.56 C0.19,0.5 0.19,0.4 0.2,0.3 L0.2,0.24 L0.3,0.18 C0.32,0.1 0.38,0.02 0.5,0.02 Z" fill="#3436a0"/><path d="M0.5,0.02 C0.62,0.02 0.68,0.1 0.7,0.18 L0.8,0.24 L0.8,0.3 C0.81,0.4 0.81,0.5 0.82,0.56 C0.9,0.64 0.95,0.74 0.93,0.86 C0.91,0.94 0.81,0.97 0.71,0.96 L0.58,0.93 L0.52,0.99 L0.44,0.93 L0.3,0.96 C0.2,0.97 0.09,0.94 0.07,0.86 C0.05,0.74 0.1,0.64 0.18,0.56 C0.19,0.5 0.19,0.4 0.2,0.3 L0.2,0.24 L0.3,0.18 C0.32,0.1 0.38,0.02 0.5,0.02 Z" fill="#4946ae" transform="translate(0.05,0.02) scale(0.9,0.95)"/><ellipse cx="0.5" cy="0.45" rx="0.3" ry="0.24" fill="#3e5ccc"/><ellipse cx="0.48" cy="0.42" rx="0.2" ry="0.15" fill="#44a6dc"/><ellipse cx="0.46" cy="0.4" rx="0.12" ry="0.09" fill="#86c858"/><ellipse cx="0.52" cy="0.16" rx="0.12" ry="0.06" fill="#3f7ed6"/><ellipse cx="0.52" cy="0.16" rx="0.06" ry="0.03" fill="#4cb8d8"/><ellipse cx="0.5" cy="0.64" rx="0.09" ry="0.035" fill="#d8d8f0" opacity="0.85"/><ellipse cx="0.17" cy="0.78" rx="0.1" ry="0.06" fill="#44a6d0"/><ellipse cx="0.17" cy="0.78" rx="0.05" ry="0.03" fill="#d8b040"/><ellipse cx="0.8" cy="0.8" rx="0.1" ry="0.06" fill="#44a6d0"/><ellipse cx="0.52" cy="0.6" rx="0.18" ry="0.09" fill="#44a6dc"/><ellipse cx="0.54" cy="0.58" rx="0.1" ry="0.05" fill="#a8d040"/><ellipse cx="0.8" cy="0.8" rx="0.055" ry="0.033" fill="#e04020"/><ellipse cx="0.5" cy="0.36" rx="0.05" ry="0.03" fill="#e8b030"/></g></g>
<g filter="url(#bl)"><rect x="101" y="363.8" width="25.90" height="34.50" fill="#1a1a1a"/><g transform="translate(101.13,364.30) scale(12.691,33.500)"><path d="M0.5,0.02 C0.62,0.02 0.68,0.1 0.7,0.18 L0.8,0.24 L0.8,0.3 C0.81,0.4 0.81,0.5 0.82,0.56 C0.9,0.64 0.95,0.74 0.93,0.86 C0.91,0.94 0.81,0.97 0.71,0.96 L0.58,0.93 L0.52,0.99 L0.44,0.93 L0.3,0.96 C0.2,0.97 0.09,0.94 0.07,0.86 C0.05,0.74 0.1,0.64 0.18,0.56 C0.19,0.5 0.19,0.4 0.2,0.3 L0.2,0.24 L0.3,0.18 C0.32,0.1 0.38,0.02 0.5,0.02 Z" fill="#3436a0"/><path d="M0.5,0.02 C0.62,0.02 0.68,0.1 0.7,0.18 L0.8,0.24 L0.8,0.3 C0.81,0.4 0.81,0.5 0.82,0.56 C0.9,0.64 0.95,0.74 0.93,0.86 C0.91,0.94 0.81,0.97 0.71,0.96 L0.58,0.93 L0.52,0.99 L0.44,0.93 L0.3,0.96 C0.2,0.97 0.09,0.94 0.07,0.86 C0.05,0.74 0.1,0.64 0.18,0.56 C0.19,0.5 0.19,0.4 0.2,0.3 L0.2,0.24 L0.3,0.18 C0.32,0.1 0.38,0.02 0.5,0.02 Z" fill="#4946ae" transform="translate(0.05,0.02) scale(0.9,0.95)"/><ellipse cx="0.5" cy="0.45" rx="0.3" ry="0.24" fill="#3e5ccc"/><ellipse cx="0.48" cy="0.42" rx="0.2" ry="0.15" fill="#44a6dc"/><ellipse cx="0.46" cy="0.4" rx="0.12" ry="0.09" fill="#86c858"/><ellipse cx="0.52" cy="0.16" rx="0.12" ry="0.06" fill="#3f7ed6"/><ellipse cx="0.52" cy="0.16" rx="0.06" ry="0.03" fill="#4cb8d8"/><ellipse cx="0.5" cy="0.64" rx="0.09" ry="0.035" fill="#d8d8f0" opacity="0.85"/><ellipse cx="0.17" cy="0.78" rx="0.1" ry="0.06" fill="#44a6d0"/><ellipse cx="0.17" cy="0.78" rx="0.05" ry="0.03" fill="#d8b040"/><ellipse cx="0.8" cy="0.8" rx="0.1" ry="0.06" fill="#44a6d0"/><ellipse cx="0.52" cy="0.6" rx="0.18" ry="0.09" fill="#44a6dc"/><ellipse cx="0.54" cy="0.58" rx="0.1" ry="0.05" fill="#a8d040"/><ellipse cx="0.8" cy="0.8" rx="0.055" ry="0.033" fill="#e04020"/><ellipse cx="0.5" cy="0.36" rx="0.05" ry="0.03" fill="#e8b030"/></g><g transform="translate(126.77,364.30) scale(-12.691,33.500)"><path d="M0.5,0.02 C0.62,0.02 0.68,0.1 0.7,0.18 L0.8,0.24 L0.8,0.3 C0.81,0.4 0.81,0.5 0.82,0.56 C0.9,0.64 0.95,0.74 0.93,0.86 C0.91,0.94 0.81,0.97 0.71,0.96 L0.58,0.93 L0.52,0.99 L0.44,0.93 L0.3,0.96 C0.2,0.97 0.09,0.94 0.07,0.86 C0.05,0.74 0.1,0.64 0.18,0.56 C0.19,0.5 0.19,0.4 0.2,0.3 L0.2,0.24 L0.3,0.18 C0.32,0.1 0.38,0.02 0.5,0.02 Z" fill="#3436a0"/><path d="M0.5,0.02 C0.62,0.02 0.68,0.1 0.7,0.18 L0.8,0.24 L0.8,0.3 C0.81,0.4 0.81,0.5 0.82,0.56 C0.9,0.64 0.95,0.74 0.93,0.86 C0.91,0.94 0.81,0.97 0.71,0.96 L0.58,0.93 L0.52,0.99 L0.44,0.93 L0.3,0.96 C0.2,0.97 0.09,0.94 0.07,0.86 C0.05,0.74 0.1,0.64 0.18,0.56 C0.19,0.5 0.19,0.4 0.2,0.3 L0.2,0.24 L0.3,0.18 C0.32,0.1 0.38,0.02 0.5,0.02 Z" fill="#4946ae" transform="translate(0.05,0.02) scale(0.9,0.95)"/><ellipse cx="0.5" cy="0.45" rx="0.3" ry="0.24" fill="#3e5ccc"/><ellipse cx="0.48" cy="0.42" rx="0.2" ry="0.15" fill="#44a6dc"/><ellipse cx="0.46" cy="0.4" rx="0.12" ry="0.09" fill="#86c858"/><ellipse cx="0.52" cy="0.16" rx="0.12" ry="0.06" fill="#3f7ed6"/><ellipse cx="0.52" cy="0.16" rx="0.06" ry="0.03" fill="#4cb8d8"/><ellipse cx="0.5" cy="0.64" rx="0.09" ry="0.035" fill="#d8d8f0" opacity="0.85"/><ellipse cx="0.17" cy="0.78" rx="0.1" ry="0.06" fill="#44a6d0"/><ellipse cx="0.17" cy="0.78" rx="0.05" ry="0.03" fill="#d8b040"/><ellipse cx="0.8" cy="0.8" rx="0.1" ry="0.06" fill="#44a6d0"/><ellipse cx="0.52" cy="0.6" rx="0.18" ry="0.09" fill="#44a6dc"/><ellipse cx="0.54" cy="0.58" rx="0.1" ry="0.05" fill="#a8d040"/><ellipse cx="0.8" cy="0.8" rx="0.055" ry="0.033" fill="#e04020"/><ellipse cx="0.5" cy="0.36" rx="0.05" ry="0.03" fill="#e8b030"/></g></g>
<g filter="url(#bl)"><rect x="129.4" y="363.8" width="13.70" height="34.50" fill="#1a1a1a"/><g transform="translate(129.54,364.30) scale(13.426,33.500)"><path d="M0.5,0.02 C0.62,0.02 0.68,0.1 0.7,0.18 L0.8,0.24 L0.8,0.3 C0.81,0.4 0.81,0.5 0.82,0.56 C0.9,0.64 0.95,0.74 0.93,0.86 C0.91,0.94 0.81,0.97 0.71,0.96 L0.58,0.93 L0.52,0.99 L0.44,0.93 L0.3,0.96 C0.2,0.97 0.09,0.94 0.07,0.86 C0.05,0.74 0.1,0.64 0.18,0.56 C0.19,0.5 0.19,0.4 0.2,0.3 L0.2,0.24 L0.3,0.18 C0.32,0.1 0.38,0.02 0.5,0.02 Z" fill="#3436a0"/><path d="M0.5,0.02 C0.62,0.02 0.68,0.1 0.7,0.18 L0.8,0.24 L0.8,0.3 C0.81,0.4 0.81,0.5 0.82,0.56 C0.9,0.64 0.95,0.74 0.93,0.86 C0.91,0.94 0.81,0.97 0.71,0.96 L0.58,0.93 L0.52,0.99 L0.44,0.93 L0.3,0.96 C0.2,0.97 0.09,0.94 0.07,0.86 C0.05,0.74 0.1,0.64 0.18,0.56 C0.19,0.5 0.19,0.4 0.2,0.3 L0.2,0.24 L0.3,0.18 C0.32,0.1 0.38,0.02 0.5,0.02 Z" fill="#4946ae" transform="translate(0.05,0.02) scale(0.9,0.95)"/><ellipse cx="0.5" cy="0.45" rx="0.3" ry="0.24" fill="#3e5ccc"/><ellipse cx="0.48" cy="0.42" rx="0.2" ry="0.15" fill="#44a6dc"/><ellipse cx="0.46" cy="0.4" rx="0.12" ry="0.09" fill="#86c858"/><ellipse cx="0.52" cy="0.16" rx="0.12" ry="0.06" fill="#3f7ed6"/><ellipse cx="0.52" cy="0.16" rx="0.06" ry="0.03" fill="#4cb8d8"/><ellipse cx="0.5" cy="0.64" rx="0.09" ry="0.035" fill="#d8d8f0" opacity="0.85"/><ellipse cx="0.17" cy="0.78" rx="0.1" ry="0.06" fill="#44a6d0"/><ellipse cx="0.17" cy="0.78" rx="0.05" ry="0.03" fill="#d8b040"/><ellipse cx="0.8" cy="0.8" rx="0.1" ry="0.06" fill="#44a6d0"/></g></g>
<g filter="url(#bl)"><rect x="165.9" y="213.9" width="14.20" height="32.40" fill="#1a1a1a"/><g transform="translate(179.96,214.40) scale(-13.916,31.400)"><path d="M0.5,0.02 C0.62,0.02 0.68,0.1 0.7,0.18 L0.8,0.24 L0.8,0.3 C0.81,0.4 0.81,0.5 0.82,0.56 C0.9,0.64 0.95,0.74 0.93,0.86 C0.91,0.94 0.81,0.97 0.71,0.96 L0.58,0.93 L0.52,0.99 L0.44,0.93 L0.3,0.96 C0.2,0.97 0.09,0.94 0.07,0.86 C0.05,0.74 0.1,0.64 0.18,0.56 C0.19,0.5 0.19,0.4 0.2,0.3 L0.2,0.24 L0.3,0.18 C0.32,0.1 0.38,0.02 0.5,0.02 Z" fill="#8a8a8a"/><path d="M0.5,0.02 C0.62,0.02 0.68,0.1 0.7,0.18 L0.8,0.24 L0.8,0.3 C0.81,0.4 0.81,0.5 0.82,0.56 C0.9,0.64 0.95,0.74 0.93,0.86 C0.91,0.94 0.81,0.97 0.71,0.96 L0.58,0.93 L0.52,0.99 L0.44,0.93 L0.3,0.96 C0.2,0.97 0.09,0.94 0.07,0.86 C0.05,0.74 0.1,0.64 0.18,0.56 C0.19,0.5 0.19,0.4 0.2,0.3 L0.2,0.24 L0.3,0.18 C0.32,0.1 0.38,0.02 0.5,0.02 Z" fill="#dedede" transform="translate(0.04,0.015) scale(0.92,0.97)"/><path d="M0.5,0.04 C0.6,0.04 0.66,0.11 0.68,0.19 L0.78,0.25 L0.78,0.3 C0.79,0.4 0.79,0.55 0.8,0.66 C0.7,0.7 0.6,0.68 0.5,0.72 C0.4,0.68 0.3,0.7 0.2,0.66 C0.21,0.55 0.21,0.4 0.22,0.3 L0.22,0.25 L0.32,0.19 C0.34,0.11 0.4,0.04 0.5,0.04 Z" fill="#4946ae"/><ellipse cx="0.32" cy="0.45" rx="0.06" ry="0.08" fill="#dedede" opacity="0.7"/><ellipse cx="0.56" cy="0.66" rx="0.16" ry="0.05" fill="#dedede"/><ellipse cx="0.2" cy="0.8" rx="0.14" ry="0.09" fill="#4946ae"/><ellipse cx="0.79" cy="0.83" rx="0.14" ry="0.09" fill="#4946ae"/></g></g>
<g filter="url(#bl)"><rect x="181.8" y="213.9" width="25.20" height="32.40" fill="#1a1a1a"/><g transform="translate(181.93,214.40) scale(12.348,31.400)"><path d="M0.5,0.02 C0.62,0.02 0.68,0.1 0.7,0.18 L0.8,0.24 L0.8,0.3 C0.81,0.4 0.81,0.5 0.82,0.56 C0.9,0.64 0.95,0.74 0.93,0.86 C0.91,0.94 0.81,0.97 0.71,0.96 L0.58,0.93 L0.52,0.99 L0.44,0.93 L0.3,0.96 C0.2,0.97 0.09,0.94 0.07,0.86 C0.05,0.74 0.1,0.64 0.18,0.56 C0.19,0.5 0.19,0.4 0.2,0.3 L0.2,0.24 L0.3,0.18 C0.32,0.1 0.38,0.02 0.5,0.02 Z" fill="#8a8a8a"/><path d="M0.5,0.02 C0.62,0.02 0.68,0.1 0.7,0.18 L0.8,0.24 L0.8,0.3 C0.81,0.4 0.81,0.5 0.82,0.56 C0.9,0.64 0.95,0.74 0.93,0.86 C0.91,0.94 0.81,0.97 0.71,0.96 L0.58,0.93 L0.52,0.99 L0.44,0.93 L0.3,0.96 C0.2,0.97 0.09,0.94 0.07,0.86 C0.05,0.74 0.1,0.64 0.18,0.56 C0.19,0.5 0.19,0.4 0.2,0.3 L0.2,0.24 L0.3,0.18 C0.32,0.1 0.38,0.02 0.5,0.02 Z" fill="#dedede" transform="translate(0.04,0.015) scale(0.92,0.97)"/><path d="M0.5,0.04 C0.6,0.04 0.66,0.11 0.68,0.19 L0.78,0.25 L0.78,0.3 C0.79,0.4 0.79,0.55 0.8,0.66 C0.7,0.7 0.6,0.68 0.5,0.72 C0.4,0.68 0.3,0.7 0.2,0.66 C0.21,0.55 0.21,0.4 0.22,0.3 L0.22,0.25 L0.32,0.19 C0.34,0.11 0.4,0.04 0.5,0.04 Z" fill="#4946ae"/><ellipse cx="0.32" cy="0.45" rx="0.06" ry="0.08" fill="#dedede" opacity="0.7"/><ellipse cx="0.56" cy="0.66" rx="0.16" ry="0.05" fill="#dedede"/><ellipse cx="0.2" cy="0.8" rx="0.14" ry="0.09" fill="#4946ae"/><ellipse cx="0.79" cy="0.83" rx="0.14" ry="0.09" fill="#4946ae"/></g><g transform="translate(206.87,214.40) scale(-12.348,31.400)"><path d="M0.5,0.02 C0.62,0.02 0.68,0.1 0.7,0.18 L0.8,0.24 L0.8,0.3 C0.81,0.4 0.81,0.5 0.82,0.56 C0.9,0.64 0.95,0.74 0.93,0.86 C0.91,0.94 0.81,0.97 0.71,0.96 L0.58,0.93 L0.52,0.99 L0.44,0.93 L0.3,0.96 C0.2,0.97 0.09,0.94 0.07,0.86 C0.05,0.74 0.1,0.64 0.18,0.56 C0.19,0.5 0.19,0.4 0.2,0.3 L0.2,0.24 L0.3,0.18 C0.32,0.1 0.38,0.02 0.5,0.02 Z" fill="#8a8a8a"/><path d="M0.5,0.02 C0.62,0.02 0.68,0.1 0.7,0.18 L0.8,0.24 L0.8,0.3 C0.81,0.4 0.81,0.5 0.82,0.56 C0.9,0.64 0.95,0.74 0.93,0.86 C0.91,0.94 0.81,0.97 0.71,0.96 L0.58,0.93 L0.52,0.99 L0.44,0.93 L0.3,0.96 C0.2,0.97 0.09,0.94 0.07,0.86 C0.05,0.74 0.1,0.64 0.18,0.56 C0.19,0.5 0.19,0.4 0.2,0.3 L0.2,0.24 L0.3,0.18 C0.32,0.1 0.38,0.02 0.5,0.02 Z" fill="#dedede" transform="translate(0.04,0.015) scale(0.92,0.97)"/><path d="M0.5,0.04 C0.6,0.04 0.66,0.11 0.68,0.19 L0.78,0.25 L0.78,0.3 C0.79,0.4 0.79,0.55 0.8,0.66 C0.7,0.7 0.6,0.68 0.5,0.72 C0.4,0.68 0.3,0.7 0.2,0.66 C0.21,0.55 0.21,0.4 0.22,0.3 L0.22,0.25 L0.32,0.19 C0.34,0.11 0.4,0.04 0.5,0.04 Z" fill="#4946ae"/><ellipse cx="0.32" cy="0.45" rx="0.06" ry="0.08" fill="#dedede" opacity="0.7"/><ellipse cx="0.56" cy="0.66" rx="0.16" ry="0.05" fill="#dedede"/><ellipse cx="0.2" cy="0.8" rx="0.14" ry="0.09" fill="#4946ae"/><ellipse cx="0.79" cy="0.83" rx="0.14" ry="0.09" fill="#4946ae"/></g></g>
<g filter="url(#bl)"><rect x="210.8" y="213.9" width="25.40" height="32.40" fill="#1a1a1a"/><g transform="translate(210.93,214.40) scale(12.446,31.400)"><path d="M0.5,0.02 C0.62,0.02 0.68,0.1 0.7,0.18 L0.8,0.24 L0.8,0.3 C0.81,0.4 0.81,0.5 0.82,0.56 C0.9,0.64 0.95,0.74 0.93,0.86 C0.91,0.94 0.81,0.97 0.71,0.96 L0.58,0.93 L0.52,0.99 L0.44,0.93 L0.3,0.96 C0.2,0.97 0.09,0.94 0.07,0.86 C0.05,0.74 0.1,0.64 0.18,0.56 C0.19,0.5 0.19,0.4 0.2,0.3 L0.2,0.24 L0.3,0.18 C0.32,0.1 0.38,0.02 0.5,0.02 Z" fill="#8a8a8a"/><path d="M0.5,0.02 C0.62,0.02 0.68,0.1 0.7,0.18 L0.8,0.24 L0.8,0.3 C0.81,0.4 0.81,0.5 0.82,0.56 C0.9,0.64 0.95,0.74 0.93,0.86 C0.91,0.94 0.81,0.97 0.71,0.96 L0.58,0.93 L0.52,0.99 L0.44,0.93 L0.3,0.96 C0.2,0.97 0.09,0.94 0.07,0.86 C0.05,0.74 0.1,0.64 0.18,0.56 C0.19,0.5 0.19,0.4 0.2,0.3 L0.2,0.24 L0.3,0.18 C0.32,0.1 0.38,0.02 0.5,0.02 Z" fill="#dedede" transform="translate(0.04,0.015) scale(0.92,0.97)"/><path d="M0.5,0.04 C0.6,0.04 0.66,0.11 0.68,0.19 L0.78,0.25 L0.78,0.3 C0.79,0.4 0.79,0.55 0.8,0.66 C0.7,0.7 0.6,0.68 0.5,0.72 C0.4,0.68 0.3,0.7 0.2,0.66 C0.21,0.55 0.21,0.4 0.22,0.3 L0.22,0.25 L0.32,0.19 C0.34,0.11 0.4,0.04 0.5,0.04 Z" fill="#4946ae"/><ellipse cx="0.32" cy="0.45" rx="0.06" ry="0.08" fill="#dedede" opacity="0.7"/><ellipse cx="0.56" cy="0.66" rx="0.16" ry="0.05" fill="#dedede"/><ellipse cx="0.2" cy="0.8" rx="0.14" ry="0.09" fill="#4946ae"/><ellipse cx="0.79" cy="0.83" rx="0.14" ry="0.09" fill="#4946ae"/></g><g transform="translate(236.07,214.40) scale(-12.446,31.400)"><path d="M0.5,0.02 C0.62,0.02 0.68,0.1 0.7,0.18 L0.8,0.24 L0.8,0.3 C0.81,0.4 0.81,0.5 0.82,0.56 C0.9,0.64 0.95,0.74 0.93,0.86 C0.91,0.94 0.81,0.97 0.71,0.96 L0.58,0.93 L0.52,0.99 L0.44,0.93 L0.3,0.96 C0.2,0.97 0.09,0.94 0.07,0.86 C0.05,0.74 0.1,0.64 0.18,0.56 C0.19,0.5 0.19,0.4 0.2,0.3 L0.2,0.24 L0.3,0.18 C0.32,0.1 0.38,0.02 0.5,0.02 Z" fill="#8a8a8a"/><path d="M0.5,0.02 C0.62,0.02 0.68,0.1 0.7,0.18 L0.8,0.24 L0.8,0.3 C0.81,0.4 0.81,0.5 0.82,0.56 C0.9,0.64 0.95,0.74 0.93,0.86 C0.91,0.94 0.81,0.97 0.71,0.96 L0.58,0.93 L0.52,0.99 L0.44,0.93 L0.3,0.96 C0.2,0.97 0.09,0.94 0.07,0.86 C0.05,0.74 0.1,0.64 0.18,0.56 C0.19,0.5 0.19,0.4 0.2,0.3 L0.2,0.24 L0.3,0.18 C0.32,0.1 0.38,0.02 0.5,0.02 Z" fill="#dedede" transform="translate(0.04,0.015) scale(0.92,0.97)"/><path d="M0.5,0.04 C0.6,0.04 0.66,0.11 0.68,0.19 L0.78,0.25 L0.78,0.3 C0.79,0.4 0.79,0.55 0.8,0.66 C0.7,0.7 0.6,0.68 0.5,0.72 C0.4,0.68 0.3,0.7 0.2,0.66 C0.21,0.55 0.21,0.4 0.22,0.3 L0.22,0.25 L0.32,0.19 C0.34,0.11 0.4,0.04 0.5,0.04 Z" fill="#4946ae"/><ellipse cx="0.32" cy="0.45" rx="0.06" ry="0.08" fill="#dedede" opacity="0.7"/><ellipse cx="0.56" cy="0.66" rx="0.16" ry="0.05" fill="#dedede"/><ellipse cx="0.2" cy="0.8" rx="0.14" ry="0.09" fill="#4946ae"/><ellipse cx="0.79" cy="0.83" rx="0.14" ry="0.09" fill="#4946ae"/></g></g>
<g filter="url(#bl)"><rect x="239.3" y="213.9" width="26.50" height="32.40" fill="#1a1a1a"/><g transform="translate(239.43,214.40) scale(12.985,31.400)"><path d="M0.5,0.02 C0.62,0.02 0.68,0.1 0.7,0.18 L0.8,0.24 L0.8,0.3 C0.81,0.4 0.81,0.5 0.82,0.56 C0.9,0.64 0.95,0.74 0.93,0.86 C0.91,0.94 0.81,0.97 0.71,0.96 L0.58,0.93 L0.52,0.99 L0.44,0.93 L0.3,0.96 C0.2,0.97 0.09,0.94 0.07,0.86 C0.05,0.74 0.1,0.64 0.18,0.56 C0.19,0.5 0.19,0.4 0.2,0.3 L0.2,0.24 L0.3,0.18 C0.32,0.1 0.38,0.02 0.5,0.02 Z" fill="#8a8a8a"/><path d="M0.5,0.02 C0.62,0.02 0.68,0.1 0.7,0.18 L0.8,0.24 L0.8,0.3 C0.81,0.4 0.81,0.5 0.82,0.56 C0.9,0.64 0.95,0.74 0.93,0.86 C0.91,0.94 0.81,0.97 0.71,0.96 L0.58,0.93 L0.52,0.99 L0.44,0.93 L0.3,0.96 C0.2,0.97 0.09,0.94 0.07,0.86 C0.05,0.74 0.1,0.64 0.18,0.56 C0.19,0.5 0.19,0.4 0.2,0.3 L0.2,0.24 L0.3,0.18 C0.32,0.1 0.38,0.02 0.5,0.02 Z" fill="#dedede" transform="translate(0.04,0.015) scale(0.92,0.97)"/><path d="M0.5,0.04 C0.6,0.04 0.66,0.11 0.68,0.19 L0.78,0.25 L0.78,0.3 C0.79,0.4 0.79,0.55 0.8,0.66 C0.7,0.7 0.6,0.68 0.5,0.72 C0.4,0.68 0.3,0.7 0.2,0.66 C0.21,0.55 0.21,0.4 0.22,0.3 L0.22,0.25 L0.32,0.19 C0.34,0.11 0.4,0.04 0.5,0.04 Z" fill="#4946ae"/><ellipse cx="0.32" cy="0.45" rx="0.06" ry="0.08" fill="#dedede" opacity="0.7"/><ellipse cx="0.56" cy="0.66" rx="0.16" ry="0.05" fill="#dedede"/><ellipse cx="0.2" cy="0.8" rx="0.14" ry="0.09" fill="#4946ae"/><ellipse cx="0.79" cy="0.83" rx="0.14" ry="0.09" fill="#4946ae"/></g><g transform="translate(265.67,214.40) scale(-12.985,31.400)"><path d="M0.5,0.02 C0.62,0.02 0.68,0.1 0.7,0.18 L0.8,0.24 L0.8,0.3 C0.81,0.4 0.81,0.5 0.82,0.56 C0.9,0.64 0.95,0.74 0.93,0.86 C0.91,0.94 0.81,0.97 0.71,0.96 L0.58,0.93 L0.52,0.99 L0.44,0.93 L0.3,0.96 C0.2,0.97 0.09,0.94 0.07,0.86 C0.05,0.74 0.1,0.64 0.18,0.56 C0.19,0.5 0.19,0.4 0.2,0.3 L0.2,0.24 L0.3,0.18 C0.32,0.1 0.38,0.02 0.5,0.02 Z" fill="#8a8a8a"/><path d="M0.5,0.02 C0.62,0.02 0.68,0.1 0.7,0.18 L0.8,0.24 L0.8,0.3 C0.81,0.4 0.81,0.5 0.82,0.56 C0.9,0.64 0.95,0.74 0.93,0.86 C0.91,0.94 0.81,0.97 0.71,0.96 L0.58,0.93 L0.52,0.99 L0.44,0.93 L0.3,0.96 C0.2,0.97 0.09,0.94 0.07,0.86 C0.05,0.74 0.1,0.64 0.18,0.56 C0.19,0.5 0.19,0.4 0.2,0.3 L0.2,0.24 L0.3,0.18 C0.32,0.1 0.38,0.02 0.5,0.02 Z" fill="#dedede" transform="translate(0.04,0.015) scale(0.92,0.97)"/><path d="M0.5,0.04 C0.6,0.04 0.66,0.11 0.68,0.19 L0.78,0.25 L0.78,0.3 C0.79,0.4 0.79,0.55 0.8,0.66 C0.7,0.7 0.6,0.68 0.5,0.72 C0.4,0.68 0.3,0.7 0.2,0.66 C0.21,0.55 0.21,0.4 0.22,0.3 L0.22,0.25 L0.32,0.19 C0.34,0.11 0.4,0.04 0.5,0.04 Z" fill="#4946ae"/><ellipse cx="0.32" cy="0.45" rx="0.06" ry="0.08" fill="#dedede" opacity="0.7"/><ellipse cx="0.56" cy="0.66" rx="0.16" ry="0.05" fill="#dedede"/><ellipse cx="0.2" cy="0.8" rx="0.14" ry="0.09" fill="#4946ae"/><ellipse cx="0.79" cy="0.83" rx="0.14" ry="0.09" fill="#4946ae"/></g></g>
<g filter="url(#bl)"><rect x="166.3" y="250" width="14.90" height="34.00" fill="#1a1a1a"/><g transform="translate(166.45,250.50) scale(14.602,33.000)"><path d="M0.5,0.02 C0.62,0.02 0.68,0.1 0.7,0.18 L0.8,0.24 L0.8,0.3 C0.81,0.4 0.81,0.5 0.82,0.56 C0.9,0.64 0.95,0.74 0.93,0.86 C0.91,0.94 0.81,0.97 0.71,0.96 L0.58,0.93 L0.52,0.99 L0.44,0.93 L0.3,0.96 C0.2,0.97 0.09,0.94 0.07,0.86 C0.05,0.74 0.1,0.64 0.18,0.56 C0.19,0.5 0.19,0.4 0.2,0.3 L0.2,0.24 L0.3,0.18 C0.32,0.1 0.38,0.02 0.5,0.02 Z" fill="#8a8a8a"/><path d="M0.5,0.02 C0.62,0.02 0.68,0.1 0.7,0.18 L0.8,0.24 L0.8,0.3 C0.81,0.4 0.81,0.5 0.82,0.56 C0.9,0.64 0.95,0.74 0.93,0.86 C0.91,0.94 0.81,0.97 0.71,0.96 L0.58,0.93 L0.52,0.99 L0.44,0.93 L0.3,0.96 C0.2,0.97 0.09,0.94 0.07,0.86 C0.05,0.74 0.1,0.64 0.18,0.56 C0.19,0.5 0.19,0.4 0.2,0.3 L0.2,0.24 L0.3,0.18 C0.32,0.1 0.38,0.02 0.5,0.02 Z" fill="#dedede" transform="translate(0.04,0.015) scale(0.92,0.97)"/><path d="M0.5,0.04 C0.6,0.04 0.66,0.11 0.68,0.19 L0.78,0.25 L0.78,0.3 C0.79,0.4 0.79,0.55 0.8,0.66 C0.7,0.7 0.6,0.68 0.5,0.72 C0.4,0.68 0.3,0.7 0.2,0.66 C0.21,0.55 0.21,0.4 0.22,0.3 L0.22,0.25 L0.32,0.19 C0.34,0.11 0.4,0.04 0.5,0.04 Z" fill="#4946ae"/><ellipse cx="0.32" cy="0.45" rx="0.06" ry="0.08" fill="#dedede" opacity="0.7"/><ellipse cx="0.56" cy="0.66" rx="0.16" ry="0.05" fill="#dedede"/><ellipse cx="0.2" cy="0.8" rx="0.14" ry="0.09" fill="#4946ae"/><ellipse cx="0.79" cy="0.83" rx="0.14" ry="0.09" fill="#4946ae"/></g></g>
<g filter="url(#bl)"><rect x="183.3" y="250.6" width="24.90" height="33.80" fill="#1a1a1a"/><g transform="translate(195.63,251.10) scale(-12.201,32.800)"><path d="M0.5,0.02 C0.62,0.02 0.68,0.1 0.7,0.18 L0.8,0.24 L0.8,0.3 C0.81,0.4 0.81,0.5 0.82,0.56 C0.9,0.64 0.95,0.74 0.93,0.86 C0.91,0.94 0.81,0.97 0.71,0.96 L0.58,0.93 L0.52,0.99 L0.44,0.93 L0.3,0.96 C0.2,0.97 0.09,0.94 0.07,0.86 C0.05,0.74 0.1,0.64 0.18,0.56 C0.19,0.5 0.19,0.4 0.2,0.3 L0.2,0.24 L0.3,0.18 C0.32,0.1 0.38,0.02 0.5,0.02 Z" fill="#8a8a8a"/><path d="M0.5,0.02 C0.62,0.02 0.68,0.1 0.7,0.18 L0.8,0.24 L0.8,0.3 C0.81,0.4 0.81,0.5 0.82,0.56 C0.9,0.64 0.95,0.74 0.93,0.86 C0.91,0.94 0.81,0.97 0.71,0.96 L0.58,0.93 L0.52,0.99 L0.44,0.93 L0.3,0.96 C0.2,0.97 0.09,0.94 0.07,0.86 C0.05,0.74 0.1,0.64 0.18,0.56 C0.19,0.5 0.19,0.4 0.2,0.3 L0.2,0.24 L0.3,0.18 C0.32,0.1 0.38,0.02 0.5,0.02 Z" fill="#dedede" transform="translate(0.04,0.015) scale(0.92,0.97)"/><path d="M0.5,0.04 C0.6,0.04 0.66,0.11 0.68,0.19 L0.78,0.25 L0.78,0.3 C0.79,0.4 0.79,0.55 0.8,0.66 C0.7,0.7 0.6,0.68 0.5,0.72 C0.4,0.68 0.3,0.7 0.2,0.66 C0.21,0.55 0.21,0.4 0.22,0.3 L0.22,0.25 L0.32,0.19 C0.34,0.11 0.4,0.04 0.5,0.04 Z" fill="#4946ae"/><ellipse cx="0.32" cy="0.45" rx="0.06" ry="0.08" fill="#dedede" opacity="0.7"/><ellipse cx="0.56" cy="0.66" rx="0.16" ry="0.05" fill="#dedede"/><ellipse cx="0.2" cy="0.8" rx="0.14" ry="0.09" fill="#4946ae"/><ellipse cx="0.79" cy="0.83" rx="0.14" ry="0.09" fill="#4946ae"/></g><g transform="translate(195.87,251.10) scale(12.201,32.800)"><path d="M0.5,0.02 C0.62,0.02 0.68,0.1 0.7,0.18 L0.8,0.24 L0.8,0.3 C0.81,0.4 0.81,0.5 0.82,0.56 C0.9,0.64 0.95,0.74 0.93,0.86 C0.91,0.94 0.81,0.97 0.71,0.96 L0.58,0.93 L0.52,0.99 L0.44,0.93 L0.3,0.96 C0.2,0.97 0.09,0.94 0.07,0.86 C0.05,0.74 0.1,0.64 0.18,0.56 C0.19,0.5 0.19,0.4 0.2,0.3 L0.2,0.24 L0.3,0.18 C0.32,0.1 0.38,0.02 0.5,0.02 Z" fill="#8a8a8a"/><path d="M0.5,0.02 C0.62,0.02 0.68,0.1 0.7,0.18 L0.8,0.24 L0.8,0.3 C0.81,0.4 0.81,0.5 0.82,0.56 C0.9,0.64 0.95,0.74 0.93,0.86 C0.91,0.94 0.81,0.97 0.71,0.96 L0.58,0.93 L0.52,0.99 L0.44,0.93 L0.3,0.96 C0.2,0.97 0.09,0.94 0.07,0.86 C0.05,0.74 0.1,0.64 0.18,0.56 C0.19,0.5 0.19,0.4 0.2,0.3 L0.2,0.24 L0.3,0.18 C0.32,0.1 0.38,0.02 0.5,0.02 Z" fill="#dedede" transform="translate(0.04,0.015) scale(0.92,0.97)"/><path d="M0.5,0.04 C0.6,0.04 0.66,0.11 0.68,0.19 L0.78,0.25 L0.78,0.3 C0.79,0.4 0.79,0.55 0.8,0.66 C0.7,0.7 0.6,0.68 0.5,0.72 C0.4,0.68 0.3,0.7 0.2,0.66 C0.21,0.55 0.21,0.4 0.22,0.3 L0.22,0.25 L0.32,0.19 C0.34,0.11 0.4,0.04 0.5,0.04 Z" fill="#4946ae"/><ellipse cx="0.32" cy="0.45" rx="0.06" ry="0.08" fill="#dedede" opacity="0.7"/><ellipse cx="0.56" cy="0.66" rx="0.16" ry="0.05" fill="#dedede"/><ellipse cx="0.2" cy="0.8" rx="0.14" ry="0.09" fill="#4946ae"/><ellipse cx="0.79" cy="0.83" rx="0.14" ry="0.09" fill="#4946ae"/></g></g>
<g filter="url(#bl)"><rect x="211.2" y="250" width="26.60" height="33.40" fill="#1a1a1a"/><g transform="translate(224.37,250.50) scale(-13.034,32.400)"><path d="M0.5,0.02 C0.62,0.02 0.68,0.1 0.7,0.18 L0.8,0.24 L0.8,0.3 C0.81,0.4 0.81,0.5 0.82,0.56 C0.9,0.64 0.95,0.74 0.93,0.86 C0.91,0.94 0.81,0.97 0.71,0.96 L0.58,0.93 L0.52,0.99 L0.44,0.93 L0.3,0.96 C0.2,0.97 0.09,0.94 0.07,0.86 C0.05,0.74 0.1,0.64 0.18,0.56 C0.19,0.5 0.19,0.4 0.2,0.3 L0.2,0.24 L0.3,0.18 C0.32,0.1 0.38,0.02 0.5,0.02 Z" fill="#8a8a8a"/><path d="M0.5,0.02 C0.62,0.02 0.68,0.1 0.7,0.18 L0.8,0.24 L0.8,0.3 C0.81,0.4 0.81,0.5 0.82,0.56 C0.9,0.64 0.95,0.74 0.93,0.86 C0.91,0.94 0.81,0.97 0.71,0.96 L0.58,0.93 L0.52,0.99 L0.44,0.93 L0.3,0.96 C0.2,0.97 0.09,0.94 0.07,0.86 C0.05,0.74 0.1,0.64 0.18,0.56 C0.19,0.5 0.19,0.4 0.2,0.3 L0.2,0.24 L0.3,0.18 C0.32,0.1 0.38,0.02 0.5,0.02 Z" fill="#dedede" transform="translate(0.04,0.015) scale(0.92,0.97)"/><path d="M0.5,0.04 C0.6,0.04 0.66,0.11 0.68,0.19 L0.78,0.25 L0.78,0.3 C0.79,0.4 0.79,0.55 0.8,0.66 C0.7,0.7 0.6,0.68 0.5,0.72 C0.4,0.68 0.3,0.7 0.2,0.66 C0.21,0.55 0.21,0.4 0.22,0.3 L0.22,0.25 L0.32,0.19 C0.34,0.11 0.4,0.04 0.5,0.04 Z" fill="#4946ae"/><ellipse cx="0.32" cy="0.45" rx="0.06" ry="0.08" fill="#dedede" opacity="0.7"/><ellipse cx="0.56" cy="0.66" rx="0.16" ry="0.05" fill="#dedede"/><ellipse cx="0.2" cy="0.8" rx="0.14" ry="0.09" fill="#4946ae"/><ellipse cx="0.79" cy="0.83" rx="0.14" ry="0.09" fill="#4946ae"/></g><g transform="translate(224.63,250.50) scale(13.034,32.400)"><path d="M0.5,0.02 C0.62,0.02 0.68,0.1 0.7,0.18 L0.8,0.24 L0.8,0.3 C0.81,0.4 0.81,0.5 0.82,0.56 C0.9,0.64 0.95,0.74 0.93,0.86 C0.91,0.94 0.81,0.97 0.71,0.96 L0.58,0.93 L0.52,0.99 L0.44,0.93 L0.3,0.96 C0.2,0.97 0.09,0.94 0.07,0.86 C0.05,0.74 0.1,0.64 0.18,0.56 C0.19,0.5 0.19,0.4 0.2,0.3 L0.2,0.24 L0.3,0.18 C0.32,0.1 0.38,0.02 0.5,0.02 Z" fill="#8a8a8a"/><path d="M0.5,0.02 C0.62,0.02 0.68,0.1 0.7,0.18 L0.8,0.24 L0.8,0.3 C0.81,0.4 0.81,0.5 0.82,0.56 C0.9,0.64 0.95,0.74 0.93,0.86 C0.91,0.94 0.81,0.97 0.71,0.96 L0.58,0.93 L0.52,0.99 L0.44,0.93 L0.3,0.96 C0.2,0.97 0.09,0.94 0.07,0.86 C0.05,0.74 0.1,0.64 0.18,0.56 C0.19,0.5 0.19,0.4 0.2,0.3 L0.2,0.24 L0.3,0.18 C0.32,0.1 0.38,0.02 0.5,0.02 Z" fill="#dedede" transform="translate(0.04,0.015) scale(0.92,0.97)"/><path d="M0.5,0.04 C0.6,0.04 0.66,0.11 0.68,0.19 L0.78,0.25 L0.78,0.3 C0.79,0.4 0.79,0.55 0.8,0.66 C0.7,0.7 0.6,0.68 0.5,0.72 C0.4,0.68 0.3,0.7 0.2,0.66 C0.21,0.55 0.21,0.4 0.22,0.3 L0.22,0.25 L0.32,0.19 C0.34,0.11 0.4,0.04 0.5,0.04 Z" fill="#4946ae"/><ellipse cx="0.32" cy="0.45" rx="0.06" ry="0.08" fill="#dedede" opacity="0.7"/><ellipse cx="0.56" cy="0.66" rx="0.16" ry="0.05" fill="#dedede"/><ellipse cx="0.2" cy="0.8" rx="0.14" ry="0.09" fill="#4946ae"/><ellipse cx="0.79" cy="0.83" rx="0.14" ry="0.09" fill="#4946ae"/></g></g>
<g filter="url(#bl)"><rect x="240" y="249.5" width="25.80" height="33.90" fill="#1a1a1a"/><g transform="translate(252.77,250.00) scale(-12.642,32.900)"><path d="M0.5,0.02 C0.62,0.02 0.68,0.1 0.7,0.18 L0.8,0.24 L0.8,0.3 C0.81,0.4 0.81,0.5 0.82,0.56 C0.9,0.64 0.95,0.74 0.93,0.86 C0.91,0.94 0.81,0.97 0.71,0.96 L0.58,0.93 L0.52,0.99 L0.44,0.93 L0.3,0.96 C0.2,0.97 0.09,0.94 0.07,0.86 C0.05,0.74 0.1,0.64 0.18,0.56 C0.19,0.5 0.19,0.4 0.2,0.3 L0.2,0.24 L0.3,0.18 C0.32,0.1 0.38,0.02 0.5,0.02 Z" fill="#8a8a8a"/><path d="M0.5,0.02 C0.62,0.02 0.68,0.1 0.7,0.18 L0.8,0.24 L0.8,0.3 C0.81,0.4 0.81,0.5 0.82,0.56 C0.9,0.64 0.95,0.74 0.93,0.86 C0.91,0.94 0.81,0.97 0.71,0.96 L0.58,0.93 L0.52,0.99 L0.44,0.93 L0.3,0.96 C0.2,0.97 0.09,0.94 0.07,0.86 C0.05,0.74 0.1,0.64 0.18,0.56 C0.19,0.5 0.19,0.4 0.2,0.3 L0.2,0.24 L0.3,0.18 C0.32,0.1 0.38,0.02 0.5,0.02 Z" fill="#dedede" transform="translate(0.04,0.015) scale(0.92,0.97)"/><path d="M0.5,0.04 C0.6,0.04 0.66,0.11 0.68,0.19 L0.78,0.25 L0.78,0.3 C0.79,0.4 0.79,0.55 0.8,0.66 C0.7,0.7 0.6,0.68 0.5,0.72 C0.4,0.68 0.3,0.7 0.2,0.66 C0.21,0.55 0.21,0.4 0.22,0.3 L0.22,0.25 L0.32,0.19 C0.34,0.11 0.4,0.04 0.5,0.04 Z" fill="#4946ae"/><ellipse cx="0.32" cy="0.45" rx="0.06" ry="0.08" fill="#dedede" opacity="0.7"/><ellipse cx="0.56" cy="0.66" rx="0.16" ry="0.05" fill="#dedede"/><ellipse cx="0.2" cy="0.8" rx="0.14" ry="0.09" fill="#4946ae"/><ellipse cx="0.79" cy="0.83" rx="0.14" ry="0.09" fill="#4946ae"/></g><g transform="translate(253.03,250.00) scale(12.642,32.900)"><path d="M0.5,0.02 C0.62,0.02 0.68,0.1 0.7,0.18 L0.8,0.24 L0.8,0.3 C0.81,0.4 0.81,0.5 0.82,0.56 C0.9,0.64 0.95,0.74 0.93,0.86 C0.91,0.94 0.81,0.97 0.71,0.96 L0.58,0.93 L0.52,0.99 L0.44,0.93 L0.3,0.96 C0.2,0.97 0.09,0.94 0.07,0.86 C0.05,0.74 0.1,0.64 0.18,0.56 C0.19,0.5 0.19,0.4 0.2,0.3 L0.2,0.24 L0.3,0.18 C0.32,0.1 0.38,0.02 0.5,0.02 Z" fill="#8a8a8a"/><path d="M0.5,0.02 C0.62,0.02 0.68,0.1 0.7,0.18 L0.8,0.24 L0.8,0.3 C0.81,0.4 0.81,0.5 0.82,0.56 C0.9,0.64 0.95,0.74 0.93,0.86 C0.91,0.94 0.81,0.97 0.71,0.96 L0.58,0.93 L0.52,0.99 L0.44,0.93 L0.3,0.96 C0.2,0.97 0.09,0.94 0.07,0.86 C0.05,0.74 0.1,0.64 0.18,0.56 C0.19,0.5 0.19,0.4 0.2,0.3 L0.2,0.24 L0.3,0.18 C0.32,0.1 0.38,0.02 0.5,0.02 Z" fill="#dedede" transform="translate(0.04,0.015) scale(0.92,0.97)"/><path d="M0.5,0.04 C0.6,0.04 0.66,0.11 0.68,0.19 L0.78,0.25 L0.78,0.3 C0.79,0.4 0.79,0.55 0.8,0.66 C0.7,0.7 0.6,0.68 0.5,0.72 C0.4,0.68 0.3,0.7 0.2,0.66 C0.21,0.55 0.21,0.4 0.22,0.3 L0.22,0.25 L0.32,0.19 C0.34,0.11 0.4,0.04 0.5,0.04 Z" fill="#4946ae"/><ellipse cx="0.32" cy="0.45" rx="0.06" ry="0.08" fill="#dedede" opacity="0.7"/><ellipse cx="0.56" cy="0.66" rx="0.16" ry="0.05" fill="#dedede"/><ellipse cx="0.2" cy="0.8" rx="0.14" ry="0.09" fill="#4946ae"/><ellipse cx="0.79" cy="0.83" rx="0.14" ry="0.09" fill="#4946ae"/></g></g>
<g filter="url(#bl)"><rect x="166.3" y="287" width="14.20" height="34.40" fill="#1a1a1a"/><g transform="translate(180.36,287.50) scale(-13.916,33.400)"><path d="M0.5,0.02 C0.62,0.02 0.68,0.1 0.7,0.18 L0.8,0.24 L0.8,0.3 C0.81,0.4 0.81,0.5 0.82,0.56 C0.9,0.64 0.95,0.74 0.93,0.86 C0.91,0.94 0.81,0.97 0.71,0.96 L0.58,0.93 L0.52,0.99 L0.44,0.93 L0.3,0.96 C0.2,0.97 0.09,0.94 0.07,0.86 C0.05,0.74 0.1,0.64 0.18,0.56 C0.19,0.5 0.19,0.4 0.2,0.3 L0.2,0.24 L0.3,0.18 C0.32,0.1 0.38,0.02 0.5,0.02 Z" fill="#8a8a8a"/><path d="M0.5,0.02 C0.62,0.02 0.68,0.1 0.7,0.18 L0.8,0.24 L0.8,0.3 C0.81,0.4 0.81,0.5 0.82,0.56 C0.9,0.64 0.95,0.74 0.93,0.86 C0.91,0.94 0.81,0.97 0.71,0.96 L0.58,0.93 L0.52,0.99 L0.44,0.93 L0.3,0.96 C0.2,0.97 0.09,0.94 0.07,0.86 C0.05,0.74 0.1,0.64 0.18,0.56 C0.19,0.5 0.19,0.4 0.2,0.3 L0.2,0.24 L0.3,0.18 C0.32,0.1 0.38,0.02 0.5,0.02 Z" fill="#dedede" transform="translate(0.04,0.015) scale(0.92,0.97)"/><path d="M0.5,0.04 C0.6,0.04 0.66,0.11 0.68,0.19 L0.78,0.25 L0.78,0.3 C0.79,0.4 0.79,0.55 0.8,0.66 C0.7,0.7 0.6,0.68 0.5,0.72 C0.4,0.68 0.3,0.7 0.2,0.66 C0.21,0.55 0.21,0.4 0.22,0.3 L0.22,0.25 L0.32,0.19 C0.34,0.11 0.4,0.04 0.5,0.04 Z" fill="#4946ae"/><ellipse cx="0.32" cy="0.45" rx="0.06" ry="0.08" fill="#dedede" opacity="0.7"/><ellipse cx="0.56" cy="0.66" rx="0.16" ry="0.05" fill="#dedede"/><ellipse cx="0.2" cy="0.8" rx="0.14" ry="0.09" fill="#4946ae"/><ellipse cx="0.79" cy="0.83" rx="0.14" ry="0.09" fill="#4946ae"/></g></g>
<g filter="url(#bl)"><rect x="183.3" y="287" width="24.90" height="34.40" fill="#1a1a1a"/><g transform="translate(183.42,287.50) scale(12.201,33.400)"><path d="M0.5,0.02 C0.62,0.02 0.68,0.1 0.7,0.18 L0.8,0.24 L0.8,0.3 C0.81,0.4 0.81,0.5 0.82,0.56 C0.9,0.64 0.95,0.74 0.93,0.86 C0.91,0.94 0.81,0.97 0.71,0.96 L0.58,0.93 L0.52,0.99 L0.44,0.93 L0.3,0.96 C0.2,0.97 0.09,0.94 0.07,0.86 C0.05,0.74 0.1,0.64 0.18,0.56 C0.19,0.5 0.19,0.4 0.2,0.3 L0.2,0.24 L0.3,0.18 C0.32,0.1 0.38,0.02 0.5,0.02 Z" fill="#8a8a8a"/><path d="M0.5,0.02 C0.62,0.02 0.68,0.1 0.7,0.18 L0.8,0.24 L0.8,0.3 C0.81,0.4 0.81,0.5 0.82,0.56 C0.9,0.64 0.95,0.74 0.93,0.86 C0.91,0.94 0.81,0.97 0.71,0.96 L0.58,0.93 L0.52,0.99 L0.44,0.93 L0.3,0.96 C0.2,0.97 0.09,0.94 0.07,0.86 C0.05,0.74 0.1,0.64 0.18,0.56 C0.19,0.5 0.19,0.4 0.2,0.3 L0.2,0.24 L0.3,0.18 C0.32,0.1 0.38,0.02 0.5,0.02 Z" fill="#dedede" transform="translate(0.04,0.015) scale(0.92,0.97)"/><path d="M0.5,0.04 C0.6,0.04 0.66,0.11 0.68,0.19 L0.78,0.25 L0.78,0.3 C0.79,0.4 0.79,0.55 0.8,0.66 C0.7,0.7 0.6,0.68 0.5,0.72 C0.4,0.68 0.3,0.7 0.2,0.66 C0.21,0.55 0.21,0.4 0.22,0.3 L0.22,0.25 L0.32,0.19 C0.34,0.11 0.4,0.04 0.5,0.04 Z" fill="#4946ae"/><ellipse cx="0.32" cy="0.45" rx="0.06" ry="0.08" fill="#dedede" opacity="0.7"/><ellipse cx="0.56" cy="0.66" rx="0.16" ry="0.05" fill="#dedede"/><ellipse cx="0.2" cy="0.8" rx="0.14" ry="0.09" fill="#4946ae"/><ellipse cx="0.79" cy="0.83" rx="0.14" ry="0.09" fill="#4946ae"/></g><g transform="translate(208.08,287.50) scale(-12.201,33.400)"><path d="M0.5,0.02 C0.62,0.02 0.68,0.1 0.7,0.18 L0.8,0.24 L0.8,0.3 C0.81,0.4 0.81,0.5 0.82,0.56 C0.9,0.64 0.95,0.74 0.93,0.86 C0.91,0.94 0.81,0.97 0.71,0.96 L0.58,0.93 L0.52,0.99 L0.44,0.93 L0.3,0.96 C0.2,0.97 0.09,0.94 0.07,0.86 C0.05,0.74 0.1,0.64 0.18,0.56 C0.19,0.5 0.19,0.4 0.2,0.3 L0.2,0.24 L0.3,0.18 C0.32,0.1 0.38,0.02 0.5,0.02 Z" fill="#8a8a8a"/><path d="M0.5,0.02 C0.62,0.02 0.68,0.1 0.7,0.18 L0.8,0.24 L0.8,0.3 C0.81,0.4 0.81,0.5 0.82,0.56 C0.9,0.64 0.95,0.74 0.93,0.86 C0.91,0.94 0.81,0.97 0.71,0.96 L0.58,0.93 L0.52,0.99 L0.44,0.93 L0.3,0.96 C0.2,0.97 0.09,0.94 0.07,0.86 C0.05,0.74 0.1,0.64 0.18,0.56 C0.19,0.5 0.19,0.4 0.2,0.3 L0.2,0.24 L0.3,0.18 C0.32,0.1 0.38,0.02 0.5,0.02 Z" fill="#dedede" transform="translate(0.04,0.015) scale(0.92,0.97)"/><path d="M0.5,0.04 C0.6,0.04 0.66,0.11 0.68,0.19 L0.78,0.25 L0.78,0.3 C0.79,0.4 0.79,0.55 0.8,0.66 C0.7,0.7 0.6,0.68 0.5,0.72 C0.4,0.68 0.3,0.7 0.2,0.66 C0.21,0.55 0.21,0.4 0.22,0.3 L0.22,0.25 L0.32,0.19 C0.34,0.11 0.4,0.04 0.5,0.04 Z" fill="#4946ae"/><ellipse cx="0.32" cy="0.45" rx="0.06" ry="0.08" fill="#dedede" opacity="0.7"/><ellipse cx="0.56" cy="0.66" rx="0.16" ry="0.05" fill="#dedede"/><ellipse cx="0.2" cy="0.8" rx="0.14" ry="0.09" fill="#4946ae"/><ellipse cx="0.79" cy="0.83" rx="0.14" ry="0.09" fill="#4946ae"/></g></g>
<g filter="url(#bl)"><rect x="212.9" y="287.6" width="25.40" height="33.40" fill="#1a1a1a"/><g transform="translate(213.03,288.10) scale(12.446,32.400)"><path d="M0.5,0.02 C0.62,0.02 0.68,0.1 0.7,0.18 L0.8,0.24 L0.8,0.3 C0.81,0.4 0.81,0.5 0.82,0.56 C0.9,0.64 0.95,0.74 0.93,0.86 C0.91,0.94 0.81,0.97 0.71,0.96 L0.58,0.93 L0.52,0.99 L0.44,0.93 L0.3,0.96 C0.2,0.97 0.09,0.94 0.07,0.86 C0.05,0.74 0.1,0.64 0.18,0.56 C0.19,0.5 0.19,0.4 0.2,0.3 L0.2,0.24 L0.3,0.18 C0.32,0.1 0.38,0.02 0.5,0.02 Z" fill="#8a8a8a"/><path d="M0.5,0.02 C0.62,0.02 0.68,0.1 0.7,0.18 L0.8,0.24 L0.8,0.3 C0.81,0.4 0.81,0.5 0.82,0.56 C0.9,0.64 0.95,0.74 0.93,0.86 C0.91,0.94 0.81,0.97 0.71,0.96 L0.58,0.93 L0.52,0.99 L0.44,0.93 L0.3,0.96 C0.2,0.97 0.09,0.94 0.07,0.86 C0.05,0.74 0.1,0.64 0.18,0.56 C0.19,0.5 0.19,0.4 0.2,0.3 L0.2,0.24 L0.3,0.18 C0.32,0.1 0.38,0.02 0.5,0.02 Z" fill="#dedede" transform="translate(0.04,0.015) scale(0.92,0.97)"/><path d="M0.5,0.04 C0.6,0.04 0.66,0.11 0.68,0.19 L0.78,0.25 L0.78,0.3 C0.79,0.4 0.79,0.55 0.8,0.66 C0.7,0.7 0.6,0.68 0.5,0.72 C0.4,0.68 0.3,0.7 0.2,0.66 C0.21,0.55 0.21,0.4 0.22,0.3 L0.22,0.25 L0.32,0.19 C0.34,0.11 0.4,0.04 0.5,0.04 Z" fill="#4946ae"/><ellipse cx="0.32" cy="0.45" rx="0.06" ry="0.08" fill="#dedede" opacity="0.7"/><ellipse cx="0.56" cy="0.66" rx="0.16" ry="0.05" fill="#dedede"/><ellipse cx="0.2" cy="0.8" rx="0.14" ry="0.09" fill="#4946ae"/><ellipse cx="0.79" cy="0.83" rx="0.14" ry="0.09" fill="#4946ae"/></g><g transform="translate(238.17,288.10) scale(-12.446,32.400)"><path d="M0.5,0.02 C0.62,0.02 0.68,0.1 0.7,0.18 L0.8,0.24 L0.8,0.3 C0.81,0.4 0.81,0.5 0.82,0.56 C0.9,0.64 0.95,0.74 0.93,0.86 C0.91,0.94 0.81,0.97 0.71,0.96 L0.58,0.93 L0.52,0.99 L0.44,0.93 L0.3,0.96 C0.2,0.97 0.09,0.94 0.07,0.86 C0.05,0.74 0.1,0.64 0.18,0.56 C0.19,0.5 0.19,0.4 0.2,0.3 L0.2,0.24 L0.3,0.18 C0.32,0.1 0.38,0.02 0.5,0.02 Z" fill="#8a8a8a"/><path d="M0.5,0.02 C0.62,0.02 0.68,0.1 0.7,0.18 L0.8,0.24 L0.8,0.3 C0.81,0.4 0.81,0.5 0.82,0.56 C0.9,0.64 0.95,0.74 0.93,0.86 C0.91,0.94 0.81,0.97 0.71,0.96 L0.58,0.93 L0.52,0.99 L0.44,0.93 L0.3,0.96 C0.2,0.97 0.09,0.94 0.07,0.86 C0.05,0.74 0.1,0.64 0.18,0.56 C0.19,0.5 0.19,0.4 0.2,0.3 L0.2,0.24 L0.3,0.18 C0.32,0.1 0.38,0.02 0.5,0.02 Z" fill="#dedede" transform="translate(0.04,0.015) scale(0.92,0.97)"/><path d="M0.5,0.04 C0.6,0.04 0.66,0.11 0.68,0.19 L0.78,0.25 L0.78,0.3 C0.79,0.4 0.79,0.55 0.8,0.66 C0.7,0.7 0.6,0.68 0.5,0.72 C0.4,0.68 0.3,0.7 0.2,0.66 C0.21,0.55 0.21,0.4 0.22,0.3 L0.22,0.25 L0.32,0.19 C0.34,0.11 0.4,0.04 0.5,0.04 Z" fill="#4946ae"/><ellipse cx="0.32" cy="0.45" rx="0.06" ry="0.08" fill="#dedede" opacity="0.7"/><ellipse cx="0.56" cy="0.66" rx="0.16" ry="0.05" fill="#dedede"/><ellipse cx="0.2" cy="0.8" rx="0.14" ry="0.09" fill="#4946ae"/><ellipse cx="0.79" cy="0.83" rx="0.14" ry="0.09" fill="#4946ae"/></g></g>
<g filter="url(#bl)"><rect x="240.4" y="287" width="25.40" height="35.00" fill="#1a1a1a"/><g transform="translate(240.53,287.50) scale(12.446,34.000)"><path d="M0.5,0.02 C0.62,0.02 0.68,0.1 0.7,0.18 L0.8,0.24 L0.8,0.3 C0.81,0.4 0.81,0.5 0.82,0.56 C0.9,0.64 0.95,0.74 0.93,0.86 C0.91,0.94 0.81,0.97 0.71,0.96 L0.58,0.93 L0.52,0.99 L0.44,0.93 L0.3,0.96 C0.2,0.97 0.09,0.94 0.07,0.86 C0.05,0.74 0.1,0.64 0.18,0.56 C0.19,0.5 0.19,0.4 0.2,0.3 L0.2,0.24 L0.3,0.18 C0.32,0.1 0.38,0.02 0.5,0.02 Z" fill="#8a8a8a"/><path d="M0.5,0.02 C0.62,0.02 0.68,0.1 0.7,0.18 L0.8,0.24 L0.8,0.3 C0.81,0.4 0.81,0.5 0.82,0.56 C0.9,0.64 0.95,0.74 0.93,0.86 C0.91,0.94 0.81,0.97 0.71,0.96 L0.58,0.93 L0.52,0.99 L0.44,0.93 L0.3,0.96 C0.2,0.97 0.09,0.94 0.07,0.86 C0.05,0.74 0.1,0.64 0.18,0.56 C0.19,0.5 0.19,0.4 0.2,0.3 L0.2,0.24 L0.3,0.18 C0.32,0.1 0.38,0.02 0.5,0.02 Z" fill="#dedede" transform="translate(0.04,0.015) scale(0.92,0.97)"/><path d="M0.5,0.04 C0.6,0.04 0.66,0.11 0.68,0.19 L0.78,0.25 L0.78,0.3 C0.79,0.4 0.79,0.55 0.8,0.66 C0.7,0.7 0.6,0.68 0.5,0.72 C0.4,0.68 0.3,0.7 0.2,0.66 C0.21,0.55 0.21,0.4 0.22,0.3 L0.22,0.25 L0.32,0.19 C0.34,0.11 0.4,0.04 0.5,0.04 Z" fill="#4946ae"/><ellipse cx="0.32" cy="0.45" rx="0.06" ry="0.08" fill="#dedede" opacity="0.7"/><ellipse cx="0.56" cy="0.66" rx="0.16" ry="0.05" fill="#dedede"/><ellipse cx="0.2" cy="0.8" rx="0.14" ry="0.09" fill="#4946ae"/><ellipse cx="0.79" cy="0.83" rx="0.14" ry="0.09" fill="#4946ae"/></g><g transform="translate(265.67,287.50) scale(-12.446,34.000)"><path d="M0.5,0.02 C0.62,0.02 0.68,0.1 0.7,0.18 L0.8,0.24 L0.8,0.3 C0.81,0.4 0.81,0.5 0.82,0.56 C0.9,0.64 0.95,0.74 0.93,0.86 C0.91,0.94 0.81,0.97 0.71,0.96 L0.58,0.93 L0.52,0.99 L0.44,0.93 L0.3,0.96 C0.2,0.97 0.09,0.94 0.07,0.86 C0.05,0.74 0.1,0.64 0.18,0.56 C0.19,0.5 0.19,0.4 0.2,0.3 L0.2,0.24 L0.3,0.18 C0.32,0.1 0.38,0.02 0.5,0.02 Z" fill="#8a8a8a"/><path d="M0.5,0.02 C0.62,0.02 0.68,0.1 0.7,0.18 L0.8,0.24 L0.8,0.3 C0.81,0.4 0.81,0.5 0.82,0.56 C0.9,0.64 0.95,0.74 0.93,0.86 C0.91,0.94 0.81,0.97 0.71,0.96 L0.58,0.93 L0.52,0.99 L0.44,0.93 L0.3,0.96 C0.2,0.97 0.09,0.94 0.07,0.86 C0.05,0.74 0.1,0.64 0.18,0.56 C0.19,0.5 0.19,0.4 0.2,0.3 L0.2,0.24 L0.3,0.18 C0.32,0.1 0.38,0.02 0.5,0.02 Z" fill="#dedede" transform="translate(0.04,0.015) scale(0.92,0.97)"/><path d="M0.5,0.04 C0.6,0.04 0.66,0.11 0.68,0.19 L0.78,0.25 L0.78,0.3 C0.79,0.4 0.79,0.55 0.8,0.66 C0.7,0.7 0.6,0.68 0.5,0.72 C0.4,0.68 0.3,0.7 0.2,0.66 C0.21,0.55 0.21,0.4 0.22,0.3 L0.22,0.25 L0.32,0.19 C0.34,0.11 0.4,0.04 0.5,0.04 Z" fill="#4946ae"/><ellipse cx="0.32" cy="0.45" rx="0.06" ry="0.08" fill="#dedede" opacity="0.7"/><ellipse cx="0.56" cy="0.66" rx="0.16" ry="0.05" fill="#dedede"/><ellipse cx="0.2" cy="0.8" rx="0.14" ry="0.09" fill="#4946ae"/><ellipse cx="0.79" cy="0.83" rx="0.14" ry="0.09" fill="#4946ae"/></g></g>
<g filter="url(#bl)"><rect x="167.4" y="325.3" width="13.30" height="34.50" fill="#1a1a1a"/><g transform="translate(167.53,325.80) scale(13.034,33.500)"><path d="M0.5,0.02 C0.62,0.02 0.68,0.1 0.7,0.18 L0.8,0.24 L0.8,0.3 C0.81,0.4 0.81,0.5 0.82,0.56 C0.9,0.64 0.95,0.74 0.93,0.86 C0.91,0.94 0.81,0.97 0.71,0.96 L0.58,0.93 L0.52,0.99 L0.44,0.93 L0.3,0.96 C0.2,0.97 0.09,0.94 0.07,0.86 C0.05,0.74 0.1,0.64 0.18,0.56 C0.19,0.5 0.19,0.4 0.2,0.3 L0.2,0.24 L0.3,0.18 C0.32,0.1 0.38,0.02 0.5,0.02 Z" fill="#8a8a8a"/><path d="M0.5,0.02 C0.62,0.02 0.68,0.1 0.7,0.18 L0.8,0.24 L0.8,0.3 C0.81,0.4 0.81,0.5 0.82,0.56 C0.9,0.64 0.95,0.74 0.93,0.86 C0.91,0.94 0.81,0.97 0.71,0.96 L0.58,0.93 L0.52,0.99 L0.44,0.93 L0.3,0.96 C0.2,0.97 0.09,0.94 0.07,0.86 C0.05,0.74 0.1,0.64 0.18,0.56 C0.19,0.5 0.19,0.4 0.2,0.3 L0.2,0.24 L0.3,0.18 C0.32,0.1 0.38,0.02 0.5,0.02 Z" fill="#dedede" transform="translate(0.04,0.015) scale(0.92,0.97)"/><path d="M0.5,0.04 C0.6,0.04 0.66,0.11 0.68,0.19 L0.78,0.25 L0.78,0.3 C0.79,0.4 0.79,0.55 0.8,0.66 C0.7,0.7 0.6,0.68 0.5,0.72 C0.4,0.68 0.3,0.7 0.2,0.66 C0.21,0.55 0.21,0.4 0.22,0.3 L0.22,0.25 L0.32,0.19 C0.34,0.11 0.4,0.04 0.5,0.04 Z" fill="#4946ae"/><ellipse cx="0.32" cy="0.45" rx="0.06" ry="0.08" fill="#dedede" opacity="0.7"/><ellipse cx="0.56" cy="0.66" rx="0.16" ry="0.05" fill="#dedede"/><ellipse cx="0.2" cy="0.8" rx="0.14" ry="0.09" fill="#4946ae"/><ellipse cx="0.79" cy="0.83" rx="0.14" ry="0.09" fill="#4946ae"/></g></g>
<g filter="url(#bl)"><rect x="182.8" y="325.9" width="25.40" height="34.30" fill="#1a1a1a"/><g transform="translate(195.37,326.40) scale(-12.446,33.300)"><path d="M0.5,0.02 C0.62,0.02 0.68,0.1 0.7,0.18 L0.8,0.24 L0.8,0.3 C0.81,0.4 0.81,0.5 0.82,0.56 C0.9,0.64 0.95,0.74 0.93,0.86 C0.91,0.94 0.81,0.97 0.71,0.96 L0.58,0.93 L0.52,0.99 L0.44,0.93 L0.3,0.96 C0.2,0.97 0.09,0.94 0.07,0.86 C0.05,0.74 0.1,0.64 0.18,0.56 C0.19,0.5 0.19,0.4 0.2,0.3 L0.2,0.24 L0.3,0.18 C0.32,0.1 0.38,0.02 0.5,0.02 Z" fill="#8a8a8a"/><path d="M0.5,0.02 C0.62,0.02 0.68,0.1 0.7,0.18 L0.8,0.24 L0.8,0.3 C0.81,0.4 0.81,0.5 0.82,0.56 C0.9,0.64 0.95,0.74 0.93,0.86 C0.91,0.94 0.81,0.97 0.71,0.96 L0.58,0.93 L0.52,0.99 L0.44,0.93 L0.3,0.96 C0.2,0.97 0.09,0.94 0.07,0.86 C0.05,0.74 0.1,0.64 0.18,0.56 C0.19,0.5 0.19,0.4 0.2,0.3 L0.2,0.24 L0.3,0.18 C0.32,0.1 0.38,0.02 0.5,0.02 Z" fill="#dedede" transform="translate(0.04,0.015) scale(0.92,0.97)"/><path d="M0.5,0.04 C0.6,0.04 0.66,0.11 0.68,0.19 L0.78,0.25 L0.78,0.3 C0.79,0.4 0.79,0.55 0.8,0.66 C0.7,0.7 0.6,0.68 0.5,0.72 C0.4,0.68 0.3,0.7 0.2,0.66 C0.21,0.55 0.21,0.4 0.22,0.3 L0.22,0.25 L0.32,0.19 C0.34,0.11 0.4,0.04 0.5,0.04 Z" fill="#4946ae"/><ellipse cx="0.32" cy="0.45" rx="0.06" ry="0.08" fill="#dedede" opacity="0.7"/><ellipse cx="0.56" cy="0.66" rx="0.16" ry="0.05" fill="#dedede"/><ellipse cx="0.2" cy="0.8" rx="0.14" ry="0.09" fill="#4946ae"/><ellipse cx="0.79" cy="0.83" rx="0.14" ry="0.09" fill="#4946ae"/></g><g transform="translate(195.63,326.40) scale(12.446,33.300)"><path d="M0.5,0.02 C0.62,0.02 0.68,0.1 0.7,0.18 L0.8,0.24 L0.8,0.3 C0.81,0.4 0.81,0.5 0.82,0.56 C0.9,0.64 0.95,0.74 0.93,0.86 C0.91,0.94 0.81,0.97 0.71,0.96 L0.58,0.93 L0.52,0.99 L0.44,0.93 L0.3,0.96 C0.2,0.97 0.09,0.94 0.07,0.86 C0.05,0.74 0.1,0.64 0.18,0.56 C0.19,0.5 0.19,0.4 0.2,0.3 L0.2,0.24 L0.3,0.18 C0.32,0.1 0.38,0.02 0.5,0.02 Z" fill="#8a8a8a"/><path d="M0.5,0.02 C0.62,0.02 0.68,0.1 0.7,0.18 L0.8,0.24 L0.8,0.3 C0.81,0.4 0.81,0.5 0.82,0.56 C0.9,0.64 0.95,0.74 0.93,0.86 C0.91,0.94 0.81,0.97 0.71,0.96 L0.58,0.93 L0.52,0.99 L0.44,0.93 L0.3,0.96 C0.2,0.97 0.09,0.94 0.07,0.86 C0.05,0.74 0.1,0.64 0.18,0.56 C0.19,0.5 0.19,0.4 0.2,0.3 L0.2,0.24 L0.3,0.18 C0.32,0.1 0.38,0.02 0.5,0.02 Z" fill="#dedede" transform="translate(0.04,0.015) scale(0.92,0.97)"/><path d="M0.5,0.04 C0.6,0.04 0.66,0.11 0.68,0.19 L0.78,0.25 L0.78,0.3 C0.79,0.4 0.79,0.55 0.8,0.66 C0.7,0.7 0.6,0.68 0.5,0.72 C0.4,0.68 0.3,0.7 0.2,0.66 C0.21,0.55 0.21,0.4 0.22,0.3 L0.22,0.25 L0.32,0.19 C0.34,0.11 0.4,0.04 0.5,0.04 Z" fill="#4946ae"/><ellipse cx="0.32" cy="0.45" rx="0.06" ry="0.08" fill="#dedede" opacity="0.7"/><ellipse cx="0.56" cy="0.66" rx="0.16" ry="0.05" fill="#dedede"/><ellipse cx="0.2" cy="0.8" rx="0.14" ry="0.09" fill="#4946ae"/><ellipse cx="0.79" cy="0.83" rx="0.14" ry="0.09" fill="#4946ae"/></g></g>
<g filter="url(#bl)"><rect x="212.9" y="325.3" width="24.90" height="34.70" fill="#1a1a1a"/><g transform="translate(225.23,325.80) scale(-12.201,33.700)"><path d="M0.5,0.02 C0.62,0.02 0.68,0.1 0.7,0.18 L0.8,0.24 L0.8,0.3 C0.81,0.4 0.81,0.5 0.82,0.56 C0.9,0.64 0.95,0.74 0.93,0.86 C0.91,0.94 0.81,0.97 0.71,0.96 L0.58,0.93 L0.52,0.99 L0.44,0.93 L0.3,0.96 C0.2,0.97 0.09,0.94 0.07,0.86 C0.05,0.74 0.1,0.64 0.18,0.56 C0.19,0.5 0.19,0.4 0.2,0.3 L0.2,0.24 L0.3,0.18 C0.32,0.1 0.38,0.02 0.5,0.02 Z" fill="#8a8a8a"/><path d="M0.5,0.02 C0.62,0.02 0.68,0.1 0.7,0.18 L0.8,0.24 L0.8,0.3 C0.81,0.4 0.81,0.5 0.82,0.56 C0.9,0.64 0.95,0.74 0.93,0.86 C0.91,0.94 0.81,0.97 0.71,0.96 L0.58,0.93 L0.52,0.99 L0.44,0.93 L0.3,0.96 C0.2,0.97 0.09,0.94 0.07,0.86 C0.05,0.74 0.1,0.64 0.18,0.56 C0.19,0.5 0.19,0.4 0.2,0.3 L0.2,0.24 L0.3,0.18 C0.32,0.1 0.38,0.02 0.5,0.02 Z" fill="#dedede" transform="translate(0.04,0.015) scale(0.92,0.97)"/><path d="M0.5,0.04 C0.6,0.04 0.66,0.11 0.68,0.19 L0.78,0.25 L0.78,0.3 C0.79,0.4 0.79,0.55 0.8,0.66 C0.7,0.7 0.6,0.68 0.5,0.72 C0.4,0.68 0.3,0.7 0.2,0.66 C0.21,0.55 0.21,0.4 0.22,0.3 L0.22,0.25 L0.32,0.19 C0.34,0.11 0.4,0.04 0.5,0.04 Z" fill="#4946ae"/><ellipse cx="0.32" cy="0.45" rx="0.06" ry="0.08" fill="#dedede" opacity="0.7"/><ellipse cx="0.56" cy="0.66" rx="0.16" ry="0.05" fill="#dedede"/><ellipse cx="0.2" cy="0.8" rx="0.14" ry="0.09" fill="#4946ae"/><ellipse cx="0.79" cy="0.83" rx="0.14" ry="0.09" fill="#4946ae"/></g><g transform="translate(225.47,325.80) scale(12.201,33.700)"><path d="M0.5,0.02 C0.62,0.02 0.68,0.1 0.7,0.18 L0.8,0.24 L0.8,0.3 C0.81,0.4 0.81,0.5 0.82,0.56 C0.9,0.64 0.95,0.74 0.93,0.86 C0.91,0.94 0.81,0.97 0.71,0.96 L0.58,0.93 L0.52,0.99 L0.44,0.93 L0.3,0.96 C0.2,0.97 0.09,0.94 0.07,0.86 C0.05,0.74 0.1,0.64 0.18,0.56 C0.19,0.5 0.19,0.4 0.2,0.3 L0.2,0.24 L0.3,0.18 C0.32,0.1 0.38,0.02 0.5,0.02 Z" fill="#8a8a8a"/><path d="M0.5,0.02 C0.62,0.02 0.68,0.1 0.7,0.18 L0.8,0.24 L0.8,0.3 C0.81,0.4 0.81,0.5 0.82,0.56 C0.9,0.64 0.95,0.74 0.93,0.86 C0.91,0.94 0.81,0.97 0.71,0.96 L0.58,0.93 L0.52,0.99 L0.44,0.93 L0.3,0.96 C0.2,0.97 0.09,0.94 0.07,0.86 C0.05,0.74 0.1,0.64 0.18,0.56 C0.19,0.5 0.19,0.4 0.2,0.3 L0.2,0.24 L0.3,0.18 C0.32,0.1 0.38,0.02 0.5,0.02 Z" fill="#dedede" transform="translate(0.04,0.015) scale(0.92,0.97)"/><path d="M0.5,0.04 C0.6,0.04 0.66,0.11 0.68,0.19 L0.78,0.25 L0.78,0.3 C0.79,0.4 0.79,0.55 0.8,0.66 C0.7,0.7 0.6,0.68 0.5,0.72 C0.4,0.68 0.3,0.7 0.2,0.66 C0.21,0.55 0.21,0.4 0.22,0.3 L0.22,0.25 L0.32,0.19 C0.34,0.11 0.4,0.04 0.5,0.04 Z" fill="#4946ae"/><ellipse cx="0.32" cy="0.45" rx="0.06" ry="0.08" fill="#dedede" opacity="0.7"/><ellipse cx="0.56" cy="0.66" rx="0.16" ry="0.05" fill="#dedede"/><ellipse cx="0.2" cy="0.8" rx="0.14" ry="0.09" fill="#4946ae"/><ellipse cx="0.79" cy="0.83" rx="0.14" ry="0.09" fill="#4946ae"/></g></g>
<g filter="url(#bl)"><rect x="240" y="325.3" width="25.40" height="34.90" fill="#1a1a1a"/><g transform="translate(252.57,325.80) scale(-12.446,33.900)"><path d="M0.5,0.02 C0.62,0.02 0.68,0.1 0.7,0.18 L0.8,0.24 L0.8,0.3 C0.81,0.4 0.81,0.5 0.82,0.56 C0.9,0.64 0.95,0.74 0.93,0.86 C0.91,0.94 0.81,0.97 0.71,0.96 L0.58,0.93 L0.52,0.99 L0.44,0.93 L0.3,0.96 C0.2,0.97 0.09,0.94 0.07,0.86 C0.05,0.74 0.1,0.64 0.18,0.56 C0.19,0.5 0.19,0.4 0.2,0.3 L0.2,0.24 L0.3,0.18 C0.32,0.1 0.38,0.02 0.5,0.02 Z" fill="#8a8a8a"/><path d="M0.5,0.02 C0.62,0.02 0.68,0.1 0.7,0.18 L0.8,0.24 L0.8,0.3 C0.81,0.4 0.81,0.5 0.82,0.56 C0.9,0.64 0.95,0.74 0.93,0.86 C0.91,0.94 0.81,0.97 0.71,0.96 L0.58,0.93 L0.52,0.99 L0.44,0.93 L0.3,0.96 C0.2,0.97 0.09,0.94 0.07,0.86 C0.05,0.74 0.1,0.64 0.18,0.56 C0.19,0.5 0.19,0.4 0.2,0.3 L0.2,0.24 L0.3,0.18 C0.32,0.1 0.38,0.02 0.5,0.02 Z" fill="#dedede" transform="translate(0.04,0.015) scale(0.92,0.97)"/><path d="M0.5,0.04 C0.6,0.04 0.66,0.11 0.68,0.19 L0.78,0.25 L0.78,0.3 C0.79,0.4 0.79,0.55 0.8,0.66 C0.7,0.7 0.6,0.68 0.5,0.72 C0.4,0.68 0.3,0.7 0.2,0.66 C0.21,0.55 0.21,0.4 0.22,0.3 L0.22,0.25 L0.32,0.19 C0.34,0.11 0.4,0.04 0.5,0.04 Z" fill="#4946ae"/><ellipse cx="0.32" cy="0.45" rx="0.06" ry="0.08" fill="#dedede" opacity="0.7"/><ellipse cx="0.56" cy="0.66" rx="0.16" ry="0.05" fill="#dedede"/><ellipse cx="0.2" cy="0.8" rx="0.14" ry="0.09" fill="#4946ae"/><ellipse cx="0.79" cy="0.83" rx="0.14" ry="0.09" fill="#4946ae"/></g><g transform="translate(252.83,325.80) scale(12.446,33.900)"><path d="M0.5,0.02 C0.62,0.02 0.68,0.1 0.7,0.18 L0.8,0.24 L0.8,0.3 C0.81,0.4 0.81,0.5 0.82,0.56 C0.9,0.64 0.95,0.74 0.93,0.86 C0.91,0.94 0.81,0.97 0.71,0.96 L0.58,0.93 L0.52,0.99 L0.44,0.93 L0.3,0.96 C0.2,0.97 0.09,0.94 0.07,0.86 C0.05,0.74 0.1,0.64 0.18,0.56 C0.19,0.5 0.19,0.4 0.2,0.3 L0.2,0.24 L0.3,0.18 C0.32,0.1 0.38,0.02 0.5,0.02 Z" fill="#8a8a8a"/><path d="M0.5,0.02 C0.62,0.02 0.68,0.1 0.7,0.18 L0.8,0.24 L0.8,0.3 C0.81,0.4 0.81,0.5 0.82,0.56 C0.9,0.64 0.95,0.74 0.93,0.86 C0.91,0.94 0.81,0.97 0.71,0.96 L0.58,0.93 L0.52,0.99 L0.44,0.93 L0.3,0.96 C0.2,0.97 0.09,0.94 0.07,0.86 C0.05,0.74 0.1,0.64 0.18,0.56 C0.19,0.5 0.19,0.4 0.2,0.3 L0.2,0.24 L0.3,0.18 C0.32,0.1 0.38,0.02 0.5,0.02 Z" fill="#dedede" transform="translate(0.04,0.015) scale(0.92,0.97)"/><path d="M0.5,0.04 C0.6,0.04 0.66,0.11 0.68,0.19 L0.78,0.25 L0.78,0.3 C0.79,0.4 0.79,0.55 0.8,0.66 C0.7,0.7 0.6,0.68 0.5,0.72 C0.4,0.68 0.3,0.7 0.2,0.66 C0.21,0.55 0.21,0.4 0.22,0.3 L0.22,0.25 L0.32,0.19 C0.34,0.11 0.4,0.04 0.5,0.04 Z" fill="#4946ae"/><ellipse cx="0.32" cy="0.45" rx="0.06" ry="0.08" fill="#dedede" opacity="0.7"/><ellipse cx="0.56" cy="0.66" rx="0.16" ry="0.05" fill="#dedede"/><ellipse cx="0.2" cy="0.8" rx="0.14" ry="0.09" fill="#4946ae"/><ellipse cx="0.79" cy="0.83" rx="0.14" ry="0.09" fill="#4946ae"/></g></g>
<g filter="url(#bl)"><rect x="166.8" y="364.4" width="13.70" height="33.90" fill="#1a1a1a"/><g transform="translate(180.36,364.90) scale(-13.426,32.900)"><path d="M0.5,0.02 C0.62,0.02 0.68,0.1 0.7,0.18 L0.8,0.24 L0.8,0.3 C0.81,0.4 0.81,0.5 0.82,0.56 C0.9,0.64 0.95,0.74 0.93,0.86 C0.91,0.94 0.81,0.97 0.71,0.96 L0.58,0.93 L0.52,0.99 L0.44,0.93 L0.3,0.96 C0.2,0.97 0.09,0.94 0.07,0.86 C0.05,0.74 0.1,0.64 0.18,0.56 C0.19,0.5 0.19,0.4 0.2,0.3 L0.2,0.24 L0.3,0.18 C0.32,0.1 0.38,0.02 0.5,0.02 Z" fill="#8a8a8a"/><path d="M0.5,0.02 C0.62,0.02 0.68,0.1 0.7,0.18 L0.8,0.24 L0.8,0.3 C0.81,0.4 0.81,0.5 0.82,0.56 C0.9,0.64 0.95,0.74 0.93,0.86 C0.91,0.94 0.81,0.97 0.71,0.96 L0.58,0.93 L0.52,0.99 L0.44,0.93 L0.3,0.96 C0.2,0.97 0.09,0.94 0.07,0.86 C0.05,0.74 0.1,0.64 0.18,0.56 C0.19,0.5 0.19,0.4 0.2,0.3 L0.2,0.24 L0.3,0.18 C0.32,0.1 0.38,0.02 0.5,0.02 Z" fill="#dedede" transform="translate(0.04,0.015) scale(0.92,0.97)"/><path d="M0.5,0.04 C0.6,0.04 0.66,0.11 0.68,0.19 L0.78,0.25 L0.78,0.3 C0.79,0.4 0.79,0.55 0.8,0.66 C0.7,0.7 0.6,0.68 0.5,0.72 C0.4,0.68 0.3,0.7 0.2,0.66 C0.21,0.55 0.21,0.4 0.22,0.3 L0.22,0.25 L0.32,0.19 C0.34,0.11 0.4,0.04 0.5,0.04 Z" fill="#4946ae"/><ellipse cx="0.32" cy="0.45" rx="0.06" ry="0.08" fill="#dedede" opacity="0.7"/><ellipse cx="0.56" cy="0.66" rx="0.16" ry="0.05" fill="#dedede"/><ellipse cx="0.2" cy="0.8" rx="0.14" ry="0.09" fill="#4946ae"/><ellipse cx="0.79" cy="0.83" rx="0.14" ry="0.09" fill="#4946ae"/></g></g>
<g filter="url(#bl)"><rect x="182.8" y="363.4" width="24.80" height="33.80" fill="#1a1a1a"/><g transform="translate(182.92,363.90) scale(12.152,32.800)"><path d="M0.5,0.02 C0.62,0.02 0.68,0.1 0.7,0.18 L0.8,0.24 L0.8,0.3 C0.81,0.4 0.81,0.5 0.82,0.56 C0.9,0.64 0.95,0.74 0.93,0.86 C0.91,0.94 0.81,0.97 0.71,0.96 L0.58,0.93 L0.52,0.99 L0.44,0.93 L0.3,0.96 C0.2,0.97 0.09,0.94 0.07,0.86 C0.05,0.74 0.1,0.64 0.18,0.56 C0.19,0.5 0.19,0.4 0.2,0.3 L0.2,0.24 L0.3,0.18 C0.32,0.1 0.38,0.02 0.5,0.02 Z" fill="#8a8a8a"/><path d="M0.5,0.02 C0.62,0.02 0.68,0.1 0.7,0.18 L0.8,0.24 L0.8,0.3 C0.81,0.4 0.81,0.5 0.82,0.56 C0.9,0.64 0.95,0.74 0.93,0.86 C0.91,0.94 0.81,0.97 0.71,0.96 L0.58,0.93 L0.52,0.99 L0.44,0.93 L0.3,0.96 C0.2,0.97 0.09,0.94 0.07,0.86 C0.05,0.74 0.1,0.64 0.18,0.56 C0.19,0.5 0.19,0.4 0.2,0.3 L0.2,0.24 L0.3,0.18 C0.32,0.1 0.38,0.02 0.5,0.02 Z" fill="#dedede" transform="translate(0.04,0.015) scale(0.92,0.97)"/><path d="M0.5,0.04 C0.6,0.04 0.66,0.11 0.68,0.19 L0.78,0.25 L0.78,0.3 C0.79,0.4 0.79,0.55 0.8,0.66 C0.7,0.7 0.6,0.68 0.5,0.72 C0.4,0.68 0.3,0.7 0.2,0.66 C0.21,0.55 0.21,0.4 0.22,0.3 L0.22,0.25 L0.32,0.19 C0.34,0.11 0.4,0.04 0.5,0.04 Z" fill="#4946ae"/><ellipse cx="0.32" cy="0.45" rx="0.06" ry="0.08" fill="#dedede" opacity="0.7"/><ellipse cx="0.56" cy="0.66" rx="0.16" ry="0.05" fill="#dedede"/><ellipse cx="0.2" cy="0.8" rx="0.14" ry="0.09" fill="#4946ae"/><ellipse cx="0.79" cy="0.83" rx="0.14" ry="0.09" fill="#4946ae"/></g><g transform="translate(207.48,363.90) scale(-12.152,32.800)"><path d="M0.5,0.02 C0.62,0.02 0.68,0.1 0.7,0.18 L0.8,0.24 L0.8,0.3 C0.81,0.4 0.81,0.5 0.82,0.56 C0.9,0.64 0.95,0.74 0.93,0.86 C0.91,0.94 0.81,0.97 0.71,0.96 L0.58,0.93 L0.52,0.99 L0.44,0.93 L0.3,0.96 C0.2,0.97 0.09,0.94 0.07,0.86 C0.05,0.74 0.1,0.64 0.18,0.56 C0.19,0.5 0.19,0.4 0.2,0.3 L0.2,0.24 L0.3,0.18 C0.32,0.1 0.38,0.02 0.5,0.02 Z" fill="#8a8a8a"/><path d="M0.5,0.02 C0.62,0.02 0.68,0.1 0.7,0.18 L0.8,0.24 L0.8,0.3 C0.81,0.4 0.81,0.5 0.82,0.56 C0.9,0.64 0.95,0.74 0.93,0.86 C0.91,0.94 0.81,0.97 0.71,0.96 L0.58,0.93 L0.52,0.99 L0.44,0.93 L0.3,0.96 C0.2,0.97 0.09,0.94 0.07,0.86 C0.05,0.74 0.1,0.64 0.18,0.56 C0.19,0.5 0.19,0.4 0.2,0.3 L0.2,0.24 L0.3,0.18 C0.32,0.1 0.38,0.02 0.5,0.02 Z" fill="#dedede" transform="translate(0.04,0.015) scale(0.92,0.97)"/><path d="M0.5,0.04 C0.6,0.04 0.66,0.11 0.68,0.19 L0.78,0.25 L0.78,0.3 C0.79,0.4 0.79,0.55 0.8,0.66 C0.7,0.7 0.6,0.68 0.5,0.72 C0.4,0.68 0.3,0.7 0.2,0.66 C0.21,0.55 0.21,0.4 0.22,0.3 L0.22,0.25 L0.32,0.19 C0.34,0.11 0.4,0.04 0.5,0.04 Z" fill="#4946ae"/><ellipse cx="0.32" cy="0.45" rx="0.06" ry="0.08" fill="#dedede" opacity="0.7"/><ellipse cx="0.56" cy="0.66" rx="0.16" ry="0.05" fill="#dedede"/><ellipse cx="0.2" cy="0.8" rx="0.14" ry="0.09" fill="#4946ae"/><ellipse cx="0.79" cy="0.83" rx="0.14" ry="0.09" fill="#4946ae"/></g></g>
<g filter="url(#bl)"><rect x="212.9" y="363.8" width="25.40" height="34.00" fill="#1a1a1a"/><g transform="translate(213.03,364.30) scale(12.446,33.000)"><path d="M0.5,0.02 C0.62,0.02 0.68,0.1 0.7,0.18 L0.8,0.24 L0.8,0.3 C0.81,0.4 0.81,0.5 0.82,0.56 C0.9,0.64 0.95,0.74 0.93,0.86 C0.91,0.94 0.81,0.97 0.71,0.96 L0.58,0.93 L0.52,0.99 L0.44,0.93 L0.3,0.96 C0.2,0.97 0.09,0.94 0.07,0.86 C0.05,0.74 0.1,0.64 0.18,0.56 C0.19,0.5 0.19,0.4 0.2,0.3 L0.2,0.24 L0.3,0.18 C0.32,0.1 0.38,0.02 0.5,0.02 Z" fill="#8a8a8a"/><path d="M0.5,0.02 C0.62,0.02 0.68,0.1 0.7,0.18 L0.8,0.24 L0.8,0.3 C0.81,0.4 0.81,0.5 0.82,0.56 C0.9,0.64 0.95,0.74 0.93,0.86 C0.91,0.94 0.81,0.97 0.71,0.96 L0.58,0.93 L0.52,0.99 L0.44,0.93 L0.3,0.96 C0.2,0.97 0.09,0.94 0.07,0.86 C0.05,0.74 0.1,0.64 0.18,0.56 C0.19,0.5 0.19,0.4 0.2,0.3 L0.2,0.24 L0.3,0.18 C0.32,0.1 0.38,0.02 0.5,0.02 Z" fill="#dedede" transform="translate(0.04,0.015) scale(0.92,0.97)"/><path d="M0.5,0.04 C0.6,0.04 0.66,0.11 0.68,0.19 L0.78,0.25 L0.78,0.3 C0.79,0.4 0.79,0.55 0.8,0.66 C0.7,0.7 0.6,0.68 0.5,0.72 C0.4,0.68 0.3,0.7 0.2,0.66 C0.21,0.55 0.21,0.4 0.22,0.3 L0.22,0.25 L0.32,0.19 C0.34,0.11 0.4,0.04 0.5,0.04 Z" fill="#4946ae"/><ellipse cx="0.32" cy="0.45" rx="0.06" ry="0.08" fill="#dedede" opacity="0.7"/><ellipse cx="0.56" cy="0.66" rx="0.16" ry="0.05" fill="#dedede"/><ellipse cx="0.2" cy="0.8" rx="0.14" ry="0.09" fill="#4946ae"/><ellipse cx="0.79" cy="0.83" rx="0.14" ry="0.09" fill="#4946ae"/></g><g transform="translate(238.17,364.30) scale(-12.446,33.000)"><path d="M0.5,0.02 C0.62,0.02 0.68,0.1 0.7,0.18 L0.8,0.24 L0.8,0.3 C0.81,0.4 0.81,0.5 0.82,0.56 C0.9,0.64 0.95,0.74 0.93,0.86 C0.91,0.94 0.81,0.97 0.71,0.96 L0.58,0.93 L0.52,0.99 L0.44,0.93 L0.3,0.96 C0.2,0.97 0.09,0.94 0.07,0.86 C0.05,0.74 0.1,0.64 0.18,0.56 C0.19,0.5 0.19,0.4 0.2,0.3 L0.2,0.24 L0.3,0.18 C0.32,0.1 0.38,0.02 0.5,0.02 Z" fill="#8a8a8a"/><path d="M0.5,0.02 C0.62,0.02 0.68,0.1 0.7,0.18 L0.8,0.24 L0.8,0.3 C0.81,0.4 0.81,0.5 0.82,0.56 C0.9,0.64 0.95,0.74 0.93,0.86 C0.91,0.94 0.81,0.97 0.71,0.96 L0.58,0.93 L0.52,0.99 L0.44,0.93 L0.3,0.96 C0.2,0.97 0.09,0.94 0.07,0.86 C0.05,0.74 0.1,0.64 0.18,0.56 C0.19,0.5 0.19,0.4 0.2,0.3 L0.2,0.24 L0.3,0.18 C0.32,0.1 0.38,0.02 0.5,0.02 Z" fill="#dedede" transform="translate(0.04,0.015) scale(0.92,0.97)"/><path d="M0.5,0.04 C0.6,0.04 0.66,0.11 0.68,0.19 L0.78,0.25 L0.78,0.3 C0.79,0.4 0.79,0.55 0.8,0.66 C0.7,0.7 0.6,0.68 0.5,0.72 C0.4,0.68 0.3,0.7 0.2,0.66 C0.21,0.55 0.21,0.4 0.22,0.3 L0.22,0.25 L0.32,0.19 C0.34,0.11 0.4,0.04 0.5,0.04 Z" fill="#4946ae"/><ellipse cx="0.32" cy="0.45" rx="0.06" ry="0.08" fill="#dedede" opacity="0.7"/><ellipse cx="0.56" cy="0.66" rx="0.16" ry="0.05" fill="#dedede"/><ellipse cx="0.2" cy="0.8" rx="0.14" ry="0.09" fill="#4946ae"/><ellipse cx="0.79" cy="0.83" rx="0.14" ry="0.09" fill="#4946ae"/></g></g>
<g filter="url(#bl)"><rect x="240" y="363" width="25.80" height="34.80" fill="#1a1a1a"/><g transform="translate(240.13,363.50) scale(12.642,33.800)"><path d="M0.5,0.02 C0.62,0.02 0.68,0.1 0.7,0.18 L0.8,0.24 L0.8,0.3 C0.81,0.4 0.81,0.5 0.82,0.56 C0.9,0.64 0.95,0.74 0.93,0.86 C0.91,0.94 0.81,0.97 0.71,0.96 L0.58,0.93 L0.52,0.99 L0.44,0.93 L0.3,0.96 C0.2,0.97 0.09,0.94 0.07,0.86 C0.05,0.74 0.1,0.64 0.18,0.56 C0.19,0.5 0.19,0.4 0.2,0.3 L0.2,0.24 L0.3,0.18 C0.32,0.1 0.38,0.02 0.5,0.02 Z" fill="#8a8a8a"/><path d="M0.5,0.02 C0.62,0.02 0.68,0.1 0.7,0.18 L0.8,0.24 L0.8,0.3 C0.81,0.4 0.81,0.5 0.82,0.56 C0.9,0.64 0.95,0.74 0.93,0.86 C0.91,0.94 0.81,0.97 0.71,0.96 L0.58,0.93 L0.52,0.99 L0.44,0.93 L0.3,0.96 C0.2,0.97 0.09,0.94 0.07,0.86 C0.05,0.74 0.1,0.64 0.18,0.56 C0.19,0.5 0.19,0.4 0.2,0.3 L0.2,0.24 L0.3,0.18 C0.32,0.1 0.38,0.02 0.5,0.02 Z" fill="#dedede" transform="translate(0.04,0.015) scale(0.92,0.97)"/><path d="M0.5,0.04 C0.6,0.04 0.66,0.11 0.68,0.19 L0.78,0.25 L0.78,0.3 C0.79,0.4 0.79,0.55 0.8,0.66 C0.7,0.7 0.6,0.68 0.5,0.72 C0.4,0.68 0.3,0.7 0.2,0.66 C0.21,0.55 0.21,0.4 0.22,0.3 L0.22,0.25 L0.32,0.19 C0.34,0.11 0.4,0.04 0.5,0.04 Z" fill="#4946ae"/><ellipse cx="0.32" cy="0.45" rx="0.06" ry="0.08" fill="#dedede" opacity="0.7"/><ellipse cx="0.56" cy="0.66" rx="0.16" ry="0.05" fill="#dedede"/><ellipse cx="0.2" cy="0.8" rx="0.14" ry="0.09" fill="#4946ae"/><ellipse cx="0.79" cy="0.83" rx="0.14" ry="0.09" fill="#4946ae"/></g><g transform="translate(265.67,363.50) scale(-12.642,33.800)"><path d="M0.5,0.02 C0.62,0.02 0.68,0.1 0.7,0.18 L0.8,0.24 L0.8,0.3 C0.81,0.4 0.81,0.5 0.82,0.56 C0.9,0.64 0.95,0.74 0.93,0.86 C0.91,0.94 0.81,0.97 0.71,0.96 L0.58,0.93 L0.52,0.99 L0.44,0.93 L0.3,0.96 C0.2,0.97 0.09,0.94 0.07,0.86 C0.05,0.74 0.1,0.64 0.18,0.56 C0.19,0.5 0.19,0.4 0.2,0.3 L0.2,0.24 L0.3,0.18 C0.32,0.1 0.38,0.02 0.5,0.02 Z" fill="#8a8a8a"/><path d="M0.5,0.02 C0.62,0.02 0.68,0.1 0.7,0.18 L0.8,0.24 L0.8,0.3 C0.81,0.4 0.81,0.5 0.82,0.56 C0.9,0.64 0.95,0.74 0.93,0.86 C0.91,0.94 0.81,0.97 0.71,0.96 L0.58,0.93 L0.52,0.99 L0.44,0.93 L0.3,0.96 C0.2,0.97 0.09,0.94 0.07,0.86 C0.05,0.74 0.1,0.64 0.18,0.56 C0.19,0.5 0.19,0.4 0.2,0.3 L0.2,0.24 L0.3,0.18 C0.32,0.1 0.38,0.02 0.5,0.02 Z" fill="#dedede" transform="translate(0.04,0.015) scale(0.92,0.97)"/><path d="M0.5,0.04 C0.6,0.04 0.66,0.11 0.68,0.19 L0.78,0.25 L0.78,0.3 C0.79,0.4 0.79,0.55 0.8,0.66 C0.7,0.7 0.6,0.68 0.5,0.72 C0.4,0.68 0.3,0.7 0.2,0.66 C0.21,0.55 0.21,0.4 0.22,0.3 L0.22,0.25 L0.32,0.19 C0.34,0.11 0.4,0.04 0.5,0.04 Z" fill="#4946ae"/><ellipse cx="0.32" cy="0.45" rx="0.06" ry="0.08" fill="#dedede" opacity="0.7"/><ellipse cx="0.56" cy="0.66" rx="0.16" ry="0.05" fill="#dedede"/><ellipse cx="0.2" cy="0.8" rx="0.14" ry="0.09" fill="#4946ae"/><ellipse cx="0.79" cy="0.83" rx="0.14" ry="0.09" fill="#4946ae"/></g></g>
<text transform="translate(79.2,196.6) scale(1,1.08)" font-size="8.7" text-anchor="start" font-weight="normal" fill="#111"  stroke="#111" stroke-width="0.08">vehicle</text>
<line x1="42.3" y1="202" x2="143.9" y2="202" stroke="#000" stroke-width="1.4" />
<text transform="translate(199.7,196.6) scale(1,1.08)" font-size="8.7" text-anchor="start" font-weight="normal" fill="#111"  stroke="#111" stroke-width="0.08">ABT-199</text>
<line x1="169.7" y1="202.3" x2="265" y2="202.3" stroke="#000" stroke-width="1.4" />
<text transform="translate(42.3,212.2) scale(1,1.08)" font-size="6.8" text-anchor="start" font-weight="normal" fill="#111" textLength="8.3" lengthAdjust="spacingAndGlyphs"  stroke="#111" stroke-width="0.08">#1</text>
<text transform="translate(56.6,212.2) scale(1,1.08)" font-size="6.8" text-anchor="start" font-weight="normal" fill="#111" textLength="8.3" lengthAdjust="spacingAndGlyphs"  stroke="#111" stroke-width="0.08">#2</text>
<text transform="translate(71.2,212.2) scale(1,1.08)" font-size="6.8" text-anchor="start" font-weight="normal" fill="#111" textLength="8.3" lengthAdjust="spacingAndGlyphs"  stroke="#111" stroke-width="0.08">#3</text>
<text transform="translate(84.3,212.2) scale(1,1.08)" font-size="6.8" text-anchor="start" font-weight="normal" fill="#111" textLength="8.3" lengthAdjust="spacingAndGlyphs"  stroke="#111" stroke-width="0.08">#4</text>
<text transform="translate(102.3,212.2) scale(1,1.08)" font-size="6.8" text-anchor="start" font-weight="normal" fill="#111" textLength="8.3" lengthAdjust="spacingAndGlyphs"  stroke="#111" stroke-width="0.08">#5</text>
<text transform="translate(114.3,212.2) scale(1,1.08)" font-size="6.8" text-anchor="start" font-weight="normal" fill="#111" textLength="8.3" lengthAdjust="spacingAndGlyphs"  stroke="#111" stroke-width="0.08">#6</text>
<text transform="translate(129.5,212.2) scale(1,1.08)" font-size="6.8" text-anchor="start" font-weight="normal" fill="#111" textLength="8.3" lengthAdjust="spacingAndGlyphs"  stroke="#111" stroke-width="0.08">#7</text>
<text transform="translate(169.5,212.2) scale(1,1.08)" font-size="6.8" text-anchor="start" font-weight="normal" fill="#111" textLength="8.3" lengthAdjust="spacingAndGlyphs"  stroke="#111" stroke-width="0.08">#8</text>
<text transform="translate(182.8,212.2) scale(1,1.08)" font-size="6.8" text-anchor="start" font-weight="normal" fill="#111" textLength="8.3" lengthAdjust="spacingAndGlyphs"  stroke="#111" stroke-width="0.08">#9</text>
<text transform="translate(193.4,212.2) scale(1,1.08)" font-size="6.8" text-anchor="start" font-weight="normal" fill="#111" textLength="10.5" lengthAdjust="spacingAndGlyphs"  stroke="#111" stroke-width="0.08">#10</text>
<text transform="translate(209.7,212.2) scale(1,1.08)" font-size="6.8" text-anchor="start" font-weight="normal" fill="#111" textLength="10.5" lengthAdjust="spacingAndGlyphs"  stroke="#111" stroke-width="0.08">#11</text>
<text transform="translate(222.4,212.2) scale(1,1.08)" font-size="6.8" text-anchor="start" font-weight="normal" fill="#111" textLength="10.5" lengthAdjust="spacingAndGlyphs"  stroke="#111" stroke-width="0.08">#12</text>
<text transform="translate(238.7,212.2) scale(1,1.08)" font-size="6.8" text-anchor="start" font-weight="normal" fill="#111" textLength="10.5" lengthAdjust="spacingAndGlyphs"  stroke="#111" stroke-width="0.08">#13</text>
<text transform="translate(253.1,212.2) scale(1,1.08)" font-size="6.8" text-anchor="start" font-weight="normal" fill="#111" textLength="12.5" lengthAdjust="spacingAndGlyphs"  stroke="#111" stroke-width="0.08">#14</text>
<text transform="translate(10.2,234) scale(1,1.08)" font-size="8.7" text-anchor="start" font-weight="normal" fill="#111"  stroke="#111" stroke-width="0.08">Day 0</text>
<text transform="translate(10.2,270.7) scale(1,1.08)" font-size="8.7" text-anchor="start" font-weight="normal" fill="#111"  stroke="#111" stroke-width="0.08">Day 3</text>
<text transform="translate(10.2,308) scale(1,1.08)" font-size="8.7" text-anchor="start" font-weight="normal" fill="#111"  stroke="#111" stroke-width="0.08">Day 7</text>
<text transform="translate(8.2,344.7) scale(1,1.08)" font-size="8.7" text-anchor="start" font-weight="normal" fill="#111"  stroke="#111" stroke-width="0.08">Day 10</text>
<text transform="translate(8.9,381.2) scale(1,1.08)" font-size="8.7" text-anchor="start" font-weight="normal" fill="#111"  stroke="#111" stroke-width="0.08">Day 14</text>
<text transform="translate(271.7,34.4) scale(1,1.08)" font-size="8.8" text-anchor="middle" font-weight="normal" fill="#111"  stroke="#111" stroke-width="0.08">V</text>
<text transform="translate(287.6,34.4) scale(1,1.08)" font-size="8.8" text-anchor="middle" font-weight="normal" fill="#111"  stroke="#111" stroke-width="0.08">A</text>
<line x1="266.6" y1="39.7" x2="276.2" y2="39.7" stroke="#000" stroke-width="1.2" />
<line x1="282.6" y1="39.7" x2="292.3" y2="39.7" stroke="#000" stroke-width="1.2" />
<text transform="translate(271.4,50.9) scale(1,1.08)" font-size="8.3" text-anchor="middle" font-weight="normal" fill="#111"  stroke="#111" stroke-width="0.08">#1</text>
<text transform="translate(287.4,50.9) scale(1,1.08)" font-size="8.3" text-anchor="middle" font-weight="normal" fill="#111"  stroke="#111" stroke-width="0.08">#8</text>
<g filter="url(#bl)"><rect x="262.9" y="54.1" width="16.00" height="27.20" fill="#1a1a1a"/><g transform="translate(263.06,54.60) scale(15.680,26.200)"><path d="M0.5,0.02 C0.62,0.02 0.68,0.1 0.7,0.18 L0.8,0.24 L0.8,0.3 C0.81,0.4 0.81,0.5 0.82,0.56 C0.9,0.64 0.95,0.74 0.93,0.86 C0.91,0.94 0.81,0.97 0.71,0.96 L0.58,0.93 L0.52,0.99 L0.44,0.93 L0.3,0.96 C0.2,0.97 0.09,0.94 0.07,0.86 C0.05,0.74 0.1,0.64 0.18,0.56 C0.19,0.5 0.19,0.4 0.2,0.3 L0.2,0.24 L0.3,0.18 C0.32,0.1 0.38,0.02 0.5,0.02 Z" fill="#8a8a8a"/><path d="M0.5,0.02 C0.62,0.02 0.68,0.1 0.7,0.18 L0.8,0.24 L0.8,0.3 C0.81,0.4 0.81,0.5 0.82,0.56 C0.9,0.64 0.95,0.74 0.93,0.86 C0.91,0.94 0.81,0.97 0.71,0.96 L0.58,0.93 L0.52,0.99 L0.44,0.93 L0.3,0.96 C0.2,0.97 0.09,0.94 0.07,0.86 C0.05,0.74 0.1,0.64 0.18,0.56 C0.19,0.5 0.19,0.4 0.2,0.3 L0.2,0.24 L0.3,0.18 C0.32,0.1 0.38,0.02 0.5,0.02 Z" fill="#dedede" transform="translate(0.04,0.015) scale(0.92,0.97)"/><path d="M0.5,0.04 C0.6,0.04 0.66,0.11 0.68,0.19 L0.78,0.25 L0.78,0.3 C0.79,0.4 0.79,0.5 0.8,0.57 C0.7,0.62 0.6,0.62 0.5,0.66 C0.4,0.62 0.3,0.62 0.2,0.57 C0.21,0.5 0.21,0.4 0.22,0.3 L0.22,0.25 L0.32,0.19 C0.34,0.11 0.4,0.04 0.5,0.04 Z" fill="#4946ae"/><ellipse cx="0.2" cy="0.8" rx="0.15" ry="0.11" fill="#4946ae"/><ellipse cx="0.78" cy="0.83" rx="0.16" ry="0.11" fill="#4946ae"/><ellipse cx="0.5" cy="0.93" rx="0.12" ry="0.04" fill="#4946ae" opacity="0.7"/><ellipse cx="0.8" cy="0.82" rx="0.08" ry="0.04" fill="#4fc0e8"/></g></g>
<g filter="url(#bl)"><rect x="281.9" y="54.1" width="14.80" height="27.20" fill="#1a1a1a"/><g transform="translate(296.55,54.60) scale(-14.504,26.200)"><path d="M0.5,0.02 C0.62,0.02 0.68,0.1 0.7,0.18 L0.8,0.24 L0.8,0.3 C0.81,0.4 0.81,0.5 0.82,0.56 C0.9,0.64 0.95,0.74 0.93,0.86 C0.91,0.94 0.81,0.97 0.71,0.96 L0.58,0.93 L0.52,0.99 L0.44,0.93 L0.3,0.96 C0.2,0.97 0.09,0.94 0.07,0.86 C0.05,0.74 0.1,0.64 0.18,0.56 C0.19,0.5 0.19,0.4 0.2,0.3 L0.2,0.24 L0.3,0.18 C0.32,0.1 0.38,0.02 0.5,0.02 Z" fill="#8a8a8a"/><path d="M0.5,0.02 C0.62,0.02 0.68,0.1 0.7,0.18 L0.8,0.24 L0.8,0.3 C0.81,0.4 0.81,0.5 0.82,0.56 C0.9,0.64 0.95,0.74 0.93,0.86 C0.91,0.94 0.81,0.97 0.71,0.96 L0.58,0.93 L0.52,0.99 L0.44,0.93 L0.3,0.96 C0.2,0.97 0.09,0.94 0.07,0.86 C0.05,0.74 0.1,0.64 0.18,0.56 C0.19,0.5 0.19,0.4 0.2,0.3 L0.2,0.24 L0.3,0.18 C0.32,0.1 0.38,0.02 0.5,0.02 Z" fill="#dedede" transform="translate(0.04,0.015) scale(0.92,0.97)"/><path d="M0.5,0.04 C0.6,0.04 0.66,0.11 0.68,0.19 L0.78,0.25 L0.78,0.3 C0.79,0.4 0.79,0.55 0.8,0.66 C0.7,0.7 0.6,0.68 0.5,0.72 C0.4,0.68 0.3,0.7 0.2,0.66 C0.21,0.55 0.21,0.4 0.22,0.3 L0.22,0.25 L0.32,0.19 C0.34,0.11 0.4,0.04 0.5,0.04 Z" fill="#4946ae"/><ellipse cx="0.32" cy="0.45" rx="0.06" ry="0.08" fill="#dedede" opacity="0.7"/><ellipse cx="0.56" cy="0.66" rx="0.16" ry="0.05" fill="#dedede"/><ellipse cx="0.2" cy="0.8" rx="0.14" ry="0.09" fill="#4946ae"/><ellipse cx="0.79" cy="0.83" rx="0.14" ry="0.09" fill="#4946ae"/></g></g>
<g filter="url(#bl)"><rect x="262.9" y="83.7" width="16.00" height="28.00" fill="#1a1a1a"/><g transform="translate(263.06,84.20) scale(15.680,27.000)"><path d="M0.5,0.02 C0.62,0.02 0.68,0.1 0.7,0.18 L0.8,0.24 L0.8,0.3 C0.81,0.4 0.81,0.5 0.82,0.56 C0.9,0.64 0.95,0.74 0.93,0.86 C0.91,0.94 0.81,0.97 0.71,0.96 L0.58,0.93 L0.52,0.99 L0.44,0.93 L0.3,0.96 C0.2,0.97 0.09,0.94 0.07,0.86 C0.05,0.74 0.1,0.64 0.18,0.56 C0.19,0.5 0.19,0.4 0.2,0.3 L0.2,0.24 L0.3,0.18 C0.32,0.1 0.38,0.02 0.5,0.02 Z" fill="#8a8a8a"/><path d="M0.5,0.02 C0.62,0.02 0.68,0.1 0.7,0.18 L0.8,0.24 L0.8,0.3 C0.81,0.4 0.81,0.5 0.82,0.56 C0.9,0.64 0.95,0.74 0.93,0.86 C0.91,0.94 0.81,0.97 0.71,0.96 L0.58,0.93 L0.52,0.99 L0.44,0.93 L0.3,0.96 C0.2,0.97 0.09,0.94 0.07,0.86 C0.05,0.74 0.1,0.64 0.18,0.56 C0.19,0.5 0.19,0.4 0.2,0.3 L0.2,0.24 L0.3,0.18 C0.32,0.1 0.38,0.02 0.5,0.02 Z" fill="#dedede" transform="translate(0.04,0.015) scale(0.92,0.97)"/><path d="M0.5,0.04 C0.6,0.04 0.66,0.11 0.68,0.19 L0.78,0.25 L0.78,0.3 C0.79,0.4 0.79,0.5 0.8,0.57 C0.7,0.62 0.6,0.62 0.5,0.66 C0.4,0.62 0.3,0.62 0.2,0.57 C0.21,0.5 0.21,0.4 0.22,0.3 L0.22,0.25 L0.32,0.19 C0.34,0.11 0.4,0.04 0.5,0.04 Z" fill="#4946ae"/><ellipse cx="0.2" cy="0.8" rx="0.15" ry="0.11" fill="#4946ae"/><ellipse cx="0.78" cy="0.83" rx="0.16" ry="0.11" fill="#4946ae"/><ellipse cx="0.5" cy="0.93" rx="0.12" ry="0.04" fill="#4946ae" opacity="0.7"/><ellipse cx="0.5" cy="0.58" rx="0.2" ry="0.05" fill="#e8e8e8"/></g></g>
<g filter="url(#bl)"><rect x="281.9" y="83.7" width="14.80" height="28.00" fill="#1a1a1a"/><g transform="translate(296.55,84.20) scale(-14.504,27.000)"><path d="M0.5,0.02 C0.62,0.02 0.68,0.1 0.7,0.18 L0.8,0.24 L0.8,0.3 C0.81,0.4 0.81,0.5 0.82,0.56 C0.9,0.64 0.95,0.74 0.93,0.86 C0.91,0.94 0.81,0.97 0.71,0.96 L0.58,0.93 L0.52,0.99 L0.44,0.93 L0.3,0.96 C0.2,0.97 0.09,0.94 0.07,0.86 C0.05,0.74 0.1,0.64 0.18,0.56 C0.19,0.5 0.19,0.4 0.2,0.3 L0.2,0.24 L0.3,0.18 C0.32,0.1 0.38,0.02 0.5,0.02 Z" fill="#8a8a8a"/><path d="M0.5,0.02 C0.62,0.02 0.68,0.1 0.7,0.18 L0.8,0.24 L0.8,0.3 C0.81,0.4 0.81,0.5 0.82,0.56 C0.9,0.64 0.95,0.74 0.93,0.86 C0.91,0.94 0.81,0.97 0.71,0.96 L0.58,0.93 L0.52,0.99 L0.44,0.93 L0.3,0.96 C0.2,0.97 0.09,0.94 0.07,0.86 C0.05,0.74 0.1,0.64 0.18,0.56 C0.19,0.5 0.19,0.4 0.2,0.3 L0.2,0.24 L0.3,0.18 C0.32,0.1 0.38,0.02 0.5,0.02 Z" fill="#dedede" transform="translate(0.04,0.015) scale(0.92,0.97)"/><path d="M0.5,0.04 C0.6,0.04 0.66,0.11 0.68,0.19 L0.78,0.25 L0.78,0.3 C0.79,0.4 0.79,0.55 0.8,0.66 C0.7,0.7 0.6,0.68 0.5,0.72 C0.4,0.68 0.3,0.7 0.2,0.66 C0.21,0.55 0.21,0.4 0.22,0.3 L0.22,0.25 L0.32,0.19 C0.34,0.11 0.4,0.04 0.5,0.04 Z" fill="#4946ae"/><ellipse cx="0.32" cy="0.45" rx="0.06" ry="0.08" fill="#dedede" opacity="0.7"/><ellipse cx="0.56" cy="0.66" rx="0.16" ry="0.05" fill="#dedede"/><path d="M0.25,0.3 L0.45,0.22 L0.5,0.4 L0.4,0.55 L0.22,0.6 Z" fill="#dedede"/><ellipse cx="0.2" cy="0.8" rx="0.14" ry="0.09" fill="#4946ae"/><ellipse cx="0.79" cy="0.83" rx="0.14" ry="0.09" fill="#4946ae"/></g></g>
<g filter="url(#bl)"><rect x="262.9" y="114.2" width="16.00" height="27.70" fill="#1a1a1a"/><g transform="translate(263.06,114.70) scale(15.680,26.700)"><path d="M0.5,0.02 C0.62,0.02 0.68,0.1 0.7,0.18 L0.8,0.24 L0.8,0.3 C0.81,0.4 0.81,0.5 0.82,0.56 C0.9,0.64 0.95,0.74 0.93,0.86 C0.91,0.94 0.81,0.97 0.71,0.96 L0.58,0.93 L0.52,0.99 L0.44,0.93 L0.3,0.96 C0.2,0.97 0.09,0.94 0.07,0.86 C0.05,0.74 0.1,0.64 0.18,0.56 C0.19,0.5 0.19,0.4 0.2,0.3 L0.2,0.24 L0.3,0.18 C0.32,0.1 0.38,0.02 0.5,0.02 Z" fill="#3436a0"/><path d="M0.5,0.02 C0.62,0.02 0.68,0.1 0.7,0.18 L0.8,0.24 L0.8,0.3 C0.81,0.4 0.81,0.5 0.82,0.56 C0.9,0.64 0.95,0.74 0.93,0.86 C0.91,0.94 0.81,0.97 0.71,0.96 L0.58,0.93 L0.52,0.99 L0.44,0.93 L0.3,0.96 C0.2,0.97 0.09,0.94 0.07,0.86 C0.05,0.74 0.1,0.64 0.18,0.56 C0.19,0.5 0.19,0.4 0.2,0.3 L0.2,0.24 L0.3,0.18 C0.32,0.1 0.38,0.02 0.5,0.02 Z" fill="#4946ae" transform="translate(0.05,0.02) scale(0.9,0.95)"/><ellipse cx="0.5" cy="0.45" rx="0.3" ry="0.24" fill="#3e5ccc"/><ellipse cx="0.48" cy="0.42" rx="0.2" ry="0.15" fill="#44a6dc"/><ellipse cx="0.46" cy="0.4" rx="0.12" ry="0.09" fill="#86c858"/><ellipse cx="0.52" cy="0.16" rx="0.12" ry="0.06" fill="#3f7ed6"/><ellipse cx="0.52" cy="0.16" rx="0.06" ry="0.03" fill="#4cb8d8"/><ellipse cx="0.5" cy="0.64" rx="0.09" ry="0.035" fill="#d8d8f0" opacity="0.85"/><ellipse cx="0.17" cy="0.78" rx="0.1" ry="0.06" fill="#44a6d0"/><ellipse cx="0.17" cy="0.78" rx="0.05" ry="0.03" fill="#d8b040"/><ellipse cx="0.8" cy="0.8" rx="0.1" ry="0.06" fill="#44a6d0"/><ellipse cx="0.52" cy="0.6" rx="0.18" ry="0.09" fill="#44a6dc"/><ellipse cx="0.54" cy="0.58" rx="0.1" ry="0.05" fill="#a8d040"/><ellipse cx="0.8" cy="0.8" rx="0.055" ry="0.033" fill="#e04020"/><ellipse cx="0.5" cy="0.36" rx="0.05" ry="0.03" fill="#e8b030"/></g></g>
<g filter="url(#bl)"><rect x="281.9" y="114.2" width="14.80" height="27.70" fill="#1a1a1a"/><g transform="translate(296.55,114.70) scale(-14.504,26.700)"><path d="M0.5,0.02 C0.62,0.02 0.68,0.1 0.7,0.18 L0.8,0.24 L0.8,0.3 C0.81,0.4 0.81,0.5 0.82,0.56 C0.9,0.64 0.95,0.74 0.93,0.86 C0.91,0.94 0.81,0.97 0.71,0.96 L0.58,0.93 L0.52,0.99 L0.44,0.93 L0.3,0.96 C0.2,0.97 0.09,0.94 0.07,0.86 C0.05,0.74 0.1,0.64 0.18,0.56 C0.19,0.5 0.19,0.4 0.2,0.3 L0.2,0.24 L0.3,0.18 C0.32,0.1 0.38,0.02 0.5,0.02 Z" fill="#8a8a8a"/><path d="M0.5,0.02 C0.62,0.02 0.68,0.1 0.7,0.18 L0.8,0.24 L0.8,0.3 C0.81,0.4 0.81,0.5 0.82,0.56 C0.9,0.64 0.95,0.74 0.93,0.86 C0.91,0.94 0.81,0.97 0.71,0.96 L0.58,0.93 L0.52,0.99 L0.44,0.93 L0.3,0.96 C0.2,0.97 0.09,0.94 0.07,0.86 C0.05,0.74 0.1,0.64 0.18,0.56 C0.19,0.5 0.19,0.4 0.2,0.3 L0.2,0.24 L0.3,0.18 C0.32,0.1 0.38,0.02 0.5,0.02 Z" fill="#dedede" transform="translate(0.04,0.015) scale(0.92,0.97)"/><path d="M0.5,0.04 C0.6,0.04 0.66,0.11 0.68,0.19 L0.78,0.25 L0.78,0.3 C0.79,0.4 0.79,0.55 0.8,0.66 C0.7,0.7 0.6,0.68 0.5,0.72 C0.4,0.68 0.3,0.7 0.2,0.66 C0.21,0.55 0.21,0.4 0.22,0.3 L0.22,0.25 L0.32,0.19 C0.34,0.11 0.4,0.04 0.5,0.04 Z" fill="#4946ae"/><ellipse cx="0.32" cy="0.45" rx="0.06" ry="0.08" fill="#dedede" opacity="0.7"/><ellipse cx="0.56" cy="0.66" rx="0.16" ry="0.05" fill="#dedede"/><ellipse cx="0.55" cy="0.6" rx="0.16" ry="0.07" fill="#46b4d8"/><ellipse cx="0.55" cy="0.6" rx="0.09" ry="0.04" fill="#8cd050"/><ellipse cx="0.2" cy="0.8" rx="0.14" ry="0.09" fill="#4946ae"/><ellipse cx="0.79" cy="0.83" rx="0.14" ry="0.09" fill="#4946ae"/></g></g>
<text transform="translate(235,70) scale(1,1.08)" font-size="8.7" text-anchor="start" font-weight="normal" fill="#111"  stroke="#111" stroke-width="0.08">Day 0</text>
<text transform="translate(235,97.8) scale(1,1.08)" font-size="8.7" text-anchor="start" font-weight="normal" fill="#111"  stroke="#111" stroke-width="0.08">Day 3</text>
<text transform="translate(233,130.8) scale(1,1.08)" font-size="8.7" text-anchor="start" font-weight="normal" fill="#111"  stroke="#111" stroke-width="0.08">Day 14</text>
<text transform="translate(378.5,34.7) scale(1,1.08)" font-size="9.3" text-anchor="start" font-weight="normal" fill="#111"  stroke="#111" stroke-width="0.08">Ratio of spleen flux</text>
<line x1="359.6" y1="40.4" x2="359.6" y2="124.3" stroke="#000" stroke-width="1.2" />
<line x1="356.20000000000005" y1="45.9" x2="359.6" y2="45.9" stroke="#000" stroke-width="1.2" />
<text transform="translate(353,49.0) scale(1,1.08)" font-size="8.8" text-anchor="end" font-weight="normal" fill="#111" stroke-width="0.01">8</text>
<line x1="356.20000000000005" y1="65.4" x2="359.6" y2="65.4" stroke="#000" stroke-width="1.2" />
<text transform="translate(353,68.5) scale(1,1.08)" font-size="8.8" text-anchor="end" font-weight="normal" fill="#111" stroke-width="0.01">6</text>
<line x1="356.20000000000005" y1="85" x2="359.6" y2="85" stroke="#000" stroke-width="1.2" />
<text transform="translate(353,88.1) scale(1,1.08)" font-size="8.8" text-anchor="end" font-weight="normal" fill="#111" stroke-width="0.01">4</text>
<line x1="356.20000000000005" y1="104.4" x2="359.6" y2="104.4" stroke="#000" stroke-width="1.2" />
<text transform="translate(353,107.5) scale(1,1.08)" font-size="8.8" text-anchor="end" font-weight="normal" fill="#111" stroke-width="0.01">2</text>
<line x1="356.20000000000005" y1="123.7" x2="359.6" y2="123.7" stroke="#000" stroke-width="1.2" />
<text transform="translate(353,126.8) scale(1,1.08)" font-size="8.8" text-anchor="end" font-weight="normal" fill="#111" stroke-width="0.01">0</text>
<line x1="359.0" y1="123.7" x2="475.3" y2="123.7" stroke="#000" stroke-width="1.2" />
<line x1="373.6" y1="123.7" x2="373.6" y2="127.3" stroke="#000" stroke-width="1.2" />
<text transform="translate(373.6,138.6) scale(1,1.08)" font-size="8.8" text-anchor="middle" font-weight="normal" fill="#111" stroke-width="0.01">1</text>
<line x1="395.6" y1="123.7" x2="395.6" y2="127.3" stroke="#000" stroke-width="1.2" />
<text transform="translate(395.6,138.6) scale(1,1.08)" font-size="8.8" text-anchor="middle" font-weight="normal" fill="#111" stroke-width="0.01">3</text>
<line x1="417.3" y1="123.7" x2="417.3" y2="127.3" stroke="#000" stroke-width="1.2" />
<text transform="translate(417.3,138.6) scale(1,1.08)" font-size="8.8" text-anchor="middle" font-weight="normal" fill="#111" stroke-width="0.01">7</text>
<line x1="439.4" y1="123.7" x2="439.4" y2="127.3" stroke="#000" stroke-width="1.2" />
<text transform="translate(439.4,138.6) scale(1,1.08)" font-size="8.8" text-anchor="middle" font-weight="normal" fill="#111" stroke-width="0.01">10</text>
<line x1="461.3" y1="123.7" x2="461.3" y2="127.3" stroke="#000" stroke-width="1.2" />
<text transform="translate(461.3,138.6) scale(1,1.08)" font-size="8.8" text-anchor="middle" font-weight="normal" fill="#111" stroke-width="0.01">14</text>
<text transform="translate(417.8,153.6) scale(1,1.08)" font-size="10.5" text-anchor="middle" font-weight="normal" fill="#111" textLength="12" lengthAdjust="spacingAndGlyphs" stroke="#111" stroke-width="0.3">Day</text>
<text transform="translate(328.5,81.6) rotate(-90)" x="0" y="0" font-size="9.2" text-anchor="middle" fill="#111" stroke="#111" stroke-width="0.3" textLength="87.5" lengthAdjust="spacingAndGlyphs">Ratio of spleen to hind leg</text>
<text transform="translate(340.1,82.3) rotate(-90)" x="0" y="0" font-size="9.2" text-anchor="middle" fill="#111" stroke="#111" stroke-width="0.3" textLength="34.5" lengthAdjust="spacingAndGlyphs">(total flux)</text>
<path d="M373.6,116.3 L396,110.2 L417.3,114.4 L439,116.3 L461.2,109.4" fill="none" stroke="#a8062a" stroke-width="1.45" stroke-linejoin="round"/>
<line x1="373.6" y1="113.5" x2="373.6" y2="119.1" stroke="#a8062a" stroke-width="1" />
<line x1="371.20000000000005" y1="113.5" x2="376.0" y2="113.5" stroke="#a8062a" stroke-width="1" />
<line x1="371.20000000000005" y1="119.1" x2="376.0" y2="119.1" stroke="#a8062a" stroke-width="1" />
<rect x="372.20000000000005" y="114.89999999999999" width="2.8" height="2.8" fill="#a8062a"/>
<line x1="396" y1="104.2" x2="396" y2="116.2" stroke="#a8062a" stroke-width="1" />
<line x1="393.6" y1="104.2" x2="398.4" y2="104.2" stroke="#a8062a" stroke-width="1" />
<line x1="393.6" y1="116.2" x2="398.4" y2="116.2" stroke="#a8062a" stroke-width="1" />
<rect x="394.6" y="108.8" width="2.8" height="2.8" fill="#a8062a"/>
<line x1="417.3" y1="112.4" x2="417.3" y2="116.4" stroke="#a8062a" stroke-width="1" />
<line x1="414.90000000000003" y1="112.4" x2="419.7" y2="112.4" stroke="#a8062a" stroke-width="1" />
<line x1="414.90000000000003" y1="116.4" x2="419.7" y2="116.4" stroke="#a8062a" stroke-width="1" />
<rect x="415.90000000000003" y="113.0" width="2.8" height="2.8" fill="#a8062a"/>
<line x1="439" y1="114.3" x2="439" y2="118.3" stroke="#a8062a" stroke-width="1" />
<line x1="436.6" y1="114.3" x2="441.4" y2="114.3" stroke="#a8062a" stroke-width="1" />
<line x1="436.6" y1="118.3" x2="441.4" y2="118.3" stroke="#a8062a" stroke-width="1" />
<rect x="437.6" y="114.89999999999999" width="2.8" height="2.8" fill="#a8062a"/>
<line x1="461.2" y1="106.4" x2="461.2" y2="112.4" stroke="#a8062a" stroke-width="1" />
<line x1="458.8" y1="106.4" x2="463.59999999999997" y2="106.4" stroke="#a8062a" stroke-width="1" />
<line x1="458.8" y1="112.4" x2="463.59999999999997" y2="112.4" stroke="#a8062a" stroke-width="1" />
<rect x="459.8" y="108.0" width="2.8" height="2.8" fill="#a8062a"/>
<path d="M373.6,120.6 L395.6,112.9 L417.3,93.7 L439,87.2 L461.2,71.1" fill="none" stroke="#16367e" stroke-width="1.45" stroke-linejoin="round"/>
<rect x="372.20000000000005" y="119.19999999999999" width="2.8" height="2.8" fill="#16367e"/>
<line x1="395.6" y1="109.9" x2="395.6" y2="115.9" stroke="#16367e" stroke-width="1" />
<line x1="393.20000000000005" y1="109.9" x2="398.0" y2="109.9" stroke="#16367e" stroke-width="1" />
<line x1="393.20000000000005" y1="115.9" x2="398.0" y2="115.9" stroke="#16367e" stroke-width="1" />
<rect x="394.20000000000005" y="111.5" width="2.8" height="2.8" fill="#16367e"/>
<line x1="417.3" y1="87.60000000000001" x2="417.3" y2="99.8" stroke="#16367e" stroke-width="1" />
<line x1="414.90000000000003" y1="87.60000000000001" x2="419.7" y2="87.60000000000001" stroke="#16367e" stroke-width="1" />
<line x1="414.90000000000003" y1="99.8" x2="419.7" y2="99.8" stroke="#16367e" stroke-width="1" />
<rect x="415.90000000000003" y="92.3" width="2.8" height="2.8" fill="#16367e"/>
<line x1="439" y1="70.7" x2="439" y2="103.7" stroke="#16367e" stroke-width="1" />
<line x1="436.6" y1="70.7" x2="441.4" y2="70.7" stroke="#16367e" stroke-width="1" />
<line x1="436.6" y1="103.7" x2="441.4" y2="103.7" stroke="#16367e" stroke-width="1" />
<rect x="437.6" y="85.8" width="2.8" height="2.8" fill="#16367e"/>
<line x1="461.2" y1="53.099999999999994" x2="461.2" y2="89.1" stroke="#16367e" stroke-width="1" />
<line x1="458.8" y1="53.099999999999994" x2="463.59999999999997" y2="53.099999999999994" stroke="#16367e" stroke-width="1" />
<line x1="458.8" y1="89.1" x2="463.59999999999997" y2="89.1" stroke="#16367e" stroke-width="1" />
<rect x="459.8" y="69.69999999999999" width="2.8" height="2.8" fill="#16367e"/>
<line x1="467.2" y1="44" x2="475.3" y2="44" stroke="#a8062a" stroke-width="1.3" />
<rect x="469.9" y="42.6" width="2.8" height="2.8" fill="#a8062a"/>
<text transform="translate(479,47.1) scale(1,1.08)" font-size="8.6" text-anchor="start" font-weight="normal" fill="#111" textLength="24.3" lengthAdjust="spacingAndGlyphs"  stroke="#111" stroke-width="0.08">vehicle</text>
<line x1="467.2" y1="57" x2="475.3" y2="57" stroke="#16367e" stroke-width="1.3" />
<rect x="469.9" y="55.6" width="2.8" height="2.8" fill="#16367e"/>
<text transform="translate(479,60.1) scale(1,1.08)" font-size="8.6" text-anchor="start" font-weight="normal" fill="#111"  stroke="#111" stroke-width="0.08">ABT-199</text>
<text transform="translate(389.6,208.6) scale(1,1.08)" font-size="10.8" text-anchor="start" font-weight="normal" fill="#111" textLength="34.4" lengthAdjust="spacingAndGlyphs"  stroke="#111" stroke-width="0.08">hCD45</text>
<text transform="translate(424.5,206.4) scale(1,1.08)" font-size="8.8" text-anchor="start" font-weight="normal" fill="#111"  stroke="#111" stroke-width="0.08">+</text>
<line x1="357.4" y1="216" x2="357.4" y2="321.5" stroke="#000" stroke-width="1.2" />
<line x1="354.0" y1="218.29999999999995" x2="357.4" y2="218.29999999999995" stroke="#000" stroke-width="1.2" />
<text transform="translate(347,221.39999999999995) scale(1,1.08)" font-size="8.7" text-anchor="end" font-weight="normal" fill="#111" stroke-width="0.01">100</text>
<line x1="354.0" y1="238.82" x2="357.4" y2="238.82" stroke="#000" stroke-width="1.2" />
<text transform="translate(347,241.92) scale(1,1.08)" font-size="8.7" text-anchor="end" font-weight="normal" fill="#111" stroke-width="0.01">80</text>
<line x1="354.0" y1="259.34" x2="357.4" y2="259.34" stroke="#000" stroke-width="1.2" />
<text transform="translate(347,262.44) scale(1,1.08)" font-size="8.7" text-anchor="end" font-weight="normal" fill="#111" stroke-width="0.01">60</text>
<line x1="354.0" y1="279.85999999999996" x2="357.4" y2="279.85999999999996" stroke="#000" stroke-width="1.2" />
<text transform="translate(347,282.96) scale(1,1.08)" font-size="8.7" text-anchor="end" font-weight="normal" fill="#111" stroke-width="0.01">40</text>
<line x1="354.0" y1="300.38" x2="357.4" y2="300.38" stroke="#000" stroke-width="1.2" />
<text transform="translate(347,303.48) scale(1,1.08)" font-size="8.7" text-anchor="end" font-weight="normal" fill="#111" stroke-width="0.01">20</text>
<line x1="354.0" y1="320.9" x2="357.4" y2="320.9" stroke="#000" stroke-width="1.2" />
<text transform="translate(347,324.0) scale(1,1.08)" font-size="8.7" text-anchor="end" font-weight="normal" fill="#111" stroke-width="0.01">0</text>
<line x1="356.79999999999995" y1="321" x2="461.7" y2="321" stroke="#000" stroke-width="1.2" />
<line x1="373" y1="321" x2="373" y2="324.6" stroke="#000" stroke-width="1.2" />
<line x1="408.7" y1="321" x2="408.7" y2="324.6" stroke="#000" stroke-width="1.2" />
<line x1="444.2" y1="321" x2="444.2" y2="324.6" stroke="#000" stroke-width="1.2" />
<line x1="367.79999999999995" y1="233.2" x2="367.79999999999995" y2="247.6" stroke="#c44a66" stroke-width="1" />
<line x1="365.59999999999997" y1="233.2" x2="369.99999999999994" y2="233.2" stroke="#c44a66" stroke-width="1" />
<rect x="363.2" y="247.6" width="9.20" height="73.30" fill="#a3022b"/>
<line x1="381.15" y1="303.7" x2="381.15" y2="310.3" stroke="#4a6aa5" stroke-width="1" />
<line x1="378.95" y1="303.7" x2="383.34999999999997" y2="303.7" stroke="#4a6aa5" stroke-width="1" />
<rect x="376.8" y="310.3" width="8.70" height="10.60" fill="#2d4a7c"/>
<line x1="403.54999999999995" y1="231.3" x2="403.54999999999995" y2="237.1" stroke="#c44a66" stroke-width="1" />
<line x1="401.34999999999997" y1="231.3" x2="405.74999999999994" y2="231.3" stroke="#c44a66" stroke-width="1" />
<rect x="399.2" y="237.1" width="8.70" height="83.80" fill="#a3022b"/>
<line x1="416.65" y1="252.1" x2="416.65" y2="268.1" stroke="#4a6aa5" stroke-width="1" />
<line x1="414.45" y1="252.1" x2="418.84999999999997" y2="252.1" stroke="#4a6aa5" stroke-width="1" />
<rect x="412.3" y="268.1" width="8.70" height="52.80" fill="#2d4a7c"/>
<line x1="438.6" y1="227" x2="438.6" y2="228.1" stroke="#c44a66" stroke-width="1" />
<line x1="436.40000000000003" y1="227" x2="440.8" y2="227" stroke="#c44a66" stroke-width="1" />
<rect x="434" y="228.1" width="9.20" height="92.80" fill="#a3022b"/>
<line x1="452.25" y1="232.3" x2="452.25" y2="238" stroke="#4a6aa5" stroke-width="1" />
<line x1="450.05" y1="232.3" x2="454.45" y2="232.3" stroke="#4a6aa5" stroke-width="1" />
<rect x="447.7" y="238" width="9.10" height="82.90" fill="#2d4a7c"/>
<text transform="translate(372.5,225.4) scale(1,1.08)" font-size="8" text-anchor="middle" font-weight="normal" fill="#111"  stroke="#111" stroke-width="0.08">***</text>
<text transform="translate(408.4,225.4) scale(1,1.08)" font-size="8" text-anchor="middle" font-weight="normal" fill="#111"  stroke="#111" stroke-width="0.08">**</text>
<text transform="translate(445.3,225.4) scale(1,1.08)" font-size="8" text-anchor="middle" font-weight="normal" fill="#111"  stroke="#111" stroke-width="0.08">**</text>
<rect x="463.7" y="219.5" width="10.9" height="6.2" fill="#a3022b"/>
<text transform="translate(478.5,225.6) scale(1,1.08)" font-size="8.6" text-anchor="start" font-weight="normal" fill="#111" textLength="24.3" lengthAdjust="spacingAndGlyphs"  stroke="#111" stroke-width="0.08">vehicle</text>
<rect x="463.7" y="232.6" width="10.9" height="6" fill="#2d4a7c"/>
<text transform="translate(478.5,238.7) scale(1,1.08)" font-size="8.5" text-anchor="start" font-weight="normal" fill="#111"  stroke="#111" stroke-width="0.08">ABT-199</text>
<text transform="translate(376.3,338) rotate(-45)" font-size="8.8" text-anchor="end" fill="#111" stroke="#111" stroke-width="0.08">Blood</text>
<text transform="translate(412.2,338) rotate(-45)" font-size="8.8" text-anchor="end" fill="#111" stroke="#111" stroke-width="0.08">Bone marrow</text>
<text transform="translate(447.7,338) rotate(-45)" font-size="8.8" text-anchor="end" fill="#111" stroke="#111" stroke-width="0.08">Spleen</text>
<text transform="translate(325.3,268) rotate(-90)" font-size="9.2" text-anchor="middle" fill="#111" stroke="#111" stroke-width="0.3" textLength="79" lengthAdjust="spacingAndGlyphs">%hCD45<tspan font-size="7" dy="-3">+</tspan><tspan dy="3"> cells (day14)</tspan></text>
<text transform="translate(84.3,476.7) scale(1,1.08)" font-size="10.3" text-anchor="start" font-weight="normal" fill="#111"  stroke="#111" stroke-width="0.08">Flux</text>
<line x1="41.2" y1="494" x2="41.2" y2="567.7" stroke="#000" stroke-width="1.2" />
<line x1="37.800000000000004" y1="497.1" x2="41.2" y2="497.1" stroke="#000" stroke-width="1.2" />
<text transform="translate(34.7,500.20000000000005) scale(1,1.08)" font-size="8.7" text-anchor="end" font-weight="normal" fill="#111" stroke-width="0.01">10</text>
<line x1="37.800000000000004" y1="511.1" x2="41.2" y2="511.1" stroke="#000" stroke-width="1.2" />
<text transform="translate(34.7,514.2) scale(1,1.08)" font-size="8.7" text-anchor="end" font-weight="normal" fill="#111" stroke-width="0.01">8</text>
<line x1="37.800000000000004" y1="525.1" x2="41.2" y2="525.1" stroke="#000" stroke-width="1.2" />
<text transform="translate(34.7,528.2) scale(1,1.08)" font-size="8.7" text-anchor="end" font-weight="normal" fill="#111" stroke-width="0.01">6</text>
<line x1="37.800000000000004" y1="539.1" x2="41.2" y2="539.1" stroke="#000" stroke-width="1.2" />
<text transform="translate(34.7,542.2) scale(1,1.08)" font-size="8.7" text-anchor="end" font-weight="normal" fill="#111" stroke-width="0.01">4</text>
<line x1="37.800000000000004" y1="553.1" x2="41.2" y2="553.1" stroke="#000" stroke-width="1.2" />
<text transform="translate(34.7,556.2) scale(1,1.08)" font-size="8.7" text-anchor="end" font-weight="normal" fill="#111" stroke-width="0.01">2</text>
<line x1="37.800000000000004" y1="567.1" x2="41.2" y2="567.1" stroke="#000" stroke-width="1.2" />
<text transform="translate(34.7,570.2) scale(1,1.08)" font-size="8.7" text-anchor="end" font-weight="normal" fill="#111" stroke-width="0.01">0</text>
<line x1="40.6" y1="566.8" x2="146.2" y2="566.8" stroke="#000" stroke-width="1.2" />
<line x1="51.3" y1="566.8" x2="51.3" y2="570.4" stroke="#000" stroke-width="1.2" />
<text transform="translate(51.3,582.1) scale(1,1.08)" font-size="8.7" text-anchor="middle" font-weight="normal" fill="#111" stroke-width="0.01">0</text>
<line x1="72.3" y1="566.8" x2="72.3" y2="570.4" stroke="#000" stroke-width="1.2" />
<text transform="translate(72.3,582.1) scale(1,1.08)" font-size="8.7" text-anchor="middle" font-weight="normal" fill="#111" stroke-width="0.01">3</text>
<line x1="93.5" y1="566.8" x2="93.5" y2="570.4" stroke="#000" stroke-width="1.2" />
<text transform="translate(93.5,582.1) scale(1,1.08)" font-size="8.7" text-anchor="middle" font-weight="normal" fill="#111" stroke-width="0.01">7</text>
<line x1="114.6" y1="566.8" x2="114.6" y2="570.4" stroke="#000" stroke-width="1.2" />
<text transform="translate(114.6,582.1) scale(1,1.08)" font-size="8.7" text-anchor="middle" font-weight="normal" fill="#111" stroke-width="0.01">10</text>
<line x1="135.6" y1="566.8" x2="135.6" y2="570.4" stroke="#000" stroke-width="1.2" />
<text transform="translate(135.6,582.1) scale(1,1.08)" font-size="8.7" text-anchor="middle" font-weight="normal" fill="#111" stroke-width="0.01">14</text>
<text transform="translate(93.8,596.8) scale(1,1.08)" font-size="10.5" text-anchor="middle" font-weight="normal" fill="#111" textLength="12.2" lengthAdjust="spacingAndGlyphs" stroke="#111" stroke-width="0.3">Day</text>
<text transform="translate(17.9,530.3) rotate(-90)" x="0" y="0" font-size="9.8" text-anchor="middle" fill="#111" stroke="#111" stroke-width="0.3" textLength="85" lengthAdjust="spacingAndGlyphs">Total flux relative to day 0</text>
<path d="M51.3,560.1 L72.3,556.4 L93.5,546.9 L114.6,535.7 L135.6,519.5" fill="none" stroke="#a8062a" stroke-width="1.45" stroke-linejoin="round"/>
<rect x="49.9" y="558.7" width="2.8" height="2.8" fill="#a8062a"/>
<rect x="70.89999999999999" y="555.0" width="2.8" height="2.8" fill="#a8062a"/>
<line x1="93.5" y1="543.6999999999999" x2="93.5" y2="550.1" stroke="#a8062a" stroke-width="1" />
<line x1="91.3" y1="543.6999999999999" x2="95.7" y2="543.6999999999999" stroke="#a8062a" stroke-width="1" />
<line x1="91.3" y1="550.1" x2="95.7" y2="550.1" stroke="#a8062a" stroke-width="1" />
<rect x="92.1" y="545.5" width="2.8" height="2.8" fill="#a8062a"/>
<line x1="114.6" y1="532.0" x2="114.6" y2="539.4000000000001" stroke="#a8062a" stroke-width="1" />
<line x1="112.39999999999999" y1="532.0" x2="116.8" y2="532.0" stroke="#a8062a" stroke-width="1" />
<line x1="112.39999999999999" y1="539.4000000000001" x2="116.8" y2="539.4000000000001" stroke="#a8062a" stroke-width="1" />
<rect x="113.19999999999999" y="534.3000000000001" width="2.8" height="2.8" fill="#a8062a"/>
<line x1="135.6" y1="513.5" x2="135.6" y2="525.5" stroke="#a8062a" stroke-width="1" />
<line x1="133.4" y1="513.5" x2="137.79999999999998" y2="513.5" stroke="#a8062a" stroke-width="1" />
<line x1="133.4" y1="525.5" x2="137.79999999999998" y2="525.5" stroke="#a8062a" stroke-width="1" />
<rect x="134.2" y="518.1" width="2.8" height="2.8" fill="#a8062a"/>
<path d="M51.3,560.1 L72.3,562.5 L93.5,560.3 L114.6,559.3 L135.6,558.2" fill="none" stroke="#16367e" stroke-width="1.45" stroke-linejoin="round"/>
<rect x="49.9" y="558.7" width="2.8" height="2.8" fill="#16367e"/>
<rect x="70.89999999999999" y="561.1" width="2.8" height="2.8" fill="#16367e"/>
<rect x="92.1" y="558.9" width="2.8" height="2.8" fill="#16367e"/>
<rect x="113.19999999999999" y="557.9" width="2.8" height="2.8" fill="#16367e"/>
<rect x="134.2" y="556.8000000000001" width="2.8" height="2.8" fill="#16367e"/>
<text transform="translate(94,541.1) scale(1,1.08)" font-size="8" text-anchor="middle" font-weight="normal" fill="#111"  stroke="#111" stroke-width="0.08">***</text>
<text transform="translate(115,530.1999999999999) scale(1,1.08)" font-size="8" text-anchor="middle" font-weight="normal" fill="#111"  stroke="#111" stroke-width="0.08">****</text>
<text transform="translate(136,511.9) scale(1,1.08)" font-size="8" text-anchor="middle" font-weight="normal" fill="#111"  stroke="#111" stroke-width="0.08">****</text>
<line x1="51.2" y1="500.3" x2="58.7" y2="500.3" stroke="#a8062a" stroke-width="1.3" />
<rect x="53.6" y="498.9" width="2.8" height="2.8" fill="#a8062a"/>
<text transform="translate(62.5,503.3) scale(1,1.08)" font-size="8.6" text-anchor="start" font-weight="normal" fill="#111" textLength="24.3" lengthAdjust="spacingAndGlyphs"  stroke="#111" stroke-width="0.08">vehicle</text>
<line x1="51.2" y1="509.8" x2="58.7" y2="509.8" stroke="#16367e" stroke-width="1.3" />
<rect x="53.6" y="508.4" width="2.8" height="2.8" fill="#16367e"/>
<text transform="translate(62.5,512.9) scale(1,1.08)" font-size="8.4" text-anchor="start" font-weight="normal" fill="#111"  stroke="#111" stroke-width="0.08">ABT-199</text>
<text transform="translate(238.4,477.1) scale(1,1.08)" font-size="10.8" text-anchor="start" font-weight="normal" fill="#111" textLength="34.2" lengthAdjust="spacingAndGlyphs"  stroke="#111" stroke-width="0.08">hCD45</text>
<text transform="translate(273.1,475.2) scale(1,1.08)" font-size="8.8" text-anchor="start" font-weight="normal" fill="#111"  stroke="#111" stroke-width="0.08">+</text>
<line x1="205.9" y1="494.4" x2="205.9" y2="568.0" stroke="#000" stroke-width="1.2" />
<line x1="202.5" y1="496.7" x2="205.9" y2="496.7" stroke="#000" stroke-width="1.2" />
<text transform="translate(199.1,499.8) scale(1,1.08)" font-size="8.7" text-anchor="end" font-weight="normal" fill="#111" stroke-width="0.01">100</text>
<line x1="202.5" y1="510.84" x2="205.9" y2="510.84" stroke="#000" stroke-width="1.2" />
<text transform="translate(199.1,513.9399999999999) scale(1,1.08)" font-size="8.7" text-anchor="end" font-weight="normal" fill="#111" stroke-width="0.01">80</text>
<line x1="202.5" y1="524.98" x2="205.9" y2="524.98" stroke="#000" stroke-width="1.2" />
<text transform="translate(199.1,528.08) scale(1,1.08)" font-size="8.7" text-anchor="end" font-weight="normal" fill="#111" stroke-width="0.01">60</text>
<line x1="202.5" y1="539.12" x2="205.9" y2="539.12" stroke="#000" stroke-width="1.2" />
<text transform="translate(199.1,542.22) scale(1,1.08)" font-size="8.7" text-anchor="end" font-weight="normal" fill="#111" stroke-width="0.01">40</text>
<line x1="202.5" y1="553.26" x2="205.9" y2="553.26" stroke="#000" stroke-width="1.2" />
<text transform="translate(199.1,556.36) scale(1,1.08)" font-size="8.7" text-anchor="end" font-weight="normal" fill="#111" stroke-width="0.01">20</text>
<line x1="202.5" y1="567.4" x2="205.9" y2="567.4" stroke="#000" stroke-width="1.2" />
<text transform="translate(199.1,570.5) scale(1,1.08)" font-size="8.7" text-anchor="end" font-weight="normal" fill="#111" stroke-width="0.01">0</text>
<line x1="205.3" y1="567.4" x2="309.5" y2="567.4" stroke="#000" stroke-width="1.2" />
<line x1="222.9" y1="567.4" x2="222.9" y2="571.0" stroke="#000" stroke-width="1.2" />
<text transform="translate(222.9,582.6) scale(1,1.08)" font-size="8.7" text-anchor="middle" font-weight="normal" fill="#111" stroke-width="0.01">0</text>
<line x1="258.1" y1="567.4" x2="258.1" y2="571.0" stroke="#000" stroke-width="1.2" />
<text transform="translate(258.1,582.6) scale(1,1.08)" font-size="8.7" text-anchor="middle" font-weight="normal" fill="#111" stroke-width="0.01">8</text>
<line x1="293.3" y1="567.4" x2="293.3" y2="571.0" stroke="#000" stroke-width="1.2" />
<text transform="translate(293.3,582.6) scale(1,1.08)" font-size="8.7" text-anchor="middle" font-weight="normal" fill="#111" stroke-width="0.01">14</text>
<text transform="translate(258.6,596.9) scale(1,1.08)" font-size="10.5" text-anchor="middle" font-weight="normal" fill="#111" textLength="11.8" lengthAdjust="spacingAndGlyphs" stroke="#111" stroke-width="0.3">Day</text>
<text transform="translate(176.3,531.3) rotate(-90)" font-size="9.6" text-anchor="middle" fill="#111" stroke="#111" stroke-width="0.3" textLength="81.5" lengthAdjust="spacingAndGlyphs">% hCD45<tspan font-size="7.2" dy="-3.4">+</tspan><tspan dy="3.4"> cells in blood</tspan></text>
<path d="M222.9,561.9 L258.1,550.1 L293.3,516.4" fill="none" stroke="#a8062a" stroke-width="1.45" stroke-linejoin="round"/>
<rect x="221.5" y="560.5" width="2.8" height="2.8" fill="#a8062a"/>
<rect x="256.70000000000005" y="548.7" width="2.8" height="2.8" fill="#a8062a"/>
<line x1="293.3" y1="512.0" x2="293.3" y2="520.8" stroke="#a8062a" stroke-width="1" />
<line x1="291.1" y1="512.0" x2="295.5" y2="512.0" stroke="#a8062a" stroke-width="1" />
<line x1="291.1" y1="520.8" x2="295.5" y2="520.8" stroke="#a8062a" stroke-width="1" />
<rect x="291.90000000000003" y="515.0" width="2.8" height="2.8" fill="#a8062a"/>
<path d="M222.9,561.9 L258.1,563.9 L293.3,559" fill="none" stroke="#16367e" stroke-width="1.45" stroke-linejoin="round"/>
<rect x="221.5" y="560.5" width="2.8" height="2.8" fill="#16367e"/>
<rect x="256.70000000000005" y="562.5" width="2.8" height="2.8" fill="#16367e"/>
<line x1="293.3" y1="557" x2="293.3" y2="561" stroke="#16367e" stroke-width="1" />
<line x1="291.1" y1="557" x2="295.5" y2="557" stroke="#16367e" stroke-width="1" />
<line x1="291.1" y1="561" x2="295.5" y2="561" stroke="#16367e" stroke-width="1" />
<rect x="291.90000000000003" y="557.6" width="2.8" height="2.8" fill="#16367e"/>
<text transform="translate(256.2,546.8) scale(1,1.08)" font-size="8" text-anchor="middle" font-weight="normal" fill="#111"  stroke="#111" stroke-width="0.08">****</text>
<text transform="translate(293.5,510.09999999999997) scale(1,1.08)" font-size="8" text-anchor="middle" font-weight="normal" fill="#111"  stroke="#111" stroke-width="0.08">****</text>
<line x1="211.3" y1="501" x2="219.1" y2="501" stroke="#a8062a" stroke-width="1.3" />
<rect x="213.8" y="499.6" width="2.8" height="2.8" fill="#a8062a"/>
<text transform="translate(222.9,504.1) scale(1,1.08)" font-size="8.6" text-anchor="start" font-weight="normal" fill="#111" textLength="24.3" lengthAdjust="spacingAndGlyphs"  stroke="#111" stroke-width="0.08">vehicle</text>
<line x1="211.3" y1="510.6" x2="219.1" y2="510.6" stroke="#16367e" stroke-width="1.3" />
<rect x="213.8" y="509.2" width="2.8" height="2.8" fill="#16367e"/>
<text transform="translate(222.9,513.7) scale(1,1.08)" font-size="8.4" text-anchor="start" font-weight="normal" fill="#111"  stroke="#111" stroke-width="0.08">ABT-199</text>
<text transform="translate(401.2,477.3) scale(1,1.08)" font-size="10.7" text-anchor="start" font-weight="normal" fill="#111"  stroke="#111" stroke-width="0.08">Spleen</text>
<line x1="363.7" y1="480.3" x2="363.7" y2="568.0" stroke="#000" stroke-width="1.2" />
<line x1="360.3" y1="483.2" x2="363.7" y2="483.2" stroke="#000" stroke-width="1.2" />
<text transform="translate(356.5,486.3) scale(1,1.08)" font-size="8.7" text-anchor="end" font-weight="normal" fill="#111" stroke-width="0.01">0.4</text>
<line x1="360.3" y1="504.25" x2="363.7" y2="504.25" stroke="#000" stroke-width="1.2" />
<text transform="translate(356.5,507.35) scale(1,1.08)" font-size="8.7" text-anchor="end" font-weight="normal" fill="#111" stroke-width="0.01">0.3</text>
<line x1="360.3" y1="525.3" x2="363.7" y2="525.3" stroke="#000" stroke-width="1.2" />
<text transform="translate(356.5,528.4) scale(1,1.08)" font-size="8.7" text-anchor="end" font-weight="normal" fill="#111" stroke-width="0.01">0.2</text>
<line x1="360.3" y1="546.35" x2="363.7" y2="546.35" stroke="#000" stroke-width="1.2" />
<text transform="translate(356.5,549.45) scale(1,1.08)" font-size="8.7" text-anchor="end" font-weight="normal" fill="#111" stroke-width="0.01">0.1</text>
<line x1="360.3" y1="567.4" x2="363.7" y2="567.4" stroke="#000" stroke-width="1.2" />
<text transform="translate(356.5,570.5) scale(1,1.08)" font-size="8.7" text-anchor="end" font-weight="normal" fill="#111" stroke-width="0.01">0.0</text>
<line x1="363.09999999999997" y1="567.2" x2="471.9" y2="567.2" stroke="#000" stroke-width="1.2" />
<line x1="391.1" y1="567.2" x2="391.1" y2="570.8000000000001" stroke="#000" stroke-width="1.2" />
<line x1="444.6" y1="567.2" x2="444.6" y2="570.8000000000001" stroke="#000" stroke-width="1.2" />
<text transform="translate(390.4,582.4) scale(1,1.08)" font-size="8.8" text-anchor="middle" font-weight="normal" fill="#111"  stroke="#111" stroke-width="0.08">vehicle</text>
<text transform="translate(444.6,582.4) scale(1,1.08)" font-size="8.8" text-anchor="middle" font-weight="normal" fill="#111"  stroke="#111" stroke-width="0.08">ABT-199</text>
<text transform="translate(337.6,523.6) rotate(-90)" x="0" y="0" font-size="10" text-anchor="middle" fill="#111" stroke="#111" stroke-width="0.3" textLength="58.5" lengthAdjust="spacingAndGlyphs">Spleen weight (g)</text>
<line x1="372.4" y1="512.9" x2="409" y2="512.9" stroke="#000" stroke-width="1.3" />
<line x1="381" y1="510" x2="399.8" y2="510" stroke="#000" stroke-width="1.1" />
<line x1="381" y1="516.3" x2="399.8" y2="516.3" stroke="#000" stroke-width="1.1" />
<line x1="391.1" y1="510" x2="391.1" y2="516.3" stroke="#000" stroke-width="1.1" />
<line x1="427.2" y1="535" x2="463.3" y2="535" stroke="#000" stroke-width="1.3" />
<line x1="435.5" y1="535" x2="455" y2="535" stroke="#000" stroke-width="2.8" />
<text transform="translate(445.2,524.1) scale(1,1.08)" font-size="8" text-anchor="middle" font-weight="normal" fill="#111"  stroke="#111" stroke-width="0.08">***</text>
<text transform="translate(78.7,406.6) scale(1,1.08)" font-size="8.6" text-anchor="start" font-weight="normal" fill="#111"  stroke="#111" stroke-width="0.08">Min</text>
<text transform="translate(219.8,407.1) scale(1,1.08)" font-size="8.6" text-anchor="start" font-weight="normal" fill="#111"  stroke="#111" stroke-width="0.08">Max</text>
<defs><linearGradient id="cs" x1="0" x2="1" y1="0" y2="0"><stop offset="0" stop-color="#3b3490"/><stop offset="0.1" stop-color="#3a4ab0"/><stop offset="0.2" stop-color="#4282d2"/><stop offset="0.3" stop-color="#80cdf2"/><stop offset="0.38" stop-color="#84caca"/><stop offset="0.48" stop-color="#6cbe52"/><stop offset="0.6" stop-color="#a2c83a"/><stop offset="0.72" stop-color="#eade22"/><stop offset="0.8" stop-color="#f2c424"/><stop offset="0.9" stop-color="#e26224"/><stop offset="1" stop-color="#d22a2a"/></linearGradient></defs>
<rect x="95.1" y="401.8" width="121.5" height="4.4" fill="url(#cs)" stroke="#000" stroke-width="1"/>
<line x1="98.8" y1="406.3" x2="98.8" y2="409.3" stroke="#000" stroke-width="0.9" />
<line x1="104.95" y1="406.3" x2="104.95" y2="409.3" stroke="#000" stroke-width="0.9" />
<line x1="111.1" y1="406.3" x2="111.1" y2="409.3" stroke="#000" stroke-width="0.9" />
<line x1="117.25" y1="406.3" x2="117.25" y2="409.3" stroke="#000" stroke-width="0.9" />
<line x1="123.4" y1="406.3" x2="123.4" y2="409.3" stroke="#000" stroke-width="0.9" />
<line x1="129.55" y1="406.3" x2="129.55" y2="409.3" stroke="#000" stroke-width="0.9" />
<line x1="135.7" y1="406.3" x2="135.7" y2="409.3" stroke="#000" stroke-width="0.9" />
<line x1="141.85" y1="406.3" x2="141.85" y2="409.3" stroke="#000" stroke-width="0.9" />
<line x1="148.0" y1="406.3" x2="148.0" y2="409.3" stroke="#000" stroke-width="0.9" />
<line x1="154.15" y1="406.3" x2="154.15" y2="409.3" stroke="#000" stroke-width="0.9" />
<line x1="160.3" y1="406.3" x2="160.3" y2="409.3" stroke="#000" stroke-width="0.9" />
<line x1="166.45" y1="406.3" x2="166.45" y2="409.3" stroke="#000" stroke-width="0.9" />
<line x1="172.60000000000002" y1="406.3" x2="172.60000000000002" y2="409.3" stroke="#000" stroke-width="0.9" />
<line x1="178.75" y1="406.3" x2="178.75" y2="409.3" stroke="#000" stroke-width="0.9" />
<line x1="184.9" y1="406.3" x2="184.9" y2="409.3" stroke="#000" stroke-width="0.9" />
<line x1="191.05" y1="406.3" x2="191.05" y2="409.3" stroke="#000" stroke-width="0.9" />
<line x1="197.2" y1="406.3" x2="197.2" y2="409.3" stroke="#000" stroke-width="0.9" />
<line x1="203.35000000000002" y1="406.3" x2="203.35000000000002" y2="409.3" stroke="#000" stroke-width="0.9" />
<line x1="209.5" y1="406.3" x2="209.5" y2="409.3" stroke="#000" stroke-width="0.9" />
<line x1="215.65" y1="406.3" x2="215.65" y2="409.3" stroke="#000" stroke-width="0.9" />
<text transform="translate(118,421.4) scale(1,1.08)" font-size="8.7" text-anchor="middle" font-weight="normal" fill="#111"  stroke="#111" stroke-width="0.08">0.5</text>
<text x="140.2" y="421.4" font-size="8.7" fill="#111" stroke="#111" stroke-width="0.08">1.0 x 10<tspan font-size="7.2" dy="-3.4">3</tspan></text>
<text transform="translate(185.6,421.4) scale(1,1.08)" font-size="8.7" text-anchor="middle" font-weight="normal" fill="#111"  stroke="#111" stroke-width="0.08">1.5</text>
<text transform="translate(217,421.4) scale(1,1.08)" font-size="8.7" text-anchor="middle" font-weight="normal" fill="#111"  stroke="#111" stroke-width="0.08">2.0</text>
<text transform="translate(134,435.6) scale(1,1.08)" font-size="9.8" text-anchor="start" font-weight="normal" fill="#111" textLength="46.5" lengthAdjust="spacingAndGlyphs" stroke="#111" stroke-width="0.3">Luminescence</text>
<text transform="translate(246.7,408.2) scale(1,1.08)" font-size="8.7" text-anchor="start" font-weight="normal" fill="#111"  stroke="#111" stroke-width="0.08">Color Scale</text>
<text transform="translate(247.5,420.9) scale(1,1.08)" font-size="8.8" text-anchor="start" font-weight="normal" fill="#111" textLength="51.8" lengthAdjust="spacingAndGlyphs"  stroke="#111" stroke-width="0.08">Min= 4.00e6</text>
<text transform="translate(247.5,434.6) scale(1,1.08)" font-size="8.8" text-anchor="start" font-weight="normal" fill="#111" textLength="52.5" lengthAdjust="spacingAndGlyphs"  stroke="#111" stroke-width="0.08">Max= 2.00e8</text></svg></body></html>
